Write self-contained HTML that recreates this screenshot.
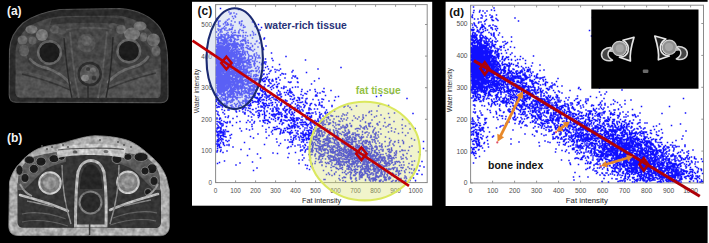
<!DOCTYPE html>
<html><head><meta charset="utf-8"><style>
html,body{margin:0;padding:0;background:#000;}
svg{display:block;font-family:"Liberation Sans",sans-serif;}
</style></head><body>
<svg width="709" height="243" viewBox="0 0 709 243"><rect width="709" height="243" fill="#000"/><rect x="707.6" y="0" width="2" height="243" fill="#fff"/><rect x="192" y="1.8" width="240.2" height="203.9" fill="#fff"/><rect x="445.6" y="1.8" width="262.4" height="204.2" fill="#fff"/><rect x="215.6" y="4.6" width="211.6" height="178" fill="none" stroke="#8a8a8a" stroke-width="1"/><path d="M215.6 182.6v-2.2M215.6 4.6v2.2M235.6 182.6v-2.2M235.6 4.6v2.2M255.6 182.6v-2.2M255.6 4.6v2.2M275.6 182.6v-2.2M275.6 4.6v2.2M295.6 182.6v-2.2M295.6 4.6v2.2M315.6 182.6v-2.2M315.6 4.6v2.2M335.6 182.6v-2.2M335.6 4.6v2.2M355.6 182.6v-2.2M355.6 4.6v2.2M375.6 182.6v-2.2M375.6 4.6v2.2M395.6 182.6v-2.2M395.6 4.6v2.2M415.6 182.6v-2.2M415.6 4.6v2.2M215.6 182.5h2.2M427.2 182.5h-2.2M215.6 150.9h2.2M427.2 150.9h-2.2M215.6 119.3h2.2M427.2 119.3h-2.2M215.6 87.7h2.2M427.2 87.7h-2.2M215.6 56.1h2.2M427.2 56.1h-2.2M215.6 24.5h2.2M427.2 24.5h-2.2" stroke="#8a8a8a" stroke-width="0.9" fill="none"/><g font-size="6.4" fill="#4e4e4e"><text x="215.6" y="192.7" text-anchor="middle">0</text><text x="235.6" y="192.7" text-anchor="middle">100</text><text x="255.6" y="192.7" text-anchor="middle">200</text><text x="275.6" y="192.7" text-anchor="middle">300</text><text x="295.6" y="192.7" text-anchor="middle">400</text><text x="315.6" y="192.7" text-anchor="middle">500</text><text x="335.6" y="192.7" text-anchor="middle">600</text><text x="355.6" y="192.7" text-anchor="middle">700</text><text x="375.6" y="192.7" text-anchor="middle">800</text><text x="395.6" y="192.7" text-anchor="middle">900</text><text x="415.6" y="192.7" text-anchor="middle">1000</text><text x="212" y="184.9" text-anchor="end">0</text><text x="212" y="153.3" text-anchor="end">100</text><text x="212" y="121.7" text-anchor="end">200</text><text x="212" y="90.1" text-anchor="end">300</text><text x="212" y="58.5" text-anchor="end">400</text><text x="212" y="26.9" text-anchor="end">500</text></g><path d="M218.5 75h0M245 59h0M217 67h0M238.5 88h0M218.5 44.5h0M241.5 76.5h0M251.5 85.5h0M232 63h0M264 63h0M223.5 47.5h0M234 70.5h0M229 67h0M236.5 80.5h0M246 72h0M223.5 72h0M272.5 67h0M243 44h0M229.5 80h0M232 74.5h0M234 50h0M240 53.5h0M255.5 59h0M241 68h0M244.5 57h0M245 66h0M248 79h0M234.5 54h0M242 76.5h0M252.5 61h0M239.5 77h0M236.5 72h0M235 57h0M221 61h0M240 95h0M244.5 87h0M242.5 80.5h0M235 82h0M254.5 62h0M224.5 103.5h0M236 85.5h0M243.5 47.5h0M262 100h0M235 81.5h0M234.5 52h0M231.5 74.5h0M246.5 81h0M233.5 92.5h0M224 82.5h0M246.5 62.5h0M236 77.5h0M251.5 50h0M233 79.5h0M231 25.5h0M242.5 109.5h0M245 51.5h0M228 72h0M263 79h0M234.5 96h0M232 101.5h0M225 59.5h0M241.5 93.5h0M241 73.5h0M225.5 58.5h0M240 62h0M242.5 69.5h0M229 70h0M238 83.5h0M227.5 64h0M216.5 97h0M250.5 65h0M227.5 46h0M235 71.5h0M259 72.5h0M223.5 24h0M250 71.5h0M246.5 78.5h0M231 29.5h0M231.5 40h0M240 29.5h0M222 90h0M252.5 46.5h0M243 50h0M224.5 55.5h0M218.5 56h0M248 80.5h0M257.5 66.5h0M231.5 50.5h0M231.5 44.5h0M250.5 83h0M249 72.5h0M224.5 69.5h0M228.5 48h0M233 70.5h0M227.5 93.5h0M235 78.5h0M247.5 53h0M224.5 91.5h0M237 86h0M242 30.5h0M241.5 56h0M224 60h0M242 84h0M245 38h0M226 25h0M232 79h0M224 72.5h0M236 86h0M223 53h0M224 99.5h0M246 66h0M235.5 70h0M235.5 64h0M229 45.5h0M225.5 97.5h0M239.5 69h0M230.5 69h0M237 56.5h0M235.5 72.5h0M224 54h0M221 49h0M243.5 25.5h0M230 57h0M225.5 70h0M246.5 69.5h0M231.5 57h0M231.5 84.5h0M228.5 47.5h0M218 48h0M237.5 63.5h0M250.5 56h0M242 82.5h0M222 84.5h0M248.5 46h0M245.5 61h0M228.5 58h0M229 35.5h0M221 46h0M239 105.5h0M266 62h0M221.5 103.5h0M240 55h0M244 77.5h0M230 68.5h0M234.5 62h0M235.5 57.5h0M222 95.5h0M237.5 76h0M243 45h0M246 61h0M238 65.5h0M235.5 89.5h0M228 96h0M223.5 51h0M241.5 49h0M228.5 84.5h0M247.5 36h0M239 102h0M247.5 63.5h0M226 62.5h0M219 63h0M231 65.5h0M247 64h0M220 60h0M231.5 62h0M221 63.5h0M259 57h0M231.5 88h0M242 81.5h0M243.5 32.5h0M222.5 70.5h0M239 91.5h0M238.5 63.5h0M233.5 64h0M236 80h0M229 53.5h0M222.5 87.5h0M248.5 86h0M243.5 83h0M233 80h0M220.5 64.5h0M224 81h0M226 66h0M238 92.5h0M223.5 51h0M243 48h0M238.5 57.5h0M231.5 35h0M241.5 59h0M222 105.5h0M241.5 131h0M238 61.5h0M234.5 97h0M232.5 76h0M239 51.5h0M234.5 59h0M218 83.5h0M241 69.5h0M222 32h0M239 66h0M234.5 74.5h0M235.5 71h0M219.5 61h0M227 64h0M236 79h0M252.5 22h0M238 64.5h0M260.5 85h0M227 86h0M220.5 66h0M231.5 66.5h0M226 35h0M238.5 86h0M232 49.5h0M235.5 78h0M231 67.5h0M250 48h0M226.5 33.5h0M224.5 54.5h0M221.5 55.5h0M254.5 64.5h0M231.5 107.5h0M232.5 37h0M238 51h0M252.5 45.5h0M226 39h0M234 49.5h0M232 61h0M225.5 85h0M244 69h0M222 48.5h0M236 111h0M227.5 54h0M224.5 48.5h0M221.5 64.5h0M250 68h0M227 39h0M235.5 67.5h0M218.5 48.5h0M232.5 86h0M240.5 71.5h0M229 74h0M233 107h0M219.5 61.5h0M248 63h0M250 67h0M234.5 61.5h0M216.5 50.5h0M259.5 79.5h0M240.5 85h0M240 86.5h0M230 64h0M245 61.5h0M217 64h0M226.5 79h0M224.5 49h0M229 96h0M232.5 71h0M233 73.5h0M244 93h0M233 62h0M262 65h0M256.5 85.5h0M220.5 77h0M242 65.5h0M230.5 48h0M255 63.5h0M228.5 62.5h0M223.5 54h0M234 73.5h0M227 66.5h0M224 72h0M222 58.5h0M235.5 46h0M262.5 67.5h0M232 55h0M252 93h0M236.5 43.5h0M227 79h0M227 46.5h0M218.5 54h0M233 56.5h0M233 118.5h0M254.5 49.5h0M237 69.5h0M231.5 87h0M229 62h0M228.5 66h0M248.5 82h0M217 60h0M223.5 82.5h0M235.5 84h0M232.5 33.5h0M238.5 72h0M239 44.5h0M234 55.5h0M225 74.5h0M237 52h0M226 88h0M232.5 27.5h0M222.5 75.5h0M253 89h0M237.5 71.5h0M220.5 60h0M229 54h0M234 61h0M237 94h0M242 75.5h0M230 40.5h0M231.5 78h0M221 90.5h0M229 74.5h0M229 45.5h0M258 47h0M244 58h0M236.5 53.5h0M228 84.5h0M256.5 53h0M233 85h0M225.5 81h0M223.5 79h0M238 90h0M237.5 46.5h0M241 48h0M242 95h0M240 58h0M247.5 71h0M218 61.5h0M250 62.5h0M234.5 62h0M237.5 71.5h0M231 29.5h0M247.5 81h0M245.5 91.5h0M227.5 57h0M237 98h0M224.5 78h0M250.5 62.5h0M218 69h0M229.5 40h0M243.5 58.5h0M241 44.5h0M246 42h0M245.5 35.5h0M249.5 61.5h0M237 50h0M227 73h0M231 13h0M228 75.5h0M236.5 86h0M224.5 114h0M242.5 73.5h0M246 85h0M234 57h0M245.5 75.5h0M238.5 70h0M236.5 79.5h0M234.5 96.5h0M226 61h0M237 81.5h0M242.5 95h0M227.5 89h0M238.5 49h0M231.5 105.5h0M242.5 59.5h0M224.5 69.5h0M260.5 81.5h0M237 51h0M219 64.5h0M227.5 122h0M228 57h0M246.5 69.5h0M218 91h0M229.5 44h0M237 77h0M229 80.5h0M243 52h0M231.5 90h0M245 93h0M255.5 68.5h0M245.5 40.5h0M241.5 75h0M232 60h0M219.5 70.5h0M248.5 61.5h0M239.5 56h0M236 50h0M237.5 64h0M237 57h0M219 62h0M245.5 96.5h0M229 82.5h0M242 75h0M221.5 89h0M242.5 79h0M241.5 45h0M244.5 69.5h0M231 55h0M221 60h0M270 71.5h0M235.5 56.5h0M225.5 58h0M222.5 84h0M230 83.5h0M219 84.5h0M232.5 80h0M232 52h0M247.5 60h0M231 52h0M235.5 61h0M236.5 74h0M224.5 42.5h0M238 84.5h0M241.5 47.5h0M240.5 75h0M236.5 75.5h0M229 72h0M244 59h0M235.5 35h0M225 78.5h0M231 69.5h0M218 84.5h0M254 64.5h0M224 47h0M243.5 70h0M223.5 90h0M242 79h0M240.5 46h0M244 93.5h0M245.5 55h0M224.5 85h0M245 90h0M247.5 66h0M228 34.5h0M242.5 109h0M227.5 59.5h0M241 74.5h0M216.5 55h0M220 104.5h0M224.5 83.5h0M256 102h0M250 97.5h0M218 62h0M224.5 63h0M264.5 38h0M239.5 45.5h0M249 91.5h0M227 105.5h0M234 91.5h0M236.5 58h0M228.5 66h0M240.5 70.5h0M261.5 64.5h0M227.5 55h0M223.5 42h0M221 84.5h0M233.5 65h0M237 87h0M240.5 82h0M226.5 63.5h0M223.5 66.5h0M223 61.5h0M231 64h0M230 59h0M248.5 62h0M221 71.5h0M220 48.5h0M234 38h0M245.5 38h0M222 78.5h0M218.5 64.5h0M231.5 73.5h0M229 30h0M231 44h0M233 52.5h0M229 64h0M242.5 82h0M221 67.5h0M250.5 77h0M224 66h0M229 85h0M233.5 75h0M259.5 43h0M221 37h0M236.5 97.5h0M250.5 86.5h0M243.5 83.5h0M233.5 68h0M233.5 83h0M231 74h0M250.5 47.5h0M224 78h0M230 65h0M258 75.5h0M228 88h0M263 48h0M225 70h0M225.5 107h0M239.5 61h0M239 53.5h0M225.5 70h0M261.5 27.5h0M238 92.5h0M242 102.5h0M238.5 70.5h0M231.5 52.5h0M252.5 46.5h0M231.5 58.5h0M223.5 28h0M228.5 70.5h0M234.5 83h0M231 56.5h0M236.5 80h0M222 40.5h0M220.5 87h0M245 52h0M234.5 83h0M249 56h0M230 93.5h0M262 95.5h0M219.5 76h0M229.5 67h0M225 59.5h0M233 100.5h0M241.5 75.5h0M233.5 54.5h0M230 90.5h0M243 103.5h0M236 67.5h0M225.5 68h0M217 59h0M222 88.5h0M236 47h0M227 48h0M240 64.5h0M234.5 57.5h0M226 59.5h0M238 37h0M234 89h0M236 91.5h0M230 68h0M217.5 51.5h0M236 77.5h0M247 70.5h0M221 76h0M231.5 100h0M256.5 85.5h0M219.5 58.5h0M235.5 55h0M239.5 80.5h0M243 72h0M222.5 53h0M231.5 92h0M252 85.5h0M237.5 80h0M243 91.5h0M243.5 40.5h0M244.5 75h0M227.5 77.5h0M236.5 67h0M239.5 67h0M241.5 71.5h0M238 61.5h0M225 77.5h0M228.5 71.5h0M272 81h0M234.5 39h0M234 81.5h0M224.5 63.5h0M226 80.5h0M249.5 65h0M245 72.5h0M230.5 63h0M223 91h0M243.5 50h0M243 55h0M217.5 89.5h0M235.5 84h0M239 89h0M237 78.5h0M236 87.5h0M228.5 86.5h0M251 67h0M238.5 59h0M229.5 72.5h0M229 52h0M232.5 71.5h0M237 81h0M231 54h0M228.5 76h0M243.5 61.5h0M235 39.5h0M235 66h0M228 84h0M254.5 86.5h0M223.5 95.5h0M229 67.5h0M226 76h0M239.5 70.5h0M230.5 65.5h0M228 85.5h0M227 65.5h0M230.5 54.5h0M230.5 41.5h0M238 77.5h0M229.5 96h0M223 78h0M238.5 58.5h0M230 84h0M233.5 73h0M249.5 72h0M243 65.5h0M220 32.5h0M237 95h0M218 29h0M239 58.5h0M229.5 62h0M222 76h0M244 74.5h0M226.5 86.5h0M231.5 78.5h0M222 80h0M242 91h0M233.5 76h0M226 84h0M242.5 87.5h0M228.5 46h0M232 64.5h0M224 79h0M244.5 75h0M246 75h0M221.5 57.5h0M229 80h0M244 70.5h0M245 53.5h0M231.5 94.5h0M238.5 86.5h0M223 86h0M252.5 57h0M221.5 50h0M222.5 78h0M229.5 101.5h0M241.5 56h0M236 65.5h0M242.5 84h0M229 84h0M240 66.5h0M236 80h0M229.5 56h0M248 68h0M226 76h0M217 60.5h0M243.5 65h0M218.5 99h0M225.5 94.5h0M227 42h0M255 60.5h0M242 89h0M217.5 69.5h0M226.5 79h0M233 46h0M233.5 81.5h0M229.5 78h0M227 67h0M237 70.5h0M248 85h0M243 81h0M235 47.5h0M245.5 99h0M235.5 63.5h0M232.5 89.5h0M236.5 51h0M231 54.5h0M230.5 52.5h0M223 94.5h0M245.5 40h0M221.5 60.5h0M228.5 44h0M243.5 39.5h0M241 80.5h0M229 56.5h0M234 70.5h0M239.5 66h0M228 50.5h0M225 54.5h0M266 46h0M251 76.5h0M235.5 71.5h0M228.5 96.5h0M239 67.5h0M231.5 71.5h0M219.5 62.5h0M226 79h0M240 35.5h0M230.5 85.5h0M218 47.5h0M245 66h0M228 47h0M235 58.5h0M235.5 75.5h0M241.5 62.5h0M227 68.5h0M232 71h0M227 64h0M226 58h0M235 88.5h0M227 78.5h0M237 70h0M241 58.5h0M239.5 73.5h0M240 102.5h0M220.5 70h0M237 51h0M247 76h0M223.5 47h0M228 110h0M258.5 24.5h0M232 57h0M240 70h0M236.5 73h0M220.5 91.5h0M227.5 88h0M241 69h0M234.5 67.5h0M238 39.5h0M242.5 41h0M238.5 67.5h0M244.5 62.5h0M230.5 55h0M235 66h0M225.5 62h0M224 79h0M221 40.5h0M221.5 87.5h0M227 79.5h0M241.5 59h0M242 77h0M232.5 55.5h0M232.5 45.5h0M230 58h0M238 74h0M225.5 83.5h0M247 69.5h0M224.5 77h0M240 103.5h0M224.5 95h0M260.5 101.5h0M235.5 86h0M231 57h0M230.5 95h0M243 63h0M237.5 83.5h0M240 67.5h0M225.5 55h0M228 58h0M243.5 48h0M217.5 67.5h0M250 90.5h0M228 49.5h0M226.5 52h0M226.5 76.5h0M220.5 54h0M230 67.5h0M224 54h0M219.5 54.5h0M239.5 63.5h0M232 52.5h0M230 14h0M258.5 107h0M224 68.5h0M242.5 46h0M254 55h0M237 47.5h0M237.5 67.5h0M246 47.5h0M233 100.5h0M218.5 74.5h0M238.5 59h0M230 93.5h0M246.5 78h0M236 47.5h0M234 100h0M245.5 43.5h0M235 58h0M229.5 74h0M244 72h0M248 42.5h0M238.5 75.5h0M265 91.5h0M237.5 92.5h0M247 47.5h0M239 93.5h0M231 69.5h0M227.5 81.5h0M226.5 57.5h0M218.5 51.5h0M235.5 76.5h0M228.5 49h0M237 74.5h0M248.5 59h0M228 77.5h0M251.5 67h0M232 51h0M228.5 85h0M243.5 88h0M222 79h0M222.5 91h0M234.5 91.5h0M227.5 103.5h0M227.5 102.5h0M227 50h0M244 61h0M232.5 43.5h0M229 70h0M224.5 75h0M228 94.5h0M229 56h0M227.5 73h0M240 59.5h0M223.5 76h0M243 36.5h0M220.5 56h0M253.5 90.5h0M242.5 77h0M219.5 88.5h0M227.5 53.5h0M256.5 41.5h0M250 71.5h0M222 71.5h0M223 71.5h0M225 46.5h0M265.5 59h0M245 67h0M241 45h0M220.5 8.5h0M245 76h0M218.5 83.5h0M240 121.5h0M236 84.5h0M240.5 82h0M232.5 60.5h0M241.5 90.5h0M219 47.5h0M232.5 101h0M230.5 37h0M243 82h0M256.5 71.5h0M257 55h0M244 70.5h0M218.5 63h0M249 88.5h0M228.5 88.5h0M244 84.5h0M236.5 73.5h0M223 67h0M234.5 54.5h0M229.5 71h0M235.5 87.5h0M220.5 61h0M236.5 61h0M237 59.5h0M247.5 64h0M219.5 81.5h0M253.5 33h0M231.5 69.5h0M245.5 95.5h0M231 39.5h0M241 86.5h0M238.5 69.5h0M223 112.5h0M218.5 40.5h0M245 73.5h0M241 74.5h0M253.5 94h0M226.5 86.5h0M219 37h0M247.5 60.5h0M225 77.5h0M232.5 54h0M224.5 82h0M222 70.5h0M221 76.5h0M254.5 78.5h0M246.5 76.5h0M221.5 62.5h0M234 76h0M226 79.5h0M224.5 69.5h0M233 47h0M245 69h0M234.5 67.5h0M222 86h0M226 79h0M220.5 53h0M227.5 87.5h0M238 70.5h0M233 82.5h0M236.5 50h0M241 54h0M229 94.5h0M262.5 94.5h0M238 54h0M224 98.5h0M237 43h0M252 78.5h0M249 75.5h0M231.5 65h0M251.5 56h0M232 67h0M232 49.5h0M218.5 21.5h0M237 64.5h0M235.5 49h0M233 50.5h0M221 74h0M241 78.5h0M232.5 61h0M250 90.5h0M225.5 48.5h0M237.5 74h0M222 109.5h0M236 86h0M250.5 93.5h0M230 69h0M222.5 75.5h0M220.5 31.5h0M217 88h0M248.5 86h0M241 88.5h0M236.5 84h0M238.5 82.5h0M221 56h0M221 83h0M239 54h0M221 57.5h0M243.5 66h0M230 55.5h0M231.5 97h0M225 61.5h0M253.5 81h0M219.5 88h0M218 78h0M244 57.5h0M224.5 69h0M233 59.5h0M225 100.5h0M251 74h0M219 58.5h0M229.5 77h0M252.5 58.5h0M235 60.5h0M235 55.5h0M237.5 89h0M228.5 62h0M234.5 44.5h0M255 44h0M228.5 52h0M251 59.5h0M227 102.5h0M231.5 54h0M233 71.5h0M224 65h0M230.5 81h0M242.5 83.5h0M231.5 82.5h0M230.5 89h0M238 60.5h0M248 40.5h0M221.5 53.5h0M231.5 46h0M218.5 34h0M234.5 54h0M259.5 82h0M219.5 92h0M234.5 87.5h0M219.5 89h0M246.5 60.5h0M223 61.5h0M236.5 112h0M255 95.5h0M230.5 62h0M237.5 63h0M227.5 64.5h0M243.5 67h0M236 63.5h0M230.5 62h0M248.5 72.5h0M251 65h0M246 43h0M228 67h0M225.5 66h0M222 65h0M225 68h0M229.5 50h0M228 68.5h0M217.5 70h0M248 64h0M239.5 79.5h0M223.5 92h0M263.5 49.5h0M259 55.5h0M250.5 35.5h0M247 70.5h0M217.5 53h0M220.5 52h0M237.5 65h0M238.5 69.5h0M253.5 35h0M236 68.5h0M242 44h0M217.5 65h0M234 35.5h0M237.5 68h0M242 21h0M239 52h0M227.5 82.5h0M253.5 71h0M232 92h0M222.5 65.5h0M227 50.5h0M235.5 105h0M236 77h0M232.5 88.5h0M235.5 52h0M234.5 94h0M232 90h0M232 105h0M236.5 80h0M229.5 83.5h0M230.5 41.5h0M236.5 46.5h0M251 82.5h0M233.5 80.5h0M225 80.5h0M264 39h0M228 74.5h0M238 37.5h0M222 95h0M226 78h0M216.5 51.5h0M247 70h0M230 72.5h0M238.5 63h0M240 103.5h0M260 58h0M218 103h0M245 90h0M240.5 64h0M245 88.5h0M247.5 48.5h0M245.5 62h0M229 74.5h0M229 110h0M240 73h0M231 72.5h0M230.5 78.5h0M243.5 83.5h0M218 62h0M234 46h0M237.5 65.5h0M234 75h0M225.5 96.5h0M245.5 58h0M238.5 81.5h0M224 61.5h0M241.5 21.5h0M217 74h0M240.5 51.5h0M243.5 108.5h0M235.5 67.5h0M234 50h0M240 71.5h0M242 94h0M233.5 71.5h0M237 99.5h0M225.5 70.5h0M243 69.5h0M242 71.5h0M224.5 56.5h0M216.5 72.5h0M228.5 83.5h0M245 52h0M220 79h0M222.5 72h0M240.5 61h0M254.5 54h0M238.5 61h0M231 78.5h0M231.5 55h0M227 62.5h0M242.5 63h0M248 83.5h0M224 87h0M221.5 66.5h0M247 68h0M231 91.5h0M224 53h0M245 79.5h0M242.5 65.5h0M228.5 70.5h0M235.5 55.5h0M243 39.5h0M232 107h0M220.5 67.5h0M219.5 69.5h0M227 101.5h0M222 67.5h0M236 80h0M244 40h0M259.5 62.5h0M224.5 38.5h0M228 36h0M235.5 57.5h0M237 54h0M234 108.5h0M247 71h0M221.5 94.5h0M248.5 57.5h0M249.5 78.5h0M259.5 100.5h0M240 57h0M240 93.5h0M235 16h0M228.5 61.5h0M232.5 62h0M247 45.5h0M238.5 32.5h0M224 52h0M224.5 79h0M240 69.5h0M235.5 55.5h0M221 42.5h0M228 47.5h0M229 81h0M239.5 92h0M222 28.5h0M219.5 104h0M241.5 60h0M249 60.5h0M253 61h0M228 80.5h0M219.5 65h0M256.5 76h0M220 63.5h0M232.5 54.5h0M238 90.5h0M233.5 84h0M236.5 70.5h0M224 85.5h0M249.5 60h0M222.5 77.5h0M234 88.5h0M239 65.5h0M234 45h0M240.5 60h0M225.5 66h0M233.5 62h0M242 86.5h0M230.5 96.5h0M231.5 52.5h0M235 42h0M229.5 49h0M228 71.5h0M236 64h0M241.5 74h0M228.5 50h0M242 81.5h0M218.5 83h0M226 45.5h0M251 76h0M236 72.5h0M231 68.5h0M243.5 76h0M227.5 69.5h0M255.5 58h0M217 70h0M219 115.5h0M240.5 78.5h0M237.5 103.5h0M220.5 67h0M232 100h0M229.5 49h0M224.5 82.5h0M223 72.5h0M224 55h0M226 97h0M220 73.5h0M242.5 54.5h0M254 63.5h0M218.5 83.5h0M232.5 53h0M228 24.5h0M223 46h0M217 78.5h0M236 98.5h0M222.5 92h0M245.5 70h0M234 54h0M226.5 59.5h0M241.5 105.5h0M248 76.5h0M243 37h0M220.5 83h0M228 38.5h0M232.5 44.5h0M233 96h0M219 59.5h0M239.5 67h0M235 52.5h0M228.5 24.5h0M230.5 91h0M219 64.5h0M241.5 90h0M247 51.5h0M227.5 99.5h0M227 73h0M222.5 55.5h0M221 92.5h0M242 75h0M226.5 42.5h0M238.5 52.5h0M231.5 85h0M230.5 67h0M220.5 86.5h0M239 80.5h0M252.5 38h0M233 79.5h0M237 73h0M238.5 39.5h0M231.5 89h0M232 64h0M243 35.5h0M237.5 95h0M229.5 52.5h0M239 59.5h0M222.5 70.5h0M218 57.5h0M241.5 67h0M236 92.5h0M251 105.5h0M226 84.5h0M248.5 54.5h0M238.5 83h0M230.5 56h0M251 43.5h0M234.5 85h0M235.5 96.5h0M250.5 76h0M254.5 81h0M217.5 61.5h0M236 71h0M238 71h0M251.5 71.5h0M237.5 81h0M224 44h0M227 86h0M229.5 90.5h0M226 81.5h0M233 83h0M233 71h0M227 90.5h0M232.5 77h0M240.5 51.5h0M222.5 67h0M248 48.5h0M220.5 49.5h0M228 48h0M223 77.5h0M219.5 67.5h0M218.5 64h0M239 31h0M233.5 72h0M232 72.5h0M238 44h0M231.5 79.5h0M248.5 43h0M225.5 43h0M232.5 48h0M221 81.5h0M260 30h0M253 51h0M241 74h0M248 64h0M222.5 66.5h0M242.5 51.5h0M237.5 67.5h0M235 68h0M240 82.5h0M229.5 61.5h0M219.5 55h0M239 86h0M247.5 52h0M235.5 87h0M222.5 63.5h0M218 56h0M241.5 69.5h0M228.5 57.5h0M251 81.5h0M218 107h0M228 65h0M227 57.5h0M240.5 41.5h0M233 62h0M254 75h0M238 77.5h0M240 70h0M229 80.5h0M236.5 58h0M222 49.5h0M236.5 66h0M222 61h0M237 55.5h0M231.5 57h0M233.5 82.5h0M248.5 54.5h0M240 72.5h0M234 83h0M243.5 45h0M250.5 64.5h0M225 55.5h0M230 47.5h0M246 75.5h0M222 82.5h0M235.5 69.5h0M244.5 66h0M229.5 77h0M239 87h0M225 62.5h0M240 95h0M254 85h0M240.5 70.5h0M218.5 47.5h0M234.5 39.5h0M254 78.5h0M237.5 76.5h0M236 69h0M241.5 55.5h0M236 71h0M242.5 48h0M236 65.5h0M240.5 77.5h0M235 76h0M238 92.5h0M236.5 77.5h0M221.5 64h0M242 87h0M221 67h0M229.5 69h0M227 60h0M232 70h0M245 52.5h0M221.5 82h0M239 64.5h0M219 87h0M220 88.5h0M236 65h0M231 82.5h0M233 36.5h0M224.5 29h0M237.5 84.5h0M245.5 43.5h0M258.5 100.5h0M231.5 32h0M222.5 86.5h0M258 58h0M256 68h0M240.5 82.5h0M227 64.5h0M234 61.5h0M226.5 57.5h0M226 90h0M237.5 86.5h0M255 26.5h0M232 85h0M230.5 57h0M237.5 58.5h0M223 62.5h0M233.5 68h0M243.5 68h0M227 123h0M230 63h0M231 55h0M250.5 35h0M224 75.5h0M224.5 77.5h0M232.5 48h0M230.5 58.5h0M239.5 22h0M238 92h0M234.5 72h0M226.5 74h0M231 44.5h0M218.5 26h0M238 71h0M246 72.5h0M241 43.5h0M229 74.5h0M231.5 65h0M233.5 72.5h0M235.5 73.5h0M227 66h0M229.5 75.5h0M224 42.5h0M244.5 53h0M218.5 24h0M228 98h0M224 53h0M246.5 69.5h0M231.5 92.5h0M218.5 66.5h0M239 71.5h0M219 51h0M254.5 66h0M229.5 87h0M221 70h0M222 70h0M236.5 68h0M229 72.5h0M230 59h0M240.5 83h0M216.5 49.5h0M223.5 73h0M233.5 70.5h0M243.5 54.5h0M237.5 75h0M248.5 49h0M249.5 78.5h0M236 87h0M230 64.5h0M243 61.5h0M246 92.5h0M235.5 71h0M225 51.5h0M250 49.5h0M234 73.5h0M222 55.5h0M224.5 106h0M237.5 93h0M257.5 86h0M249 60h0M225 94h0M250.5 49.5h0M246.5 73.5h0M242.5 85.5h0M256 57h0M233 91h0M230 78h0M232 37.5h0M226.5 84h0M226.5 40.5h0M227 70h0M239 74h0M239.5 49.5h0M226 54.5h0M228 76h0M249 64h0M246 88.5h0M219.5 53.5h0M235 43.5h0M255.5 34.5h0M218.5 82.5h0M224.5 81h0M221.5 87.5h0M226.5 81.5h0M245.5 41.5h0M222.5 37h0M220 85h0M233 83.5h0M250.5 87h0M242 60.5h0M228.5 74h0M243.5 88h0M237 63.5h0M232.5 98.5h0M236.5 104.5h0M225 84.5h0M236 82h0M224.5 74.5h0M232.5 63.5h0M219 43h0M229.5 78.5h0M236.5 73h0M237.5 44.5h0M246 70h0M224.5 59h0M245 72h0M243.5 50.5h0M248.5 91.5h0M246 80.5h0M237.5 72.5h0M227 73.5h0M248.5 67h0M257 41h0M234 42h0M229.5 59h0M221 64.5h0M227 46.5h0M238.5 35.5h0M238.5 73.5h0M240 71h0M243 64h0M220.5 75.5h0M224 62.5h0M235 52h0M245 41h0M248 68h0M254 88.5h0M241.5 74h0M235 44h0M227 52h0M225 66.5h0M224 71.5h0M230.5 60.5h0M238 77h0M217.5 63h0M268.5 69h0M239 53h0M245 96.5h0M240.5 66.5h0M234 35h0M240.5 63.5h0M238 75.5h0M236 106.5h0M244.5 57h0M241 80h0M234 94h0M229 37.5h0M221 75.5h0M221.5 71.5h0M230.5 52.5h0M227 64h0M244.5 73h0M231 71.5h0M244 77h0M254.5 56h0M243.5 71h0M226 79.5h0M243.5 86h0M239 53h0M235.5 75.5h0M253.5 71h0M235.5 96.5h0M234.5 60.5h0M237 82.5h0M235.5 39h0M228.5 86.5h0M224.5 84h0M235.5 54.5h0M243 30.5h0M240 64h0M241 67.5h0M235 59.5h0M229 86.5h0M242.5 45h0M240.5 105h0M242.5 52h0M242.5 72.5h0M229.5 86h0M248 59.5h0M235 61.5h0M233.5 97h0M228.5 79h0M236.5 70h0M220 80h0M220.5 81.5h0M232.5 71h0M228 53.5h0M221.5 69h0M232.5 74h0M230 82.5h0M235 71h0M230.5 68.5h0M241 56.5h0M219 75.5h0M238.5 69.5h0M236.5 45.5h0M222 68.5h0M221 38.5h0M228.5 52h0M221 52h0M229 63.5h0M234.5 63.5h0M218 64h0M234 47.5h0M227 73.5h0M233.5 95.5h0M222.5 85.5h0M226.5 89h0M232.5 70h0M223.5 99h0M223 68.5h0M218 35.5h0M217.5 55.5h0M229.5 80h0M216.5 62.5h0M227 60h0M227 72h0M218.5 74.5h0M233.5 43.5h0M223.5 80h0M218 91.5h0M223 77h0M225.5 77.5h0M228.5 76.5h0M237.5 54.5h0M231.5 51.5h0M217 80h0M230 73.5h0M223.5 59h0M224.5 67.5h0M220.5 69h0M220 93h0M217.5 64h0M216.5 80h0M221 34.5h0M242 59h0M218.5 50.5h0M224 67.5h0M230.5 64.5h0M222.5 88.5h0M232 102h0M217.5 79h0M239.5 58.5h0M233 54h0M227 44h0M219.5 65.5h0M218 38h0M217.5 64h0M231 77.5h0M237 70.5h0M227 67h0M222.5 47h0M219.5 53.5h0M218.5 63.5h0M229 53h0M219.5 51h0M219 85h0M221.5 49.5h0M216.5 69h0M222 75h0M217 79h0M229.5 80.5h0M229 55.5h0M236 72h0M228.5 51.5h0M223 58h0M218 73h0M217.5 63.5h0M225 36h0M222.5 49h0M225 30h0M227.5 23h0M217.5 68.5h0M226.5 53h0M225 51.5h0M216.5 69h0M223 48.5h0M229.5 66h0M226.5 46h0M227 67h0M224 58.5h0M225 69h0M234.5 108h0M222.5 76h0M217.5 61.5h0M219.5 83h0M225.5 83h0M232 81.5h0M230.5 105.5h0M220 86.5h0M223 100h0M219 86h0M224 66h0M219.5 66.5h0M221 78.5h0M223 43h0M220 47.5h0M227 48.5h0M221 71h0M233 66h0M223 85.5h0M225.5 52.5h0M233.5 99.5h0M224 67h0M226 66h0M229.5 78h0M216.5 79h0M220.5 88.5h0M222.5 89.5h0M241.5 40.5h0M233.5 45h0M227 79.5h0M220 71.5h0M221 65.5h0M218.5 49h0M234 68h0M235.5 80.5h0M221 51h0M218 69.5h0M217 63.5h0M238.5 62h0M218 61h0M219 43.5h0M224 92h0M225 60h0M224 66h0M221 100.5h0M226 90.5h0M220.5 75.5h0M241.5 68.5h0M219 65h0M217.5 72.5h0M226.5 53.5h0M224 64.5h0M216.5 79.5h0M217.5 71h0M226.5 68.5h0M232.5 97h0M223.5 95.5h0M220.5 66.5h0M229.5 72h0M218.5 64.5h0M218 57h0M223.5 40h0M217 56h0M230.5 102.5h0M235.5 49.5h0M219 66.5h0M231 94h0M223.5 73.5h0M236 76.5h0M218.5 73.5h0M220 76.5h0M228.5 77h0M218.5 62h0M219.5 67h0M233 78.5h0M217.5 97.5h0M227.5 61.5h0M221.5 30h0M218.5 57.5h0M219.5 85.5h0M218.5 88h0M229 81h0M219 70.5h0M233 93.5h0M228 41h0M238 97.5h0M223.5 90.5h0M222.5 64h0M221 68h0M231.5 82.5h0M225 56.5h0M227 83h0M219.5 74.5h0M228 55h0M222 39.5h0M221.5 78.5h0M223 82.5h0M236 73.5h0M223.5 41.5h0M238 70.5h0M225.5 42h0M218.5 57.5h0M218 72.5h0M217 50h0M224 67h0M234 81.5h0M232.5 63h0M233 43.5h0M218 90h0M230 77.5h0M227.5 62.5h0M224 84.5h0M226 75h0M225 76h0M223 44h0M222.5 54h0M219 70h0M219 48h0M220.5 73h0M219.5 69.5h0M219 72.5h0M221 72h0M222.5 48.5h0M224.5 53h0M220.5 79h0M223 50h0M224.5 50h0M222.5 71h0M233.5 81h0M228.5 60.5h0M225.5 62h0M222 63.5h0M216.5 70.5h0M234 73h0M220 61.5h0M229 70h0M230 54h0M218.5 89.5h0M220 94h0M217 100h0M225 37.5h0M230 101h0M222.5 62h0M221 57h0M218 71h0M221.5 60.5h0M230 84.5h0M226.5 89h0M217.5 83h0M233 55.5h0M230 29.5h0M234.5 45.5h0M225.5 53.5h0M220.5 82h0M223 63h0M228.5 43h0M217.5 57h0M225.5 70.5h0M233.5 80.5h0M227.5 62.5h0M226 55.5h0M221.5 49.5h0M223 64h0M223.5 80h0M234.5 42.5h0M219.5 88h0M227 66h0M223.5 93.5h0M222 74h0M217 78.5h0M217.5 74h0M222 66.5h0M224.5 51h0M224 55h0M222.5 59.5h0M231 73.5h0M219.5 93.5h0M239.5 46h0M225.5 54.5h0M217 55h0M223.5 80h0M217.5 42.5h0M226 104.5h0M227.5 66h0M230 67.5h0M219 72.5h0M229.5 70.5h0M218.5 46.5h0M218 51h0M216.5 46.5h0M224.5 53h0M222.5 50h0M228.5 81h0M219 52h0M227 64.5h0M222 84.5h0M220 75.5h0M221 61.5h0M217.5 58.5h0M249.5 62h0M233 85h0M243.5 69.5h0M225 58.5h0M223 54.5h0M221 81h0M235 79.5h0M225.5 81h0M228.5 71.5h0M219.5 47h0M227 103.5h0M222.5 60.5h0M235 58.5h0M230 74.5h0M224 69h0M220 78h0M225.5 74.5h0M222.5 60.5h0M224.5 55.5h0M221 40.5h0M218 112h0M224.5 64h0M216.5 93.5h0M230 77.5h0M216.5 99.5h0M218 100h0M225.5 74h0M226.5 59h0M228 62h0M231.5 60h0M241 94h0M219.5 68.5h0M219.5 56.5h0M222 70h0M235.5 69h0M222 69h0M219.5 68.5h0M220.5 85h0M230 63.5h0M224 51h0M228.5 55h0M216.5 83.5h0M221 69h0M226 59.5h0M219.5 85.5h0M218.5 56h0M219.5 64.5h0M231 67h0M218 92h0M230.5 54.5h0M225 67.5h0M227 67.5h0M222 67.5h0M228.5 79.5h0M218 70.5h0M227 78h0M218.5 80h0M217 50.5h0M225 87.5h0M230 67.5h0M227.5 74.5h0M221.5 39h0M217.5 56h0M217 60.5h0M224 81.5h0M221 87h0M221 105.5h0M233 80h0M226.5 62h0M217.5 49.5h0M220 73h0M228.5 37.5h0M219.5 55h0M225.5 65.5h0M229.5 85.5h0M227.5 69h0M221.5 67.5h0M217 56h0M222 75h0M224.5 58h0M220.5 52.5h0M218.5 48h0M225 79.5h0M227 62h0M216.5 58.5h0M219.5 62h0M217 76h0M237.5 73.5h0M225.5 64.5h0M232 70h0M217.5 64h0M218 95.5h0M217 56.5h0M234 66.5h0M225.5 56h0M217.5 73.5h0M220.5 86h0M225 58h0M224.5 52.5h0M222.5 55h0M222.5 51.5h0M237.5 36h0M224 43.5h0M220.5 49h0M220 58h0M225.5 55h0M224.5 57.5h0M216.5 81.5h0M223 36.5h0M219.5 80.5h0M226 73.5h0M227.5 48h0M218 39h0M220 26h0M226.5 73.5h0M221 56.5h0M221 53.5h0M227.5 61h0M217 70h0M218 86h0M221 65.5h0M238 43.5h0M218 55.5h0M236.5 72h0M223.5 73.5h0M230 59h0M224.5 41h0M221 85h0M224 76.5h0M234.5 69h0M219.5 91h0M221 77.5h0M228.5 75.5h0M229.5 55h0M236.5 86h0M218 47.5h0M220.5 61h0M219.5 87.5h0M236 44.5h0M217.5 63.5h0M226.5 62h0M220.5 94h0M229.5 45.5h0M223.5 64h0M227 71.5h0M224 85h0M220.5 78h0M217.5 70.5h0M232 64h0M233.5 88h0M227.5 53h0M221 101.5h0M227 93h0M217 107.5h0M218.5 59h0M216.5 59h0M223.5 78.5h0M221 81h0M221.5 81.5h0M231 84h0M225.5 88h0M240.5 87h0M227.5 51h0M228 38h0M225.5 61h0M219 64.5h0M222 78.5h0M217 66.5h0M226 76.5h0M223.5 49h0M225 87h0M217.5 90h0M237.5 88.5h0M223.5 72h0M225.5 105.5h0M220.5 77.5h0M230.5 63h0M220 65.5h0M223.5 90.5h0M231.5 68.5h0M218 61.5h0M222 71h0M218 77.5h0M217 75.5h0M228 71h0M229.5 82.5h0M221 72h0M224.5 69h0M218.5 49.5h0M225.5 65.5h0M234.5 73h0M230.5 87h0M224.5 78.5h0M221.5 65.5h0M237 85h0M260 39h0M231.5 61h0M225 57h0M223 88h0M230 76.5h0M224 71.5h0M229 85.5h0M224 69.5h0M218.5 49h0M218.5 83.5h0M219.5 68h0M241 77.5h0M225 54h0M227.5 61h0M218 61h0M228.5 76.5h0M228 80.5h0M224 87.5h0M219 86h0M227 76.5h0M223 72h0M217.5 58.5h0M248 75.5h0M228.5 51.5h0M219.5 26.5h0M223.5 78.5h0M224 70.5h0M231 59h0M223.5 53.5h0M217.5 62h0M228.5 37h0M224.5 55.5h0M226.5 67h0M219 77.5h0M219.5 49.5h0M229.5 73.5h0M223 47.5h0M226.5 103.5h0M221 85.5h0M222 70.5h0M216.5 78h0M217.5 72h0M225 49h0M226 76h0M229 58h0M232 73.5h0M216.5 54.5h0M230.5 79h0M228 85.5h0M224 93.5h0M226.5 52h0M224.5 75h0M216.5 60.5h0M226 72h0M224.5 50h0M216.5 74.5h0M226 41.5h0M218 57.5h0M220 80.5h0M218.5 67h0M224.5 90h0M216.5 55.5h0M233.5 82.5h0M237.5 61.5h0M220 65.5h0M217 45h0M224.5 44.5h0M243.5 67h0M226.5 72h0M227.5 46.5h0M236.5 48h0M219 102h0M222.5 58h0M229.5 72h0M234.5 40.5h0M231 59h0M221.5 53h0M217.5 80.5h0M226.5 88h0M224.5 63.5h0M232.5 77.5h0M216.5 37.5h0M217 62.5h0M218 85.5h0M221.5 96.5h0M216.5 70.5h0M219 69.5h0M229.5 72h0M226 56h0M227.5 77h0M224.5 66h0M217 77h0M225.5 69.5h0M229 55.5h0M218 89.5h0M217 94.5h0M220 88.5h0M217.5 39.5h0M237.5 61h0M233.5 65.5h0M221 78h0M219.5 62h0M218 74.5h0M222 55h0M232 54.5h0M225 65h0M217.5 72.5h0M231.5 89h0M225.5 66h0M217.5 50.5h0M220 66.5h0M230 72h0M238 73.5h0M224 88.5h0M219.5 71h0M231 82.5h0M237 55.5h0M220.5 66.5h0M218 49h0M219 46h0M221.5 64h0M218.5 73h0M223.5 73.5h0M219 66.5h0M234 90h0M218.5 89h0M224.5 60h0M219 75h0M219 53.5h0M231 50.5h0M225.5 75.5h0M230 97.5h0M221 60.5h0M217.5 68.5h0M220 67.5h0M223.5 82.5h0M222.5 65.5h0M223.5 61h0M217 63h0M222 53.5h0M220 79.5h0M219 63h0M222 62h0M219.5 71.5h0M240.5 79h0M218.5 77h0M229.5 61.5h0M220.5 77h0M222 61h0M231 72.5h0M228.5 46.5h0M220 59.5h0M221 88h0M226.5 53h0M223 64h0M228.5 75.5h0M233.5 85h0M221.5 65.5h0M229.5 63.5h0M226 68.5h0M221.5 78.5h0M223 73h0M227 70h0M223 69.5h0M234.5 52.5h0M234 68h0M226 89.5h0M217.5 53.5h0M216.5 53h0M221 83h0M228 84.5h0M221 48h0M229.5 54h0M222 43.5h0M224 34.5h0M228 55h0M228 62h0M224 63h0M220.5 85.5h0M222 91.5h0M216.5 67h0M219.5 89.5h0M228 82.5h0M221 69.5h0M226 28h0M227.5 80h0M226.5 53.5h0M228 67.5h0M236 66h0M233 79.5h0M225 43h0M220 68h0M217.5 79.5h0M225.5 35h0M217.5 86h0M228.5 51.5h0M234 50.5h0M220 65h0M224 65h0M228.5 50.5h0M218.5 81h0M230.5 52h0M220.5 67h0M227.5 49.5h0M231.5 61h0M217 75h0M219.5 79h0M224 62h0M218.5 73.5h0M223 41h0M224.5 81.5h0M225.5 66h0M234 61.5h0M236 73h0M218.5 42h0M222.5 83.5h0M219.5 66h0M228.5 79.5h0M221.5 65.5h0M220 84.5h0M219 48h0M218 63.5h0M220 88h0M216.5 61h0M223.5 75.5h0M223.5 75.5h0M218 73.5h0M231 36.5h0M231 41h0M225.5 84h0M229 91.5h0M227 55h0M237.5 47.5h0M223 81h0M227 78.5h0M218.5 92.5h0M217 69.5h0M220 62.5h0M217.5 87.5h0M232 77.5h0M217 60h0M220 62h0M220.5 66.5h0M218 85h0M230 61.5h0M224 61.5h0M220 77h0M216.5 52.5h0M217.5 78h0M232.5 82.5h0M233 79h0M229 72h0M216.5 61.5h0M223.5 71.5h0M218.5 82h0M220 88h0M223 71h0M216.5 78h0M223.5 47h0M220 62.5h0M219.5 81h0M235 66.5h0M226 40.5h0M218.5 68.5h0M221.5 82.5h0M225.5 68.5h0M230 91.5h0M218 81.5h0M225 95.5h0M224 79h0M217.5 80h0M232 67h0M217 53h0M241.5 62h0M220.5 59.5h0M228 74h0M236 70.5h0M234.5 67.5h0M217.5 114h0M218 65h0M222.5 107h0M220.5 43h0M217 65h0M224 63h0M217.5 48.5h0M228 69.5h0M232.5 53h0M231.5 87.5h0M220 81h0M217.5 72.5h0M216.5 68.5h0M234 62h0M219.5 68.5h0M217.5 95.5h0M217 75h0M228 77.5h0M223 79h0M231.5 59h0M241.5 95h0M216.5 94.5h0M235.5 85h0M222 65.5h0M224 37.5h0M230 92h0M225 64h0M220 43.5h0M225 61.5h0M223 95h0M221 30h0M228 76.5h0M218 57h0M237 72.5h0M219 43h0M221.5 83h0M217.5 61.5h0M218.5 43.5h0M240 77h0M230 43.5h0M219.5 83.5h0M219 86h0M217 18.5h0M232.5 51.5h0M232 64h0M225.5 78h0M233 89h0M221 76.5h0M227 78h0M228.5 101.5h0M223 55.5h0M217.5 72h0M221 47.5h0M228 68.5h0M234.5 86.5h0M223 72h0M218.5 54.5h0M221 83h0M221 94h0M226.5 79.5h0M218 53.5h0M217 53h0M219.5 63h0M221.5 86.5h0M224.5 56.5h0M228 72.5h0M221.5 58.5h0M219.5 89.5h0M216.5 75.5h0M228.5 78h0M228.5 49.5h0M233 50.5h0M220.5 57.5h0M236 97.5h0M229.5 60h0M222.5 57.5h0M223.5 75.5h0M217.5 90.5h0M224 49.5h0M217.5 75h0M231 94h0M233.5 74h0M220 81.5h0M218.5 55.5h0M217.5 46.5h0M217.5 65h0M234.5 103.5h0M221.5 77h0M229.5 68h0M220 50.5h0M223 57h0M217.5 81h0M218 92.5h0M220.5 72h0M246.5 66h0M219 44.5h0M218 68h0M218.5 67.5h0M220 73.5h0M222.5 83h0M217 74.5h0M233.5 95h0M238 64.5h0M220.5 76h0M217.5 66h0M224.5 86.5h0M238 60h0M221 56.5h0M218.5 30.5h0M237.5 43h0M217.5 40h0M219 52h0M236.5 51.5h0M218 66.5h0M235 78.5h0M219 50h0M231.5 57h0M218.5 92.5h0M217 66.5h0M226 61.5h0M217 66h0M219.5 80.5h0M219 91h0M220 46h0M220 64h0M218.5 84h0M220.5 42.5h0M236.5 66h0M232 63h0M221 50.5h0M224.5 39.5h0M219 60h0M231.5 72.5h0M218.5 58.5h0M226 46.5h0M219 76h0M223.5 49.5h0M227.5 97.5h0M220 97.5h0M221 65.5h0M220 48.5h0M225.5 59h0M222 74h0M221 56.5h0M218 66h0M217.5 66h0M220 29.5h0M222 87.5h0M219 71h0M222 52h0M217 64h0M220 78h0M217 65h0M225.5 70h0M230.5 88.5h0M220.5 59h0M216.5 53h0M217.5 44.5h0M226 75.5h0M226 76h0M230.5 59.5h0M226 79h0M223 46.5h0M218 76h0M219.5 107h0M231.5 89.5h0M231 62.5h0M227 87.5h0M240.5 67.5h0M230 68h0M221.5 47.5h0M221.5 86.5h0M229.5 78.5h0M217 57h0M221.5 77h0M227.5 63.5h0M240.5 81h0M220 37h0M221 68h0M219 73h0M225 78.5h0M243.5 73.5h0M222 66h0M222.5 90h0M226 66.5h0M226.5 68.5h0M222 48.5h0M227 73.5h0M232.5 74h0M232 62h0M225 55h0M228.5 85h0M219 83h0M223 61.5h0M224 53h0M218 67.5h0M224.5 71h0M229 57.5h0M236 47.5h0M225 73.5h0M218.5 104h0M216.5 74h0M237.5 59.5h0M227.5 44.5h0M225 55.5h0M217.5 77.5h0M233.5 78.5h0M242.5 53h0M220 49h0M224.5 59h0M232 51.5h0M225.5 99h0M220 54.5h0M220 50h0M231.5 41.5h0M225 56.5h0M228 84.5h0M218 62h0M224 67h0M219.5 60h0M218.5 79.5h0M218.5 88.5h0M225.5 50.5h0M226.5 46.5h0M224 78.5h0M220 59h0M216.5 32h0M218.5 64h0M222 62h0M225.5 84h0M219.5 76.5h0M225.5 55.5h0M227.5 63.5h0M229 49.5h0M219 43.5h0M221.5 52h0M219 62h0M225.5 76.5h0M219 57.5h0M224 64.5h0M227 69h0M221.5 66.5h0M222 79h0M231 94.5h0M228.5 75.5h0M216.5 105.5h0M228 83.5h0M227.5 76h0M227 103h0M233.5 79.5h0M223 70h0M225.5 66.5h0M223.5 71h0M224 83h0M222.5 77h0M227 71h0M221 85.5h0M227.5 58.5h0M216.5 50.5h0M221.5 105.5h0M222.5 77h0M225 76h0M221 99h0M220 87h0M220 62.5h0M221 71.5h0M231.5 61h0M230.5 38h0M224.5 79.5h0M221 54.5h0M227 61.5h0M218.5 63.5h0M228 84h0M222 52h0M226.5 47h0M229.5 81h0M221 67h0M231.5 50h0M221.5 60.5h0M216.5 63.5h0M224.5 68h0M226 67.5h0M226 62.5h0M217 44.5h0M217 78.5h0M216.5 82h0M226.5 76.5h0M218.5 23h0M216.5 81.5h0M217 68h0M218 64.5h0M227 56h0M238.5 101h0M216.5 71h0M222 75.5h0M217.5 42h0M228.5 94.5h0M219.5 78h0M227 59.5h0M218 54.5h0M227.5 55h0M221 48.5h0M219 88h0M217.5 67h0M220 80h0M216.5 95.5h0M219 61h0M222 36.5h0M218 69h0M232.5 48.5h0M227.5 62h0M227 79.5h0M227.5 56.5h0M228.5 49.5h0M224.5 67.5h0M224.5 110.5h0M218.5 63.5h0M226.5 66h0M222.5 60.5h0M225.5 57.5h0M219.5 57h0M225.5 55h0M226 63h0M228 60.5h0M225.5 64.5h0M223.5 71.5h0M223.5 72h0M224.5 75h0M230.5 72h0M234 87.5h0M219.5 79.5h0M224 64h0M217.5 54.5h0M218.5 66h0M235.5 79.5h0M219 56.5h0M222 56h0M224 67.5h0M230 62h0M220.5 58h0M227.5 59h0M224 55h0M231 40.5h0M224.5 77h0M229 64h0M233 62.5h0M225.5 56h0M220.5 57.5h0M217 69.5h0M219.5 38.5h0M218.5 25.5h0M226 100.5h0M232 88.5h0M217.5 59.5h0M220 93h0M217.5 65h0M222.5 66h0M224 52.5h0M226 69.5h0M237.5 70.5h0M228 51.5h0M239.5 68.5h0M217.5 91h0M217 47.5h0M221.5 76h0M216.5 60h0M232.5 94h0M221 73h0M221.5 56h0M218.5 53h0M225 41.5h0M221.5 86h0M221 70.5h0M224 60.5h0M218.5 64.5h0M242.5 54.5h0M218 60.5h0M222 52.5h0M223 70h0M227 93h0M229 52h0M216.5 52h0M224 64h0M222 54h0M218 55h0M219 72.5h0M222.5 70.5h0M226.5 70h0M231 90.5h0M244 80.5h0M231.5 85h0M220.5 77.5h0M223 58.5h0M221.5 69h0M223 45h0M223.5 67.5h0M217 53.5h0M224 66.5h0M235 86.5h0M225 58.5h0M221 50h0M225.5 88.5h0M221.5 55h0M220.5 68h0M225.5 47.5h0M219 50.5h0M225.5 40h0M230 82.5h0M220 50h0M217.5 49.5h0M225 81.5h0M234.5 75.5h0M236 70.5h0M221.5 80h0M220 48h0M217.5 77h0M234.5 84h0M232 67h0M221 45h0M221 63h0M228 92.5h0M228 70.5h0M234.5 88.5h0M221 60h0M226.5 75h0M226.5 62.5h0M219 65h0M228 91.5h0M217.5 78h0M226.5 102h0M223 56h0M220.5 81.5h0M232 44.5h0M235 58.5h0M218 61h0M221.5 64.5h0M216.5 53h0M230.5 73.5h0M216.5 101.5h0M222.5 89.5h0M219 70h0M217.5 81.5h0M218.5 41h0M221.5 64h0M218.5 83h0M219 78h0M221 66h0M219 80.5h0M239 77h0M217 51h0M223.5 67h0M221.5 89h0M218 42.5h0M232 67h0M228 102h0M217 39.5h0M237.5 59h0M240 75.5h0M239 81.5h0M221 85.5h0M227.5 60.5h0M226.5 42h0M222.5 91h0M226 65.5h0M232.5 91.5h0M232 66h0M219.5 65h0M220 81h0M224.5 76h0M223 80.5h0M221 71.5h0M228 62h0M217 85.5h0M223.5 82h0M223.5 91.5h0M229 59h0M234 60.5h0M228 63.5h0M219.5 53.5h0M225.5 76h0M222 46h0M234 75.5h0M227.5 73.5h0M219.5 80h0M217.5 90h0M221 36h0M219.5 68h0M220 69.5h0M220.5 75h0M217.5 76.5h0M221.5 56h0M233.5 71.5h0M221 85h0M227 72.5h0M227.5 59h0M220.5 89.5h0M227.5 68h0M226.5 49h0M237 40h0M233.5 61h0M223.5 42h0M218.5 78h0M235.5 17h0M245 27h0M235 30.5h0M235 22h0M233.5 18.5h0M232.5 16.5h0M217.5 20h0M229 19h0M227.5 20h0M230.5 40.5h0M235.5 32.5h0M239 33h0M234 32.5h0M239.5 23.5h0M227.5 25h0M229.5 29h0M226 21.5h0M232 29.5h0M229 12h0M228 32.5h0M228 36h0M225.5 23h0M237 35.5h0M227.5 38h0M232 28.5h0M246 32.5h0M228.5 24.5h0M222 35h0M233.5 41.5h0M241 25.5h0M225 22.5h0M241.5 24h0M240.5 36h0M243.5 27.5h0M236.5 14h0M233 25.5h0M238.5 9.5h0M227.5 45.5h0M231.5 21h0M231 24h0M227 30.5h0M232.5 35.5h0M252.5 31.5h0M233.5 38h0M218 41h0M220 21h0M231 13.5h0M224.5 26.5h0M234 13h0M237 88.5h0M254 93h0M246 79.5h0M274.5 84.5h0M242 72.5h0M248 102h0M255.5 76.5h0M239.5 79h0M250 88h0M254 96h0M239.5 70h0M249.5 91h0M246 88h0M249.5 96.5h0M248.5 80.5h0M254 95h0M245 84h0M244.5 74h0M269.5 79.5h0M247.5 82h0M243.5 84h0M249.5 89h0M246 71.5h0M249 92h0M260 84.5h0M248 78h0M262 79.5h0M246 84.5h0M248.5 86h0M253.5 102h0M254 89.5h0M238.5 107h0M254 94h0M247.5 84.5h0M247 83.5h0M247 93h0M258.5 85h0M248 93.5h0M248.5 90.5h0M245 99h0M246.5 91h0M263.5 89h0M248 92.5h0M262 63.5h0M247 84h0M257 70.5h0M256.5 86h0M254.5 75h0M260.5 111h0M251 91h0M242 57.5h0M249.5 83h0M255.5 86h0M239.5 63h0M259 95h0M249 83h0M255.5 80h0M240 97.5h0M239 81h0M260.5 90h0M259 100h0M252 70.5h0M236.5 63.5h0M256 71h0M249 86h0M253 85h0M260.5 88.5h0M258.5 84.5h0M250.5 87h0M254 93h0M246.5 91.5h0M272 58.5h0M255 84h0M248.5 79.5h0M241 88h0M244.5 101h0M252.5 102.5h0M251 71h0M253.5 87.5h0M257 61.5h0M251 100h0M251 65h0M253.5 90h0M261.5 91h0M242 97h0M256 97.5h0M249 95.5h0M233.5 72h0M255 101.5h0M254.5 87h0M249 81h0M259 67.5h0M252.5 100.5h0M237 63h0M242.5 85.5h0M254.5 79.5h0M256.5 80h0M237.5 95.5h0M250 78.5h0M237 60h0M241.5 92.5h0M243 72h0M244 91h0M255 97.5h0M243 100.5h0M263 89.5h0M258.5 102h0M253.5 76.5h0M254.5 89h0M256 112h0M250.5 83h0M260 85.5h0M240.5 88.5h0M258.5 69h0M264 104.5h0M241.5 88h0M253.5 91h0M252.5 92.5h0M244 83h0M249.5 90h0M266 94.5h0M242 89h0M265.5 106h0M264 86.5h0M256.5 87h0M241 86h0M247 72.5h0M249 81.5h0M248.5 92.5h0M241.5 86h0M253.5 88.5h0M252.5 86.5h0M237.5 64.5h0M245.5 81.5h0M243 77.5h0M247 102.5h0M249.5 93.5h0M255.5 87h0M258 79.5h0M249 73.5h0M249.5 94.5h0M243 84.5h0M248 85h0M247 88h0M240.5 86.5h0M264 74h0M257 78.5h0M245.5 103.5h0M255.5 91.5h0M263.5 92h0M216.5 111h0M220.5 151.5h0M218.5 122h0M226 140.5h0M230.5 138h0M221 129.5h0M222 131.5h0M225.5 122.5h0M220.5 139.5h0M219.5 147.5h0M220 122h0M225 132h0M223 134.5h0M219.5 119h0M217.5 127.5h0M230 122.5h0M224 121.5h0M217.5 140h0M217.5 146h0M220.5 128h0M226.5 126.5h0M217.5 134.5h0M223 134h0M218 114.5h0M225.5 117h0M223 142.5h0M230 135.5h0M228.5 116h0M218 125.5h0M219 145h0M221 124.5h0M220 132.5h0M218.5 140h0M218.5 144.5h0M220.5 131h0M217.5 150.5h0M220 131h0M218 144h0M218.5 135.5h0M220.5 131.5h0M217 152h0M223.5 135.5h0M221.5 120.5h0M230 121.5h0M223.5 144.5h0M219 135h0M218.5 140h0M220 118h0M223.5 134h0M222 139h0M218 145h0M220 133h0M219.5 146h0M219 127h0M221.5 141h0M217.5 132.5h0M222 126h0M221 129h0M217 132h0M217.5 148.5h0M219.5 144.5h0M223.5 132.5h0M220 122.5h0M217 135.5h0M221.5 138.5h0M217.5 144h0M229 144.5h0M221 133h0M223.5 130h0M224.5 145.5h0M229 140.5h0M217 118.5h0M221 147.5h0M227 131.5h0M220.5 136h0M225 134h0M223 124h0M220 123.5h0M217 121.5h0M217 128.5h0M224.5 136.5h0M223 139.5h0M218 132h0M217 118h0M228 117.5h0M221.5 123.5h0M222.5 135.5h0M220.5 128.5h0M218.5 122h0M222.5 139h0M219 115.5h0M219.5 119.5h0M218 137h0M218.5 134h0M226 137h0M227.5 141.5h0M220.5 143h0M218.5 131.5h0M219 140.5h0M218.5 106.5h0M217 141.5h0M224 131.5h0M222.5 98h0M218.5 127.5h0M228.5 131.5h0M231.5 134.5h0M218.5 128h0M221 135.5h0M217 124h0M227 145h0M218 139.5h0M217 129h0M221 127.5h0M227 151h0M216.5 131h0M223 125.5h0M220.5 118.5h0M218.5 141.5h0M221 150h0M223.5 130h0M224.5 110.5h0M222.5 132.5h0M219.5 162.5h0M219 138.5h0M217 132h0M218.5 145.5h0M216.5 144h0M225 136.5h0M220.5 137.5h0M223.5 143h0M217.5 146.5h0M223.5 136.5h0M223 152.5h0M217.5 142h0M259.5 116h0M244.5 142.5h0M236.5 122.5h0M245 114h0M225.5 130h0M240 128.5h0M253.5 138h0M249.5 149h0M253.5 170.5h0M247.5 155.5h0M233 147h0M246.5 129h0M260.5 158h0M224.5 161h0M263.5 122h0M240 128.5h0M217.5 163.5h0M250.5 136.5h0M232.5 125.5h0M229 145.5h0M236 165h0M241 149.5h0M240 163h0M246.5 122.5h0M265 123h0M303 141h0M299 126.5h0M252.5 90.5h0M309 139.5h0M278 113.5h0M319 159h0M316 136h0M251.5 117h0M266.5 98.5h0M317 148.5h0M328.5 124.5h0M248 110.5h0M252 120h0M271.5 119h0M285.5 103.5h0M283.5 110h0M310.5 104h0M273 116h0M292.5 132.5h0M303.5 135h0M288 140h0M296.5 118h0M246 99h0M294 115.5h0M333.5 130h0M294 137.5h0M271.5 132h0M323 147h0M249 100.5h0M250.5 97.5h0M301 120h0M273 111.5h0M262.5 107h0M305.5 134h0M296.5 133h0M318.5 159.5h0M307.5 126h0M241.5 105.5h0M284 132.5h0M308.5 149h0M249 105h0M303.5 142h0M306.5 140h0M324.5 149h0M276.5 100h0M302.5 120h0M295.5 124.5h0M286.5 110.5h0M293.5 138.5h0M319 157h0M257 98.5h0M294 108.5h0M320.5 141.5h0M252 124.5h0M325.5 145.5h0M276 109h0M279 112.5h0M301 122.5h0M283.5 100.5h0M297.5 100.5h0M283.5 130.5h0M320 143.5h0M309 134.5h0M259.5 93.5h0M250.5 103.5h0M294 123.5h0M293 117.5h0M275.5 121h0M320.5 148h0M305 115h0M316.5 134.5h0M312 126.5h0M268 120h0M248 105.5h0M276 115h0M319 132.5h0M237 116.5h0M262.5 96h0M308.5 139.5h0M318 143h0M330 140.5h0M252 94.5h0M245.5 102h0M249.5 130h0M273.5 114.5h0M328 145.5h0M296 125h0M262.5 106.5h0M254.5 121.5h0M270 122.5h0M269.5 113.5h0M250 111.5h0M248.5 108h0M323 142h0M245.5 110h0M311.5 138h0M273.5 119.5h0M316.5 149h0M295 122h0M244.5 113.5h0M269 103.5h0M312 143h0M264 120.5h0M292 125.5h0M260 121h0M239.5 111h0M276.5 129h0M289 120h0M262.5 103h0M278.5 118.5h0M289.5 108h0M295.5 127h0M287.5 148h0M315.5 129.5h0M299.5 140h0M288.5 124.5h0M313.5 129.5h0M273 110h0M278 117.5h0M316 145.5h0M289 125.5h0M302 125h0M310.5 121.5h0M291.5 133h0M263 120.5h0M256.5 78.5h0M284 120h0M309 133h0M291 123h0M329 141h0M323 135.5h0M292.5 144.5h0M296.5 120h0M287 114h0M316.5 137.5h0M251 112.5h0M281.5 119.5h0M297.5 123.5h0M243 112h0M310 152h0M311 149h0M310 135.5h0M294.5 120.5h0M249.5 102h0M269.5 95.5h0M276 129.5h0M299.5 138h0M256 90h0M265 97h0M320.5 141h0M250.5 105h0M304.5 140h0M272.5 134h0M249.5 106h0M258.5 99h0M246 97h0M281 130.5h0M292.5 127h0M318.5 140.5h0M281.5 116.5h0M303 110.5h0M306 134.5h0M284.5 128.5h0M324 150.5h0M298 127.5h0M270.5 109h0M325 150.5h0M278 114h0M315 139.5h0M249.5 106h0M266.5 105h0M254 89.5h0M266 132h0M272 114.5h0M311 128.5h0M324.5 145.5h0M310.5 133.5h0M309 138.5h0M258.5 94.5h0M305.5 122.5h0M311 130.5h0M264 100h0M315 148.5h0M324.5 149.5h0M281.5 115h0M290 120.5h0M274.5 117h0M328.5 131h0M312.5 152h0M277 142h0M251 89h0M290 133h0M275.5 114.5h0M252.5 114h0M297.5 120h0M290 134.5h0M293.5 119h0M287.5 109.5h0M288.5 147h0M280.5 132h0M244.5 107.5h0M282.5 123h0M258.5 117.5h0M265 106h0M264.5 112.5h0M298 145h0M273.5 127.5h0M261.5 110.5h0M279 109h0M239.5 107.5h0M276.5 139h0M282 116.5h0M258 104.5h0M319 134.5h0M319.5 134h0M275.5 100h0M313 143.5h0M264.5 118h0M267 111h0M292.5 114h0M285.5 117.5h0M309.5 135.5h0M296 139h0M319 140.5h0M279.5 128.5h0M277 93h0M264.5 109h0M310 144.5h0M277 110h0M262 90.5h0M278.5 112.5h0M264.5 113.5h0M293.5 121.5h0M312 128h0M294.5 126.5h0M276 108h0M318 124h0M306.5 139.5h0M298 134.5h0M294 135.5h0M252 97h0M245 112.5h0M269.5 117.5h0M246 103.5h0M274 114h0M310.5 133h0M327.5 138.5h0M279.5 123.5h0M302.5 122h0M319 153h0M291.5 130.5h0M328 139h0M257.5 102h0M288.5 128.5h0M321 150h0M257.5 111h0M280 134h0M324 135h0M272.5 130.5h0M325 150h0M276.5 114h0M289.5 111h0M301 133h0M261.5 97.5h0M285 106.5h0M267 111.5h0M248.5 116h0M264 105.5h0M300 145h0M287.5 129h0M246 108h0M336 130.5h0M262.5 114.5h0M264.5 117h0M298.5 137h0M291.5 123h0M265 115.5h0M303 146h0M302.5 160h0M250 122h0M247.5 101.5h0M305 122h0M293 126h0M245.5 100.5h0M255.5 86h0M266 115.5h0M258.5 101.5h0M299 160h0M261 107h0M253 109.5h0M271.5 115h0M324.5 144h0M280 113h0M289.5 126h0M259 110.5h0M258 134h0M323 149.5h0M289 112h0M312 142h0M269 135.5h0M272.5 102.5h0M289 132.5h0M328.5 143.5h0M287 121h0M279 114.5h0M296 135.5h0M266.5 138h0M291 127h0M306.5 125h0M305 134.5h0M276.5 108.5h0M297.5 118h0M290 128.5h0M306 138h0M252.5 109.5h0M285 128.5h0M252 126.5h0M281.5 121h0M254.5 97h0M264.5 108h0M327.5 136h0M259 103.5h0M267.5 123.5h0M265 120.5h0M304 139.5h0M269 127.5h0M275 115h0M275 115.5h0M282 124.5h0M288.5 125h0M248.5 98h0M325 133h0M312.5 149.5h0M264.5 118.5h0M262.5 126h0M280.5 133h0M281 120h0M258 115.5h0M310.5 158h0M272 111h0M269.5 122h0M275.5 118.5h0M275 116h0M293 119.5h0M307 128h0M274.5 129.5h0M254 123h0M301 136.5h0M308.5 132h0M315 125.5h0M248 120.5h0M282.5 133h0M318.5 138.5h0M281 112.5h0M307.5 125h0M307 130.5h0M269 96.5h0M297 133h0M266 95h0M279 145.5h0M297.5 131h0M267.5 105.5h0M293 121h0M302.5 150h0M309 112.5h0M291.5 120h0M247 100.5h0M310.5 155h0M261 106h0M295.5 130.5h0M307 142.5h0M315 156h0M303 133h0M300.5 136h0M303.5 139.5h0M259 113h0M254 115h0M264.5 114.5h0M250 108.5h0M285.5 95h0M263 92h0M277 106h0M254 84.5h0M301.5 122.5h0M257.5 93.5h0M292 128h0M261 79.5h0M260 99h0M246.5 102h0M307 117.5h0M297.5 78.5h0M290 89h0M280 114h0M317.5 93h0M291.5 115h0M277.5 84.5h0M317.5 126h0M262.5 71h0M293 114h0M262.5 80.5h0M276.5 86.5h0M252.5 129h0M246 99h0M325.5 112h0M311.5 84h0M301.5 91.5h0M274 99h0M277 70h0M331 115.5h0M323 116h0M297 100.5h0M257.5 97.5h0M290 82.5h0M271 103h0M263.5 74.5h0M305 105.5h0M314 122h0M265.5 93h0M263 102.5h0M293 70.5h0M291 114.5h0M276.5 111h0M334.5 100.5h0M251 86h0M316.5 95h0M309 109h0M325 117h0M310.5 117.5h0M258 100.5h0M273 85.5h0M256.5 74.5h0M310 90h0M265.5 64h0M264 111h0M301 133.5h0M275 69.5h0M296.5 111h0M293 94.5h0M259 79.5h0M268.5 80h0M318 120.5h0M264 108h0M300.5 111.5h0M322.5 91.5h0M297 119h0M319.5 125.5h0M290 90.5h0M273 81h0M292 92.5h0M275.5 102.5h0M297.5 126h0M272 105.5h0M291.5 119h0M285 117h0M324 92h0M288.5 120h0M294.5 98h0M271 83.5h0M266.5 100.5h0M271.5 93.5h0M290.5 109.5h0M281 105h0M332 106.5h0M311.5 134.5h0M314 133h0M258 83.5h0M265 88.5h0M319.5 128h0M256 74.5h0M256.5 90h0M299.5 98.5h0M288.5 82h0M317 131h0M267.5 66.5h0M305 124.5h0M299 108h0M268 92h0M286.5 116.5h0M302.5 98h0M281 97h0M306.5 72.5h0M305.5 101h0M320.5 120.5h0M273 60.5h0M287 117.5h0M280 100h0M301 124.5h0M315.5 91.5h0M292 78h0M285.5 74h0M316 95h0M315 120.5h0M301 107h0M276.5 82h0M323.5 99.5h0M270 83h0M310.5 122.5h0M313 99.5h0M310 108.5h0M278.5 111.5h0M293.5 140h0M294 95.5h0M272 86.5h0M264 70.5h0M283.5 74h0M272.5 79.5h0M306 118.5h0M271.5 89.5h0M308.5 130.5h0M302 117h0M254 85h0M304.5 106.5h0M277.5 86.5h0M304 136h0M310 123.5h0M305.5 102.5h0M310 139h0M301 94.5h0M327.5 112.5h0M328.5 118.5h0M269 73.5h0M298 87h0M283.5 109h0M267 95.5h0M283.5 123h0M306.5 119.5h0M254.5 95h0M269 81.5h0M318 131h0M264 78.5h0M318 120.5h0M257 89h0M284 88h0M262 80h0M304 107.5h0M293.5 101.5h0M294.5 128h0M245.5 100.5h0M319 105h0M322.5 119.5h0M281.5 104h0M321.5 120h0M311 109.5h0M322 102h0M314 124h0M282 102h0M319.5 102.5h0M312 123h0M292 112h0M278.5 95h0M285.5 100h0M330 120h0M277.5 100.5h0M292.5 113.5h0M290.5 104.5h0M281 94h0M261 76h0M319.5 122h0M307.5 91.5h0M262.5 94.5h0M296.5 120.5h0M290 96h0M322.5 124h0M280.5 75h0M314 136.5h0M293 76h0M284.5 108h0M260.5 86h0M247 88h0M247 97.5h0M322 105.5h0M285 78h0M243 101.5h0M292.5 87.5h0M294 125h0M316 140.5h0M322 119.5h0M294.5 110.5h0M264.5 103.5h0M318.5 123.5h0M303.5 104.5h0M299.5 110h0M299.5 100h0M267 74.5h0M276 100h0M286.5 92.5h0M292 103h0M259 81h0M290.5 99h0M250 83.5h0M324 88.5h0M298 82.5h0M256 86.5h0M283.5 88.5h0M286 101h0M272.5 104.5h0M277.5 110.5h0M267.5 77h0M295.5 104h0M278.5 90.5h0M262.5 64h0M277.5 95h0M316 105.5h0M305.5 136h0M289.5 90.5h0M283 109h0M269 95.5h0M309 120h0M318.5 100h0M289 92.5h0M259.5 71h0M285.5 112.5h0M325 113h0M281.5 96.5h0M280.5 105.5h0M271 100.5h0M318.5 130h0M314.5 109h0M287 106h0M281.5 88h0M302.5 102h0M310 113.5h0M289.5 113h0M285.5 120.5h0M295.5 87h0M287 105.5h0M271 70.5h0M273 108.5h0M303 126.5h0M292.5 119.5h0M252 83h0M303 111h0M310 105.5h0M246.5 96h0M256 108.5h0M289.5 126.5h0M291 93h0M288 94h0M308 119.5h0M290.5 104.5h0M278.5 77.5h0M263.5 103.5h0M282 114h0M274.5 107h0M280 94h0M270.5 87.5h0M285 111h0M297 78h0M276 99h0M314.5 81h0M298 105h0M324 118.5h0M264.5 94h0M308.5 124.5h0M311 125h0M259.5 78h0M276 78.5h0M319 128.5h0M266.5 79h0M278 128.5h0M269.5 105.5h0M268.5 105.5h0M291 109.5h0M265 80.5h0M321 105.5h0M315 130.5h0M284 86.5h0M306 99h0M267 97h0M256 98h0M313.5 131.5h0M325.5 124.5h0M254.5 90h0M258 87.5h0M286 87h0M269 85.5h0M327 117.5h0M248 89.5h0M288.5 94.5h0M288.5 104h0M275 127.5h0M285.5 115.5h0M322 107h0M263.5 81.5h0M286 110h0M268.5 97h0M284.5 92.5h0M287.5 90.5h0M279 117.5h0M319.5 104h0M303 135h0M267.5 120.5h0M276 79.5h0M290 110h0M320 114.5h0M272 97.5h0M328.5 114h0M318 119h0M297.5 109h0M299 98.5h0M268.5 121.5h0M290 106.5h0M280.5 121.5h0M258.5 93.5h0M265 81.5h0M317 96h0M278 108h0M296.5 100.5h0M279.5 64.5h0M265.5 77.5h0M310.5 117h0M280 92h0M270.5 95h0M280 95h0M269 99.5h0M300 122.5h0M294.5 118.5h0M249.5 87h0M282 73.5h0M244.5 101h0M249.5 90h0M306.5 94h0M291 91.5h0M297.5 82h0M258 87.5h0M280 80h0M297.5 108h0M277 104.5h0M321.5 121h0M253 81h0M277 87.5h0M281 103.5h0M292.5 99.5h0M322 99h0M325 127.5h0M311.5 117h0M287 114.5h0M294 135.5h0M312 113h0M301 102.5h0M325.5 95.5h0M264.5 88h0M316.5 135.5h0M273.5 97h0M310.5 104h0M307.5 134.5h0M297 106h0M262.5 91h0M266.5 78.5h0M324 107.5h0M268 86h0M326 114h0M295 77h0M291.5 96.5h0M255 79h0M305 93.5h0M298 131h0M306.5 103h0M298 102.5h0M302 109.5h0M250 94h0M307 103.5h0M303 115.5h0M311 117h0M295 107.5h0M311.5 140.5h0M290.5 117.5h0M297.5 123h0M255.5 81.5h0M311 141h0M297.5 105.5h0M295.5 137h0M266 120h0M281.5 103.5h0M320.5 123h0M279 70.5h0M306.5 113h0M290 92h0M280.5 69h0M291 82h0M299.5 98h0M255 80.5h0M309.5 130h0M299.5 106h0M265.5 106.5h0M328.5 117h0M295.5 76h0M261.5 86.5h0M319.5 112.5h0M303 124.5h0M307 98.5h0M256 78.5h0M254 87h0M284.5 115.5h0M261.5 90.5h0M260 97.5h0M319 78.5h0M294.5 112.5h0M311.5 131.5h0M262 76h0M265.5 94.5h0M265 84.5h0M331.5 116h0M278.5 91h0M316 105.5h0M252 89.5h0M307.5 113h0M268 107.5h0M261.5 86h0M309.5 116.5h0M290 107.5h0M303 95.5h0M265.5 67.5h0M315 128h0M264.5 62h0M270 98.5h0M258.5 113h0M279 102h0M250.5 101h0M287 101h0M276.5 79h0M286.5 109.5h0M302 133.5h0M263.5 99.5h0M252 82h0M306 133h0M294 99h0M302 98h0M291 118h0M373.5 155.5h0M367.5 177h0M376 172h0M305 128h0M300 102.5h0M391.5 131h0M377.5 159h0M361 143.5h0M381 149.5h0M357 156.5h0M396.5 151h0M339 178.5h0M391.5 150h0M368 169h0M339 144.5h0M295.5 152.5h0M371.5 160.5h0M353 154.5h0M373.5 163.5h0M364.5 155h0M307 113.5h0M402 150h0M316.5 150.5h0M396 155h0M321.5 121.5h0M373.5 130.5h0M408 167h0M360 172.5h0M353.5 156h0M332 175.5h0M387.5 171h0M343.5 149.5h0M299.5 118.5h0M333 166.5h0M374.5 151h0M313.5 145h0M361 172.5h0M355 162h0M345.5 181.5h0M362.5 144.5h0M375 179.5h0M338.5 169.5h0M376.5 156h0M322 165h0M389 155.5h0M312 165h0M356.5 152h0M368.5 160.5h0M326.5 120h0M338.5 116.5h0M370.5 158h0M383 167h0M362.5 149.5h0M342.5 149.5h0M348.5 146.5h0M350 155.5h0M393.5 174h0M342 159h0M370 146.5h0M349.5 152h0M331 157h0M369.5 155h0M385 178.5h0M355.5 161h0M375 178.5h0M335 151.5h0M355.5 152h0M340 166.5h0M334.5 160.5h0M389 168.5h0M351.5 172.5h0M350 159.5h0M378.5 163h0M377 176h0M364.5 146.5h0M391 140.5h0M342.5 121h0M348 149h0M351.5 143.5h0M389.5 143h0M313.5 139.5h0M386.5 179.5h0M336.5 116.5h0M370 169h0M367.5 141.5h0M283.5 131.5h0M368 171h0M353 151h0M364 147.5h0M375 146.5h0M342.5 178h0M402.5 168h0M376 177h0M379.5 176.5h0M341.5 168.5h0M393.5 157.5h0M360.5 154h0M328 143.5h0M361 127h0M351 158h0M337.5 134h0M405 176h0M308.5 137h0M385.5 160.5h0M331.5 165h0M389 154.5h0M347 146h0M360 138h0M358.5 141h0M374.5 169.5h0M345 146h0M337.5 161.5h0M365.5 172h0M296 136h0M356.5 150h0M311 151.5h0M397.5 179h0M357 145.5h0M378 170h0M329 163.5h0M368.5 168h0M356.5 153h0M338.5 139h0M336.5 160.5h0M320.5 162h0M390 164.5h0M347 124.5h0M374.5 178h0M369.5 159h0M319 147.5h0M348 151.5h0M332.5 152.5h0M319.5 117.5h0M381 180h0M329 146.5h0M359.5 175h0M328.5 173h0M352 166h0M396 151.5h0M319.5 135.5h0M329.5 158h0M325.5 149h0M376.5 179.5h0M375.5 174h0M369.5 169h0M346 151.5h0M338.5 132h0M364.5 147h0M344.5 140h0M344 107h0M366.5 151h0M384 177.5h0M320.5 136.5h0M363.5 147h0M380 146.5h0M352 166.5h0M302 137.5h0M385 158.5h0M327 138h0M357.5 154.5h0M355.5 138h0M313 122h0M376 179.5h0M376.5 164.5h0M343.5 142h0M369.5 141.5h0M362.5 167h0M333.5 159.5h0M389.5 138.5h0M346 149.5h0M290.5 132h0M378 176.5h0M342.5 172.5h0M356 161.5h0M361 177.5h0M305 144.5h0M355.5 179h0M362 158.5h0M337.5 148h0M337 155h0M362 148h0M374.5 165.5h0M336.5 168.5h0M365 168.5h0M328 162.5h0M379 150.5h0M340 168.5h0M382 169h0M360.5 162.5h0M289.5 133h0M397.5 170.5h0M352.5 170.5h0M355.5 173.5h0M358.5 154.5h0M338.5 146h0M329.5 124h0M364.5 147h0M360 157.5h0M348 161.5h0M350.5 137.5h0M350 150.5h0M332.5 116h0M320 146.5h0M301.5 142h0M340 166h0M368 148.5h0M343.5 153.5h0M388 169.5h0M339.5 150h0M332 152h0M360 173h0M325.5 159h0M359 156.5h0M311.5 140.5h0M366.5 161.5h0M309.5 169.5h0M336 172h0M357.5 156.5h0M331.5 146h0M363 155h0M354.5 153h0M337 135.5h0M383 149.5h0M324.5 155h0M312.5 145.5h0M396 174.5h0M369.5 180h0M303.5 122.5h0M338.5 162h0M352 134.5h0M319.5 138.5h0M354.5 163h0M323 147h0M359 143h0M307.5 165.5h0M373.5 160.5h0M375.5 156h0M298 120h0M348 154.5h0M318 152h0M350.5 177h0M351.5 178h0M396.5 180.5h0M357 172.5h0M369 162.5h0M377 149h0M328 139.5h0M335.5 123h0M367.5 174.5h0M340.5 148.5h0M405.5 180.5h0M341 162h0M406 181.5h0M348.5 149.5h0M322.5 156.5h0M343.5 149.5h0M366.5 171h0M325 153h0M373.5 163h0M359.5 177h0M356 158.5h0M329 142h0M344 135h0M378.5 176.5h0M363.5 164.5h0M403.5 155.5h0M400.5 173.5h0M337.5 135h0M334 143h0M382 158h0M380.5 162.5h0M346.5 174.5h0M354.5 138.5h0M355.5 163h0M349 147h0M378.5 154.5h0M357.5 145.5h0M375 160.5h0M366 162h0M359.5 145.5h0M393 168.5h0M361 140h0M363.5 148h0M321 154.5h0M374.5 171.5h0M357.5 167h0M354.5 159.5h0M332.5 138.5h0M368.5 123.5h0M330 129.5h0M420 166h0M302 139.5h0M326.5 149h0M344 177h0M350 167.5h0M351 155.5h0M356.5 157h0M358 155h0M354.5 172h0M374.5 168.5h0M299 163.5h0M356 178.5h0M365.5 159.5h0M410 180.5h0M338 164.5h0M372.5 166h0M376.5 173h0M353.5 161.5h0M370 168.5h0M368 166.5h0M376.5 153.5h0M361 169.5h0M320 144.5h0M305 128h0M401.5 165h0M318 132h0M350 153.5h0M311 166.5h0M349.5 161h0M384.5 170.5h0M336.5 140h0M348.5 167h0M387 166h0M356 136h0M370.5 160.5h0M323.5 141.5h0M342.5 169.5h0M353 158h0M306.5 123.5h0M347.5 137h0M362.5 156.5h0M355.5 171.5h0M367 164h0M372.5 148.5h0M350 145.5h0M414.5 169h0M343 159h0M339.5 159h0M319.5 153.5h0M376 133.5h0M327 122h0M351.5 149.5h0M361 170h0M369 171.5h0M344.5 128h0M322 145h0M338.5 129h0M330.5 150h0M322.5 136.5h0M369.5 177.5h0M311.5 133h0M325 179.5h0M359 136.5h0M340 148.5h0M339 159.5h0M345.5 152.5h0M378 169.5h0M280.5 143.5h0M339.5 159.5h0M318 139h0M392 159h0M368 159.5h0M394 145.5h0M402 150.5h0M334 166.5h0M377 138.5h0M320.5 118h0M347.5 139.5h0M384 166.5h0M315 155.5h0M398.5 161.5h0M352.5 142h0M330 142.5h0M369.5 151.5h0M309.5 142.5h0M321.5 131h0M352 144h0M390 161h0M345.5 157.5h0M356.5 161h0M349 161.5h0M364 162.5h0M368 170h0M371.5 173h0M366 168h0M336.5 139h0M352.5 144.5h0M348 142h0M335.5 151.5h0M355.5 158h0M351 150.5h0M368.5 170.5h0M357.5 172.5h0M339.5 160h0M367 147.5h0M395.5 163.5h0M381.5 159.5h0M330.5 161.5h0M367 162.5h0M346.5 125h0M344 148h0M379.5 169.5h0M386 164.5h0M374.5 180h0M344 164h0M409 163.5h0M326 130.5h0M347.5 137.5h0M369 142.5h0M404 181.5h0M362.5 157.5h0M340.5 150.5h0M350 159.5h0M381 157.5h0M314 124h0M375.5 136h0M367 164.5h0M320 141h0M381 169h0M365 171h0M338 144h0M363.5 145.5h0M357 163.5h0M377 138.5h0M355.5 118h0M359 158h0M371 179h0M332 142.5h0M355.5 169h0M387.5 171h0M312.5 146.5h0M362.5 132h0M366.5 149h0M349.5 172h0M359.5 146.5h0M369 159.5h0M352.5 170.5h0M359 166h0M354 158h0M334 133.5h0M323.5 150h0M384.5 160h0M371 174h0M354.5 162h0M331.5 148h0M358.5 155h0M354 169.5h0M376 179.5h0M412.5 165h0M353 154.5h0M349 146.5h0M322 134h0M391 169h0M353 162h0M362.5 145.5h0M335.5 164.5h0M347 133h0M339 121h0M345.5 131h0M347 166.5h0M379.5 164h0M376 161h0M285.5 130.5h0M341.5 134.5h0M382 172h0M373 181h0M377 166.5h0M417 174h0M356 147.5h0M375.5 157.5h0M370 142h0M348 162h0M348.5 154h0M362.5 157.5h0M389 161h0M364 161h0M330 156h0M374.5 151h0M376.5 172.5h0M420 154.5h0M352 156.5h0M392 158h0M384 177h0M288 157.5h0M307.5 115.5h0M332 151.5h0M345.5 150h0M333.5 153h0M323 128h0M344 143.5h0M349 163h0M344.5 141h0M328.5 163.5h0M376 166.5h0M377.5 158.5h0M329 139h0M319.5 131.5h0M365 146.5h0M350 123.5h0M326.5 140.5h0M338.5 150h0M343 142.5h0M302.5 155h0M344.5 165h0M344 132.5h0M367 156h0M350.5 164h0M367.5 175.5h0M374 137h0M360.5 175.5h0M366 171h0M382 147.5h0M300 128.5h0M369.5 172.5h0M352.5 148h0M327.5 147h0M361 171h0M345.5 171h0M330.5 161h0M326.5 163.5h0M388.5 159h0M377.5 153h0M357 163.5h0M358.5 151.5h0M328.5 141.5h0M381.5 176h0M377 154.5h0M333.5 139.5h0M309 108h0M350.5 175h0M380 175.5h0M327.5 156.5h0M352 165h0M310 127.5h0M384 169h0M351 168.5h0M364 153h0M386.5 163.5h0M330 131h0M360.5 148.5h0M329 158.5h0M334.5 127h0M354.5 166.5h0M349.5 138.5h0M399 161.5h0M368 155h0M358 162.5h0M336 158h0M346.5 161.5h0M303.5 137.5h0M384 176h0M405 172.5h0M388.5 178h0M357.5 166.5h0M406 157.5h0M360.5 159.5h0M379.5 171h0M345 156.5h0M385 163.5h0M364 161h0M343 151.5h0M370.5 174.5h0M392.5 173h0M321.5 151.5h0M303.5 134.5h0M380.5 181h0M362.5 158.5h0M339.5 163.5h0M322.5 122h0M346 150h0M373.5 163.5h0M363.5 154h0M307 149h0M366.5 165.5h0M377.5 177h0M360.5 167.5h0M308.5 139.5h0M369 148.5h0M340 158.5h0M352.5 141h0M355.5 149h0M353.5 175.5h0M377 154h0M373 175h0M337 159h0M341 152.5h0M365 164h0M363.5 169h0M341.5 153.5h0M370.5 181h0M338.5 142.5h0M354.5 137.5h0M344.5 147h0M347.5 152.5h0M323.5 170.5h0M327 153h0M382.5 174.5h0M407 159h0M277 126.5h0M369 163h0M369 153h0M336.5 135.5h0M355 166.5h0M308 147h0M354 141.5h0M388 146h0M312 163.5h0M341 157.5h0M400 162.5h0M354 175h0M380.5 161.5h0M384.5 163h0M320 116h0M359 159h0M336 164.5h0M359 148h0M357.5 158.5h0M374 167h0M384.5 166.5h0M350 164h0M336 150.5h0M356 174h0M285 140h0M348 155h0M322.5 135.5h0M379 165.5h0M361.5 174.5h0M413.5 178h0M320.5 127.5h0M339 164.5h0M356 178h0M371.5 145.5h0M372 156.5h0M376 143.5h0M384.5 157h0M341 164h0M357 144.5h0M398.5 175.5h0M384 171.5h0M311.5 131h0M368.5 162.5h0M412 161.5h0M334 156.5h0M330 149.5h0M369.5 177h0M353 161h0M366.5 166h0M375 168.5h0M335 164.5h0M387 163h0M379 157h0M370.5 155h0M339 155.5h0M328.5 155.5h0M401 178.5h0M335 153h0M361 137.5h0M372.5 173h0M345 162h0M339.5 155.5h0M334.5 147h0M285.5 112h0M366.5 165h0M362 169.5h0M406 177h0M259.5 114.5h0M363 162h0M371.5 152h0M381.5 160.5h0M324.5 124.5h0M366.5 142h0M344.5 159h0M289.5 142h0M356.5 154.5h0M278 119.5h0M318.5 135.5h0M334.5 133h0M344.5 136h0M291.5 142h0M322.5 154.5h0M378.5 165h0M358 160h0M368 170.5h0M350 154h0M389 163h0M326.5 110h0M341.5 165h0M415.5 180.5h0M367 150.5h0M361 158h0M375.5 180.5h0M368 165.5h0M381 168h0M337.5 156h0M368.5 153.5h0M366.5 161.5h0M368.5 167h0M377.5 164.5h0M351.5 169.5h0M390 178.5h0M305.5 145.5h0M380.5 154.5h0M315.5 112h0M304 158h0M346.5 150.5h0M361.5 160h0M367.5 155.5h0M323.5 154h0M335.5 138.5h0M308.5 113.5h0M377 160h0M378 167.5h0M337 162h0M362.5 156.5h0M403 167.5h0M327 143h0M368 135h0M350.5 151h0M332.5 148.5h0M298 134h0M316.5 151.5h0M346 127.5h0M361.5 148h0M346.5 139.5h0M370 162.5h0M366 167h0M368 165h0M321 149.5h0M346.5 153.5h0M359.5 161.5h0M343 141.5h0M334.5 141.5h0M381 157h0M319 139h0M366.5 159.5h0M337.5 159h0M352 159.5h0M319.5 157.5h0M371 157.5h0M386 180.5h0M363.5 160h0M330 147.5h0M378 141h0M371.5 137h0M396 181h0M374.5 155.5h0M360.5 157.5h0M337 142h0M356 139h0M395.5 154.5h0M359.5 179h0M361 166h0M352.5 140h0M412 165h0M375 150.5h0M367 173.5h0M387 174.5h0M359.5 155h0M358 157.5h0M379.5 167.5h0M325.5 143.5h0M393 180.5h0M380 181h0M312.5 149h0M358 135.5h0M376 152.5h0M350 159.5h0M313 147h0M376 170h0M381.5 170h0M399 174h0M357.5 169.5h0M379.5 146h0M341.5 168h0M353 133h0M374.5 152.5h0M394 168h0M302 109.5h0M333 134.5h0M364 163h0M385.5 160.5h0M341.5 155.5h0M364 174.5h0M316.5 139.5h0M364.5 170h0M347 156.5h0M318.5 121.5h0M391.5 163h0M321 123h0M358 163h0M359.5 161.5h0M327 137h0M389 158h0M351.5 154.5h0M384.5 162h0M389 179.5h0M365 158.5h0M347.5 134h0M376.5 168h0M373 178h0M333 147h0M351 126h0M381 172.5h0M351 173.5h0M319.5 156h0M341 155h0M363.5 148.5h0M312.5 150.5h0M343 156.5h0M343 154h0M352 154h0M334.5 137h0M368.5 158.5h0M349.5 166h0M363 145h0M378 171.5h0M367.5 165.5h0M300.5 147h0M330 161.5h0M324.5 142h0M367.5 154.5h0M364.5 170h0M338.5 158h0M354.5 166.5h0M339.5 139.5h0M347.5 145h0M343 159h0M370.5 153.5h0M348.5 161h0M338.5 143h0M351 140h0M334.5 134h0M376 162h0M369.5 156h0M321.5 130.5h0M378 170.5h0M341 154h0M359.5 151h0M339 152.5h0M355 133h0M372 147h0M319.5 116.5h0M292.5 142.5h0M342.5 165.5h0M366.5 158h0M312.5 142.5h0M351.5 153h0M312 154.5h0M332 149.5h0M345.5 177.5h0M342.5 167.5h0M389.5 150h0M362 150.5h0M338 142.5h0M331 152.5h0M389.5 152h0M311 143.5h0M368 151.5h0M360 177h0M335 159.5h0M373.5 159h0M349.5 151h0M365 149.5h0M309.5 160h0M373.5 174h0M386.5 165.5h0M350 151.5h0M394 176.5h0M367 157h0M364.5 171.5h0M360 154h0M412 173h0M333.5 157h0M337 132.5h0M362.5 175.5h0M326.5 139.5h0M309 154.5h0M340.5 152.5h0M345.5 155.5h0M344 162h0M386.5 168.5h0M357.5 154.5h0M326 166.5h0M317.5 109h0M305.5 150h0M365.5 179.5h0M328 140.5h0M419 170.5h0M313 113h0M343.5 164h0M379.5 167.5h0M366 162h0M337.5 168.5h0M360.5 157h0M356.5 160.5h0M362 177.5h0M354 163.5h0M352.5 147.5h0M410 180h0M412 165h0M409.5 168.5h0M354.5 158.5h0M357.5 158.5h0M333.5 158h0M356 141.5h0M375.5 176h0M348 133.5h0M382 173.5h0M357 148h0M318.5 159h0M372.5 155h0M371 170h0M372 139.5h0M366 173.5h0M325.5 149.5h0M350 157.5h0M325 153h0M358 157.5h0M371.5 150h0M374 167h0M332.5 148.5h0M357.5 154h0M344.5 150h0M373.5 168h0M365 166.5h0M277.5 153.5h0M376.5 166.5h0M351 170h0M318.5 140h0M337.5 151.5h0M363 168h0M328 153.5h0M381.5 174h0M350.5 178h0M384.5 166h0M384.5 180h0M336.5 138h0M314.5 123h0M351.5 169.5h0M358 152.5h0M353.5 146.5h0M334.5 173.5h0M366.5 146.5h0M359 149h0M334.5 133h0M409.5 172.5h0M337 145.5h0M369.5 172h0M349 151.5h0M397 169h0M380 156h0M355 154.5h0M391.5 148h0M317 137h0M355 169.5h0M313 150.5h0M373.5 164h0M396.5 170.5h0M352.5 159h0M344 154.5h0M372.5 159.5h0M354 162h0M324 142h0M351 179h0M371.5 161.5h0M350.5 164.5h0M328 150.5h0M329 159h0M389.5 163.5h0M373 179h0M327.5 137.5h0M348.5 168.5h0M332 163h0M385 171.5h0M348 157.5h0M365 171h0M324 132h0M310.5 152h0M381.5 169h0M381 154.5h0M354 164.5h0M315.5 137.5h0M320.5 154h0M356.5 152.5h0M323.5 156h0M364 153.5h0M347 141h0M390 169.5h0M404.5 178h0M334.5 142.5h0M348.5 165.5h0M382.5 151h0M320.5 135.5h0M381 174h0M291 139.5h0M328.5 134.5h0M316 145.5h0M385 162.5h0M323 145.5h0M318 124.5h0M365.5 147.5h0M337 144.5h0M352.5 164h0M331.5 134h0M379.5 180.5h0M372 156.5h0M345.5 138h0M398.5 173h0M393.5 169.5h0M361.5 152h0M367.5 167h0M373 132.5h0M362 176h0M389.5 156.5h0M295 146h0M359.5 153.5h0M333.5 134.5h0M332 133.5h0M379.5 143h0M309 136h0M355 171.5h0M266 129.5h0M399 171.5h0M339.5 163.5h0M333 125.5h0M351 156h0M339 158h0M335 155h0M315.5 161.5h0M378 172h0M337 142h0M341 127h0M322.5 158.5h0M340.5 165h0M363.5 154h0M328 137h0M362 149h0M345 134.5h0M403 158.5h0M376.5 149.5h0M334.5 174.5h0M333.5 152h0M315 163.5h0M346.5 127.5h0M333 121.5h0M385 177h0M356 144h0M369 160h0M340 152.5h0M338 124.5h0M301 136.5h0M319.5 128h0M339.5 163h0M300.5 151h0M344.5 177.5h0M347.5 118h0M383 154.5h0M390.5 158.5h0M351 158h0M316 114h0M357 165.5h0M329.5 174.5h0M407 153.5h0M347 133.5h0M329.5 135h0M301 133h0M308.5 136h0M372 158.5h0M389.5 177h0M367.5 175.5h0M340 121.5h0M363.5 145h0M388 157h0M377 147.5h0M323.5 139.5h0M375 128h0M323 145h0M335 140h0M357 164.5h0M313.5 138h0M327 129h0M357 156.5h0M347.5 165h0M347 156h0M378 161h0M350.5 149h0M330 130h0M366.5 164.5h0M311.5 144.5h0M369 178.5h0M387.5 176h0M372.5 162.5h0M328.5 141h0M365.5 166.5h0M343 139h0M341.5 142.5h0M343.5 159h0M366.5 127.5h0M378 161h0M383.5 168h0M362.5 137.5h0M397 171.5h0M380 176h0M359.5 151h0M307.5 138.5h0M330 159h0M386 177.5h0M382.5 159.5h0M374.5 165.5h0M395 177h0M291 137h0M394 158.5h0M352 161.5h0M383 157h0M337.5 139.5h0M346.5 142.5h0M370 143h0M372.5 150.5h0M345.5 141h0M375.5 170h0M339 153.5h0M327 145h0M360 160h0M319 143h0M368 169.5h0M336.5 163h0M352 181.5h0M346.5 124.5h0M337 136.5h0M340 146.5h0M366 157.5h0M330.5 138.5h0M375 151.5h0M320 131h0M367 153.5h0M351 144.5h0M371 156h0M336 136.5h0M345 144.5h0M300 111h0M342.5 162h0M336 128.5h0M355.5 135.5h0M304.5 130h0M367.5 156h0M363.5 169h0M378 165h0M373 157h0M355 170h0M346.5 143.5h0M319.5 150h0M393.5 165h0M345 148.5h0M324 121h0M374 156h0M368.5 169.5h0M397 168h0M396 171.5h0M348 173h0M350 136h0M376 162.5h0M305.5 150.5h0M332.5 157h0M359 146h0M367.5 141.5h0M392 160.5h0M349 153.5h0M310 157h0M360.5 163h0M319.5 131.5h0M354.5 149.5h0M352.5 120.5h0M312.5 168h0M359.5 172h0M315 155h0M344.5 145h0M361 157.5h0M379.5 152.5h0M366 143.5h0M350.5 151.5h0M348.5 160.5h0M367.5 170.5h0M374 171.5h0M328.5 152h0M347 135.5h0M366.5 159h0M281 129.5h0M353 162.5h0M323 136h0M339.5 147h0M391.5 161h0M348 146.5h0M375 142h0M376.5 158.5h0M351 144.5h0M348.5 141.5h0M327.5 129h0M358 161.5h0M375 147h0M379 163.5h0M373.5 162.5h0M312.5 148h0M353.5 146.5h0M322 132.5h0M378 159.5h0M358 161.5h0M342 143.5h0M367.5 148h0M356 139.5h0M342 141.5h0M362 169h0M336 148h0M408.5 150.5h0M361.5 136.5h0M385 180h0M366.5 167.5h0M304 148h0M349 150.5h0M315.5 136.5h0M321.5 114h0M403 150.5h0M399 181h0M326.5 174.5h0M373 179.5h0M329.5 138h0M373.5 165h0M303 131.5h0M356.5 152h0M367.5 155h0M403 154.5h0M332.5 153h0M391 156.5h0M382 165h0M334.5 141h0M368.5 144.5h0M318 130.5h0M367 166h0M336 167.5h0M315.5 144h0M340.5 133.5h0M340.5 161.5h0M368 163h0M380.5 169.5h0M339.5 175.5h0M344 155.5h0M333.5 153h0M335 157h0M350 153h0M383.5 166h0M342 162h0M376 174h0M400 146.5h0M350.5 172h0M365.5 180.5h0M327.5 150h0M345 126.5h0M401.5 170.5h0M358.5 147.5h0M392.5 168h0M343 144h0M347 142h0M411.5 169h0M341.5 128h0M392.5 162.5h0M324 179.5h0M388.5 151.5h0M375 161h0M403.5 162h0M391 152h0M382 144h0M287 127.5h0M315.5 154h0M362.5 150.5h0M349 142h0M365 143h0M352 138.5h0M404 165h0M348 151.5h0M319.5 162.5h0M339.5 151.5h0M343.5 150.5h0M368.5 171.5h0M385 173h0M381.5 145.5h0M357.5 128.5h0M379.5 169.5h0M325 130.5h0M356.5 180.5h0M339 154h0M307 168.5h0M319 150h0M357.5 145h0M381.5 171.5h0M387.5 164h0M353 137h0M346 147h0M365.5 150h0M359 117h0M368.5 166h0M330.5 123h0M349 145h0M370 155h0M287.5 132h0M337.5 154h0M346.5 163h0M377 159.5h0M362 161h0M365.5 140.5h0M338 147h0M361 126.5h0M376.5 167.5h0M354 141.5h0M335 146h0M355.5 158h0M356 169.5h0M348 169h0M311.5 115.5h0M362.5 173h0M328.5 157.5h0M350.5 151.5h0M356.5 150h0M386 166h0M332 156h0M325.5 140h0M335 143.5h0M317.5 129h0M309.5 135.5h0M366.5 146.5h0M323 125.5h0M322 162h0M380 158h0M374 171h0M334 119h0M345 130h0M338.5 138h0M376 138h0M410.5 177.5h0M334 131.5h0M321 156h0M347.5 113h0M330.5 151.5h0M325 139h0M319 149h0M358 151.5h0M413 175h0M376.5 160.5h0M345.5 128h0M366.5 166h0M406 169.5h0M393 168.5h0M319.5 141h0M381 165h0M395.5 181h0M322 165.5h0M366.5 155.5h0M321.5 146.5h0M329.5 146h0M342.5 156.5h0M414.5 161h0M366 156h0M365.5 156h0M321 160h0M350 147h0M379.5 181.5h0M388 162.5h0M343 161h0M345.5 134h0M333.5 134.5h0M321 128h0M336 160h0M328.5 139h0M348.5 139h0M326 139h0M372.5 165h0M311.5 150h0M358 155.5h0M319.5 130.5h0M340 180h0M389.5 169.5h0M337.5 131h0M355.5 146h0M377.5 155h0M390.5 155.5h0M304.5 147.5h0M328 145h0M370.5 166.5h0M383 181.5h0M356.5 156.5h0M391.5 175.5h0M375.5 178.5h0M336 154.5h0M393 144h0M351.5 147.5h0M368.5 166h0M329 123h0M357.5 146.5h0M348.5 155h0M346 174h0M362 165.5h0M325.5 162.5h0M384.5 174.5h0M348.5 159.5h0M333.5 158.5h0M360.5 148h0M342.5 161.5h0M406.5 178.5h0M341.5 150.5h0M353.5 134.5h0M395 162h0M346.5 152.5h0M345 162.5h0M336 125h0M363.5 159h0M320.5 149.5h0M373 140h0M358.5 166.5h0M379.5 157.5h0M351.5 152.5h0M374 154.5h0M355 150.5h0M357 145h0M359.5 173.5h0M392 174.5h0M365 162h0M373 148.5h0M301 150h0M378 173h0M397.5 162h0M422 174.5h0M359 154h0M332 152.5h0M361.5 138.5h0M337.5 161h0M291 146.5h0M369 177.5h0M301 136.5h0M343 125.5h0M333.5 149.5h0M373 169.5h0M355 138h0M369 163h0M366 141.5h0M336 144h0M343.5 155h0M391.5 181.5h0M370 158.5h0M317.5 141.5h0M361 148.5h0M330.5 155.5h0M372.5 164h0M387.5 149.5h0M344.5 172.5h0M345.5 155.5h0M347 157.5h0M339 125h0M376.5 175.5h0M388 159h0M363.5 158h0M309 110h0M331.5 170.5h0M324 149.5h0M355 138h0M383 160.5h0M362.5 174.5h0M342.5 138.5h0M353.5 154h0M338 149.5h0M351.5 152.5h0M377.5 177h0M342.5 162h0M378.5 177.5h0M331 167.5h0M401 167.5h0M374.5 178.5h0M365 173h0M352 151h0M305.5 165h0M375.5 168.5h0M356.5 165h0M399.5 165.5h0M314.5 142.5h0M399.5 174h0M370.5 157.5h0M356.5 155h0M424 167h0M348.5 132h0M320 93h0M373 164.5h0M353 156h0M358 152.5h0M344.5 152h0M344 144h0M369 175h0M368.5 167h0M292.5 141h0M368.5 161.5h0M316 131h0M330.5 141.5h0M364.5 160h0M353 153h0M417.5 174h0M377.5 154.5h0M340 166.5h0M329.5 142h0M316 158.5h0M360.5 171h0M347 169h0M318.5 146h0M290 142h0M343 142.5h0M392 175.5h0M374.5 159h0M338.5 163h0M342.5 141h0M373.5 161h0M317 133h0M404.5 171h0M310 146.5h0M346.5 143h0M322.5 148.5h0M368.5 158.5h0M344 149h0M332 156h0M422 161.5h0M352 163.5h0M349 169.5h0M381.5 172.5h0M333 160.5h0M342.5 139.5h0M348.5 156.5h0M357.5 131h0M366 160.5h0M357.5 119h0M339.5 124.5h0M368.5 151.5h0M366 115.5h0M333.5 146h0M378.5 158.5h0M389 149h0M363.5 118h0M371 135.5h0M346.5 120h0M335.5 138h0M362.5 164h0M371 136.5h0M383 151h0M320.5 122h0M345 106h0M336.5 150.5h0M409.5 147h0M375.5 158h0M363.5 175h0M367.5 129h0M343 114h0M378.5 106h0M402.5 119.5h0M341 118.5h0M360 129h0M349.5 167h0M353.5 148h0M335.5 158h0M362.5 142h0M346.5 115h0M376.5 116h0M376.5 147h0M298.5 118h0M394.5 132h0M365.5 171h0M367 137h0M401.5 159h0M405.5 135.5h0M361.5 147.5h0M375 160.5h0M390 142h0M362.5 131.5h0M379.5 160h0M349 141.5h0M364.5 127h0M364 157h0M365.5 122h0M351.5 126.5h0M367 140.5h0M362.5 134.5h0M384.5 118.5h0M343 159h0M354 156h0M364 128.5h0M338 136.5h0M392 93.5h0M346 159.5h0M385 158h0M346 138h0M349.5 131.5h0M378 166h0M324 144.5h0M414.5 140h0M363 156.5h0M361.5 154.5h0M365.5 153h0M369 126h0M383.5 126h0M341.5 119h0M374.5 134h0M378 125h0M390 152.5h0M370 123.5h0M367 132h0M371.5 114.5h0M382 146.5h0M399.5 171h0M342 116h0M376.5 149.5h0M372 139.5h0M374 166h0M340 129h0M350 107.5h0M341.5 148h0M390.5 178h0M375.5 138h0M364 147h0M357.5 134.5h0M351.5 125.5h0M369.5 142h0M371 165h0M380.5 156.5h0M345.5 150h0M418.5 152h0M331 90.5h0M389 163.5h0M370.5 137.5h0M403.5 143.5h0M385 141.5h0M378 168h0M377 164.5h0M359.5 147h0M371.5 178.5h0M371.5 148.5h0M352.5 142.5h0M333.5 122.5h0M402.5 140.5h0M357 150h0M349 139.5h0M347.5 125.5h0M402.5 128.5h0M335.5 97h0M385.5 137h0M409.5 123.5h0M388.5 105.5h0M414 170.5h0M363 128h0M380 104h0M329 101h0M363 115h0M413 113.5h0M388 126h0M366 126h0M369.5 149h0M333 151h0M356.5 106h0M358.5 153h0M378.5 137h0M408 133h0M339 161h0M398.5 142.5h0M373 131.5h0M375 141h0M351.5 109.5h0M370 126.5h0M358.5 128.5h0M354.5 167h0M378.5 132h0M385 122.5h0M345.5 135.5h0M354 116h0M392 181.5h0M395.5 129h0M334.5 111h0M344.5 115h0M355.5 142h0M423.5 141.5h0M371.5 111h0M395 167.5h0M380.5 129h0M362.5 143.5h0M316.5 121.5h0M386 127h0M398.5 140.5h0M374.5 159h0M390 124.5h0M371.5 153h0M363 117h0M365.5 152.5h0M391.5 175.5h0M388.5 113.5h0M369 133h0M395 164h0M348 106h0M377.5 123.5h0M338.5 96.5h0M396 157.5h0M343 127h0M360.5 121h0M384 170h0M394.5 142h0M405.5 126h0M330 112.5h0M351 149.5h0M342.5 132h0M372 148.5h0M358.5 128.5h0M348.5 130h0M347 142h0M374.5 139.5h0M370 143h0M379.5 165.5h0M317.5 145.5h0M371 157.5h0M395 141.5h0M342 149h0M412 146h0M324.5 141.5h0M389.5 145h0M331 161h0M359.5 141h0M345 159.5h0M367.5 163.5h0M383.5 158h0M365.5 132.5h0M355.5 129h0M333 138h0M392 150.5h0M311.5 103.5h0M324.5 117.5h0M410 129h0M356 134.5h0M363.5 146.5h0M387 155.5h0M369.5 111.5h0M374 129.5h0M370.5 144.5h0M349.5 133h0M377 111h0M355.5 148.5h0M323.5 123h0M402.5 132.5h0M369 112.5h0M401 157h0M372.5 142h0M365 155h0M381 115h0M394.5 153h0M375.5 134.5h0M360 125.5h0M363.5 137h0M374.5 117h0M354.5 139.5h0M379 157.5h0M349 145h0M362 159h0M347 159h0M363.5 141h0M369 142.5h0M343.5 143h0M351 157h0M372 120h0M332 105.5h0M385.5 146.5h0M386 161.5h0M389 124.5h0M377 124h0M403.5 142h0M378 135h0M367 169h0M365.5 169h0M315 104.5h0M339.5 133.5h0M331.5 160h0M369 148.5h0M358.5 147h0M352.5 142.5h0M334.5 135h0M338 138h0M337 150.5h0M350 142.5h0M340.5 140.5h0M341 67.5h0M344 150h0M376.5 172.5h0M379.5 122h0M365.5 149h0M351.5 142h0M388.5 132h0M411.5 138.5h0M359 134.5h0M370.5 123h0M400 151.5h0M362.5 119.5h0M377 147h0M352 140h0M411 156h0M332.5 138h0M405 150.5h0M348.5 143.5h0M356 153.5h0M375.5 147h0M354 150.5h0M376 132.5h0M381 134h0M396.5 153h0M361.5 151h0M357 128.5h0M376.5 172.5h0M394.5 113h0M360 156h0M349 137h0M355 157.5h0M383 161h0M305 152h0M364 141.5h0M344 119h0M398.5 133.5h0M367 156h0M352 164.5h0M347.5 126.5h0M389.5 117.5h0M354.5 141.5h0M371 158h0M356.5 147.5h0M394.5 155.5h0M338.5 136h0M423.5 148.5h0M348.5 144.5h0M369 124.5h0M364 164.5h0M367 162h0M372.5 126.5h0M391.5 148.5h0M389 165.5h0M376 146h0M376.5 96.5h0M365 133h0M356 150.5h0M365.5 122.5h0M391.5 128h0M386 153.5h0M378 173h0M396.5 161.5h0M355 175.5h0M371.5 145.5h0M364.5 129h0M388 173.5h0M402 125h0M394 121.5h0M325 152.5h0M361.5 176h0M415 128.5h0M262.5 96h0M275.5 72h0M302 89.5h0M305.5 60h0M293.5 76h0M318 69h0M315 89.5h0M292 72h0M315.5 96h0M271.5 53h0M291 82h0M286 56.5h0M279 83.5h0M273.5 88h0M407 98.5h0M343 180.5h0M266 103.5h0M252.5 162h0M381 95.5h0M257.5 154h0M273 153h0M380 181.5h0M257 168h0M264.5 144.5h0M263.5 104.5h0M298 97.5h0M340 165h0M289 153.5h0" stroke="#1414ff" stroke-width="1.5" stroke-linecap="square" fill="none"/><ellipse cx="234.7" cy="58.65" rx="28.2" ry="50.45" fill="#bccae6" fill-opacity="0.42" stroke="#1b2a72" stroke-width="2.1"/><ellipse cx="364.7" cy="151.1" rx="55.3" ry="49.3" fill="#d7e16e" fill-opacity="0.36" stroke="#dbe85e" stroke-width="2.1"/><line x1="192.5" y1="40.6" x2="409" y2="185.9" stroke="#c20004" stroke-width="2.6"/><path d="M226.4 56.8l5.2 6.3-5.2 6.3-5.2-6.3z" fill="none" stroke="#c20004" stroke-width="2.5"/><path d="M361.4 147.5l5.2 6.3-5.2 6.3-5.2-6.3z" fill="none" stroke="#c20004" stroke-width="2.5"/><text x="264.3" y="28.9" font-size="11.3" font-weight="bold" fill="#283278" textLength="82.5" lengthAdjust="spacingAndGlyphs">water-rich tissue</text><text x="355.8" y="93.7" font-size="11.2" font-weight="bold" fill="#93bf45" textLength="45" lengthAdjust="spacingAndGlyphs">fat tissue</text><text x="197.6" y="14.8" font-size="12" font-weight="bold" fill="#111">(c)</text><text x="321.6" y="203.4" font-size="7.4" fill="#262626" text-anchor="middle" textLength="39.2" lengthAdjust="spacingAndGlyphs">Fat intensity</text><text transform="translate(198.7 91) rotate(-90)" font-size="7.4" fill="#262626" text-anchor="middle" textLength="44.5" lengthAdjust="spacingAndGlyphs">Water intensity</text><rect x="470.6" y="5.2" width="232.9" height="177.7" fill="none" stroke="#8a8a8a" stroke-width="1"/><path d="M470.6 182.9v-2.2M470.6 5.2v2.2M492.6 182.9v-2.2M492.6 5.2v2.2M514.6 182.9v-2.2M514.6 5.2v2.2M536.6 182.9v-2.2M536.6 5.2v2.2M558.6 182.9v-2.2M558.6 5.2v2.2M580.6 182.9v-2.2M580.6 5.2v2.2M602.6 182.9v-2.2M602.6 5.2v2.2M624.6 182.9v-2.2M624.6 5.2v2.2M646.6 182.9v-2.2M646.6 5.2v2.2M668.6 182.9v-2.2M668.6 5.2v2.2M690.6 182.9v-2.2M690.6 5.2v2.2M470.6 183h2.2M703.5 183h-2.2M470.6 151.1h2.2M703.5 151.1h-2.2M470.6 119.2h2.2M703.5 119.2h-2.2M470.6 87.3h2.2M703.5 87.3h-2.2M470.6 55.4h2.2M703.5 55.4h-2.2M470.6 23.5h2.2M703.5 23.5h-2.2" stroke="#8a8a8a" stroke-width="0.9" fill="none"/><g font-size="6.7" fill="#4e4e4e"><text x="470.6" y="192.7" text-anchor="middle">0</text><text x="492.6" y="192.7" text-anchor="middle">100</text><text x="514.6" y="192.7" text-anchor="middle">200</text><text x="536.6" y="192.7" text-anchor="middle">300</text><text x="558.6" y="192.7" text-anchor="middle">400</text><text x="580.6" y="192.7" text-anchor="middle">500</text><text x="602.6" y="192.7" text-anchor="middle">600</text><text x="624.6" y="192.7" text-anchor="middle">700</text><text x="646.6" y="192.7" text-anchor="middle">800</text><text x="668.6" y="192.7" text-anchor="middle">900</text><text x="690.6" y="192.7" text-anchor="middle">1000</text><text x="467.6" y="185.4" text-anchor="end">0</text><text x="467.6" y="153.5" text-anchor="end">100</text><text x="467.6" y="121.6" text-anchor="end">200</text><text x="467.6" y="89.7" text-anchor="end">300</text><text x="467.6" y="57.8" text-anchor="end">400</text><text x="467.6" y="25.9" text-anchor="end">500</text></g><path d="M490 68.5h0M474.5 58h0M483.5 66h0M474.5 92h0M477.5 46h0M489 57h0M479.5 78h0M486 93h0M493.5 75h0M488.5 75.5h0M478 78h0M472.5 62.5h0M498 77.5h0M476.5 64.5h0M502.5 62h0M481.5 75h0M478.5 74.5h0M476.5 59h0M472.5 60.5h0M482.5 89.5h0M482 74h0M483 55.5h0M473.5 67.5h0M476 26h0M490 61.5h0M478.5 76h0M478 44h0M478 72h0M481 78.5h0M476.5 48.5h0M495 70h0M485 72.5h0M473.5 80.5h0M488 81.5h0M484 76.5h0M480 86h0M481 68h0M481.5 82.5h0M484.5 70.5h0M473.5 77h0M503.5 70.5h0M503 69.5h0M485.5 94.5h0M476.5 72.5h0M481.5 65.5h0M472.5 51.5h0M488.5 70h0M517.5 59.5h0M474 65h0M481 88.5h0M480 46.5h0M473 83h0M489 68h0M473.5 101h0M477 59.5h0M478 94.5h0M476.5 100.5h0M491 63h0M473.5 55h0M473 76h0M479 44h0M489.5 88h0M479.5 70.5h0M504.5 81.5h0M488 57.5h0M500 46.5h0M472 49.5h0M495 48h0M475 46h0M478 77h0M472.5 46h0M491.5 67.5h0M490 50h0M494 45h0M493.5 59h0M475.5 69.5h0M478 75.5h0M489 56h0M488.5 59.5h0M482.5 78h0M475 50.5h0M480 85.5h0M474.5 70h0M478.5 86.5h0M472 43h0M482.5 59.5h0M486 68h0M478.5 68.5h0M477 53h0M472 78.5h0M472.5 64.5h0M477.5 74.5h0M475 80h0M476.5 98h0M491 65h0M478.5 79.5h0M490.5 47h0M486 42.5h0M473.5 83.5h0M472 50h0M480 45.5h0M487.5 61.5h0M476 52.5h0M472.5 52h0M483.5 65h0M473.5 72.5h0M473.5 83.5h0M474.5 53.5h0M487 57h0M491.5 84.5h0M480 57h0M484 80.5h0M481 48h0M474 50h0M478.5 57h0M481.5 73h0M481 75h0M474 56.5h0M474 76h0M486.5 61.5h0M494.5 74.5h0M488 45h0M484.5 84h0M473.5 72.5h0M487.5 43.5h0M477.5 95h0M482 67h0M479 65.5h0M481.5 85.5h0M473.5 74.5h0M475.5 77h0M482.5 49.5h0M487 78.5h0M485 61.5h0M489.5 61h0M476 48h0M480.5 52.5h0M479.5 54h0M484.5 74h0M473.5 53h0M484.5 57h0M483.5 47h0M490 59h0M483 72h0M488 49.5h0M474.5 58.5h0M476.5 67.5h0M475 67.5h0M481 65.5h0M486 80h0M496 39h0M492 59h0M474 64h0M475 99h0M479.5 66.5h0M471.5 49.5h0M482 61.5h0M496 42h0M493 63h0M482.5 59h0M480 97.5h0M486.5 52h0M480.5 66h0M492 67.5h0M481 42.5h0M478 77.5h0M496.5 30.5h0M479.5 66h0M482.5 52h0M477 73.5h0M484.5 78.5h0M482.5 78.5h0M491.5 57.5h0M488 79.5h0M476.5 58h0M487.5 59h0M482 58h0M475.5 78h0M482.5 65h0M485.5 64.5h0M477 78.5h0M474 77.5h0M479 75.5h0M481 60h0M480.5 84h0M483.5 76h0M474 60.5h0M474 59h0M490.5 63.5h0M477.5 79h0M476 93h0M472 75h0M483 48.5h0M483.5 56h0M485 61h0M483 59h0M483 68h0M475.5 40.5h0M472 83.5h0M473.5 47.5h0M480.5 47.5h0M473.5 51.5h0M472 68h0M488.5 48h0M497 90h0M477 60h0M478 51.5h0M475 75.5h0M474.5 67.5h0M477 67.5h0M473.5 73h0M488.5 84.5h0M482 77h0M495.5 44.5h0M476.5 73.5h0M489 39.5h0M485.5 57.5h0M476.5 72h0M489.5 51.5h0M493 56.5h0M472 83.5h0M476 61h0M477 58.5h0M484 40.5h0M479.5 52.5h0M486 67.5h0M479.5 76.5h0M497 81h0M487.5 62.5h0M486 38.5h0M486.5 59h0M478 53h0M473.5 63h0M475.5 47.5h0M499.5 33h0M473.5 80h0M477.5 41.5h0M493.5 61h0M482.5 38h0M478 53.5h0M472 71h0M473.5 68h0M478 63.5h0M476.5 60h0M486.5 61h0M482 90h0M494 33h0M473 80h0M476.5 54.5h0M489.5 55h0M471.5 49h0M472.5 67.5h0M480 55h0M483.5 74.5h0M481 72h0M486 57.5h0M508.5 57h0M480 58h0M479 55.5h0M475 63h0M483.5 96.5h0M482 45h0M473 72.5h0M475.5 63.5h0M477 79h0M479.5 44.5h0M493.5 64.5h0M497.5 77.5h0M472.5 69.5h0M497 57h0M479 50.5h0M473.5 75h0M476.5 67.5h0M498.5 69h0M485 57.5h0M478 50h0M474.5 42h0M496 62h0M478.5 47h0M478 80h0M478 68h0M475 79.5h0M479 83.5h0M489 104.5h0M477.5 48.5h0M483 71h0M481 101.5h0M487 54h0M475.5 58h0M478.5 62.5h0M479 83h0M475.5 74.5h0M473 48h0M477 59.5h0M497 83.5h0M486.5 50.5h0M478 62h0M486 62.5h0M477 60.5h0M473.5 83.5h0M476.5 75h0M496.5 55h0M477.5 51h0M494.5 72.5h0M477 72h0M495 77h0M473 70h0M472.5 64h0M471.5 57h0M473.5 75h0M498 77.5h0M479.5 49.5h0M478 70h0M477.5 90.5h0M473.5 63.5h0M487.5 98h0M474 70h0M473.5 96.5h0M472.5 89h0M485 80h0M479.5 82.5h0M472.5 34h0M505.5 82h0M497.5 85.5h0M511.5 37h0M479 72.5h0M480 35.5h0M472 90.5h0M472 65h0M472.5 66h0M475 99.5h0M482 38h0M482 57.5h0M477.5 44.5h0M473 59h0M477 59.5h0M489.5 72.5h0M472 37h0M475 76.5h0M471.5 60.5h0M479 55.5h0M480 73h0M473 56h0M474 69h0M483.5 80.5h0M472.5 65h0M483 68.5h0M475.5 78h0M481.5 75h0M471.5 70h0M490.5 91h0M478.5 23h0M479.5 42.5h0M472 72h0M490.5 62.5h0M472 57h0M475 47h0M478.5 70.5h0M489 61h0M475.5 68.5h0M478 66h0M477.5 81h0M478.5 69h0M479 78h0M474.5 68.5h0M475 66h0M473 39.5h0M480 29.5h0M478 78.5h0M475.5 68h0M473.5 61.5h0M490.5 62.5h0M475.5 64.5h0M497.5 41h0M474 45.5h0M480 51h0M481.5 49.5h0M483.5 60.5h0M483 50.5h0M492 55.5h0M481 86h0M472.5 82h0M491.5 61h0M477.5 68.5h0M478.5 84h0M479 82h0M481 54.5h0M474 85h0M483 73.5h0M479.5 85.5h0M492 101h0M490.5 65.5h0M504 45.5h0M500.5 69.5h0M496 87h0M473.5 54h0M474.5 46h0M488.5 71h0M489.5 71h0M471.5 63.5h0M484 47h0M482 51h0M478 63h0M480 95h0M497 77.5h0M480 75.5h0M473.5 62.5h0M493 74h0M477 71h0M500.5 78.5h0M486.5 78.5h0M478 55.5h0M489.5 57h0M473.5 76h0M479 60.5h0M485.5 66h0M475.5 36h0M472.5 44h0M476.5 63.5h0M483.5 58h0M471.5 50.5h0M480 75h0M478.5 49.5h0M473 60.5h0M473 76.5h0M477.5 65.5h0M482 60.5h0M480.5 65h0M489 65h0M473 59h0M496 59.5h0M489.5 63h0M473.5 73h0M504 67.5h0M482 54.5h0M483 55h0M473 58.5h0M486.5 53.5h0M481.5 48h0M481.5 90h0M483 78.5h0M482 26h0M482.5 75h0M481 91.5h0M494 84.5h0M474.5 50h0M472.5 42.5h0M479 73.5h0M487 86.5h0M479.5 72.5h0M479 22h0M483.5 83h0M474 91.5h0M471.5 39.5h0M477 61h0M475 59h0M500 46.5h0M472.5 82h0M479.5 45.5h0M477 79h0M487.5 50.5h0M480 85h0M481.5 48.5h0M479 58h0M477.5 94h0M487 90h0M475 56h0M471.5 55h0M472.5 63.5h0M490 53.5h0M489.5 64.5h0M481.5 76h0M473.5 51h0M471.5 44.5h0M478.5 42h0M479 91h0M476.5 50.5h0M473.5 50h0M481 59h0M482 68h0M485 52.5h0M483 53h0M479 67h0M479.5 52h0M479.5 80h0M484 81h0M473.5 51h0M489 98.5h0M479.5 56h0M485.5 75.5h0M476.5 96.5h0M473 53h0M475.5 68.5h0M473.5 84h0M481 54.5h0M480.5 62.5h0M491 82.5h0M478.5 73.5h0M488 72h0M472 72h0M486.5 52.5h0M478 61.5h0M480 53h0M497 57h0M481 78h0M487.5 75h0M472.5 76h0M473.5 84h0M480.5 97.5h0M485.5 47.5h0M491 80.5h0M491.5 53h0M477.5 63h0M473 32.5h0M481 72.5h0M498 71.5h0M471.5 67h0M484.5 74.5h0M482.5 35.5h0M474 59h0M495 52h0M481 35h0M481 45.5h0M472 65h0M486 74h0M483 64h0M482.5 64.5h0M472.5 62h0M481.5 83h0M473.5 66h0M500 73.5h0M492 61.5h0M498 93h0M494.5 60.5h0M487.5 45.5h0M494.5 86.5h0M498.5 62.5h0M481.5 57h0M485.5 92h0M479 47h0M473 64h0M475 63h0M480 63h0M477 59.5h0M481.5 87.5h0M477 61h0M473.5 64.5h0M488.5 77.5h0M487.5 54.5h0M476 61h0M481 64.5h0M483 55h0M487 45.5h0M484.5 65h0M478.5 62h0M482 57h0M496 65h0M493.5 20.5h0M475 47h0M491.5 76h0M472.5 63.5h0M489 56.5h0M486.5 87h0M472.5 34h0M476 86.5h0M482 60h0M472.5 71h0M476.5 54.5h0M476.5 74.5h0M485 59h0M474.5 60.5h0M484.5 89h0M472.5 60h0M509.5 80.5h0M482.5 63.5h0M471.5 51.5h0M496.5 77.5h0M499.5 98h0M495.5 74h0M498.5 70h0M479 66.5h0M476 60.5h0M482.5 71.5h0M481.5 69h0M477.5 57h0M473.5 53.5h0M479.5 76.5h0M473.5 61h0M473 59h0M487.5 61.5h0M480.5 45h0M476 73h0M478.5 59.5h0M476 39.5h0M496 72h0M482.5 76.5h0M481 64h0M478 80.5h0M473 54h0M475 106h0M471.5 72h0M498 50.5h0M474.5 83h0M479 55.5h0M471.5 66h0M483 80h0M497 65.5h0M480.5 69h0M476.5 70h0M491 68h0M478 83h0M491 64.5h0M478.5 84.5h0M476 69.5h0M478.5 43h0M483 51.5h0M485.5 88h0M495 62.5h0M472 51.5h0M476 52h0M489.5 46h0M488.5 59h0M473.5 73.5h0M476.5 53.5h0M481.5 80.5h0M489.5 77h0M477.5 81h0M478.5 62.5h0M481 74.5h0M476 71h0M477.5 82.5h0M483 81h0M478.5 74h0M483.5 45h0M480.5 69h0M490 63.5h0M472 43h0M478.5 65h0M487.5 64.5h0M477.5 64.5h0M476.5 37.5h0M475 76h0M481 70.5h0M485 63.5h0M477 65.5h0M473 93h0M496 58.5h0M483.5 65.5h0M488.5 49.5h0M483 46.5h0M485.5 58h0M471.5 89.5h0M479.5 60.5h0M487.5 82h0M472.5 60.5h0M474.5 54.5h0M474 68.5h0M485 69h0M479 87h0M483 96.5h0M482.5 65h0M476 66h0M483 62h0M473.5 50h0M493 63.5h0M475 55.5h0M491.5 74h0M477.5 55.5h0M485 87h0M488.5 72h0M475.5 47.5h0M499 54h0M481 87.5h0M474.5 41h0M489 74.5h0M476 70.5h0M479.5 58.5h0M482 68h0M479 73h0M485 51h0M474.5 93h0M492 61h0M484 68.5h0M495.5 71h0M488 51.5h0M475 85.5h0M475.5 54h0M490.5 87h0M472.5 85.5h0M473.5 66h0M481.5 68.5h0M486.5 56.5h0M478.5 66h0M477.5 62h0M481.5 70.5h0M472 91h0M488 56.5h0M473.5 79.5h0M479 73h0M490.5 64h0M480.5 83h0M491 50.5h0M478.5 63.5h0M475.5 67h0M480.5 41.5h0M477.5 42h0M482 80h0M474.5 65h0M472 64h0M481.5 72.5h0M479.5 55h0M476.5 87h0M491.5 99.5h0M506.5 43.5h0M477 58.5h0M477 87.5h0M490 73.5h0M475.5 84h0M477.5 55h0M474.5 58h0M473 61h0M476 82.5h0M480 39.5h0M479.5 59h0M483.5 59h0M481.5 44h0M472.5 77h0M482 70.5h0M474.5 35h0M473 61h0M477.5 40.5h0M479.5 64h0M483 59h0M479 61.5h0M480 60.5h0M484 60h0M474.5 86h0M472.5 68.5h0M471.5 80.5h0M474.5 61h0M475 61h0M474 64h0M475 77.5h0M473.5 59h0M477.5 92h0M475 62.5h0M480.5 73h0M483.5 82.5h0M488 57.5h0M475.5 74h0M475.5 67h0M488 42h0M477.5 72.5h0M477 57h0M493.5 82.5h0M483 67h0M475.5 80.5h0M501 50h0M471.5 36h0M486 82h0M474.5 33h0M487.5 87h0M477.5 83.5h0M491.5 57h0M482.5 79h0M474 54.5h0M492 59h0M475 54.5h0M481 73.5h0M477 83h0M475 64h0M497.5 52h0M474.5 76h0M474 64h0M477.5 77h0M473.5 60.5h0M492.5 60.5h0M481 53.5h0M483 46h0M481 66h0M487 45h0M486.5 77.5h0M477.5 69.5h0M473.5 70h0M478.5 48h0M495 77h0M477 51.5h0M488 69h0M473 85.5h0M490 80.5h0M476 57.5h0M473.5 59h0M481.5 80h0M472 80h0M486 83.5h0M475.5 34h0M471.5 76.5h0M477.5 51.5h0M482.5 76.5h0M472.5 86h0M477.5 70h0M476 73.5h0M479 65h0M484.5 61h0M479 69.5h0M473 76h0M492 45.5h0M484 76.5h0M485.5 60.5h0M490 86h0M477 51h0M475 54.5h0M478.5 71.5h0M483.5 90.5h0M489 82h0M503 64.5h0M474.5 72h0M480 88h0M496 64.5h0M485 59.5h0M492.5 81h0M483.5 52h0M493 60h0M472.5 67.5h0M485 60.5h0M485.5 91.5h0M482.5 56h0M473.5 7h0M486.5 63h0M477.5 62h0M473.5 55.5h0M481 88.5h0M496.5 80.5h0M477 31.5h0M481 48.5h0M476 69h0M490 51.5h0M475.5 76h0M482.5 62h0M475.5 74.5h0M477 38.5h0M473 87.5h0M486.5 52h0M483 87.5h0M476 69.5h0M493.5 45.5h0M480.5 37.5h0M483 47.5h0M501.5 46.5h0M475 58h0M474.5 81h0M485 60h0M485.5 51.5h0M505.5 44h0M481.5 68.5h0M477 64.5h0M477 71.5h0M478.5 50.5h0M494 36h0M479.5 56.5h0M497.5 28.5h0M483.5 72.5h0M488 64h0M487.5 66.5h0M473.5 68h0M486.5 47.5h0M496 85h0M472 69.5h0M485 71h0M472 87h0M485.5 62h0M474 58.5h0M472.5 55h0M481 50.5h0M479.5 76.5h0M473.5 89h0M478 65.5h0M473.5 79.5h0M472.5 73.5h0M490.5 57.5h0M491 65.5h0M476 81.5h0M475 53.5h0M474 59.5h0M482 84h0M491 53.5h0M474.5 85h0M478 56h0M495 77h0M481.5 59h0M489.5 81.5h0M472.5 69.5h0M479.5 64.5h0M472.5 87h0M474.5 43.5h0M485 93h0M477 72.5h0M473.5 54.5h0M480 70.5h0M492.5 69h0M506.5 106.5h0M496.5 64.5h0M483 69.5h0M475.5 62.5h0M473 72h0M475.5 75.5h0M485 94.5h0M480.5 68.5h0M487 73h0M483.5 52.5h0M488.5 82h0M488 51.5h0M472.5 53.5h0M481 70.5h0M476.5 89h0M473.5 60.5h0M485.5 56h0M480 68.5h0M494.5 64h0M474 37h0M495.5 50.5h0M475 43h0M482.5 67.5h0M482 87.5h0M491.5 70h0M476.5 68.5h0M478.5 73.5h0M476 55h0M472 92.5h0M489 80.5h0M479.5 76h0M475.5 75h0M497.5 64h0M497.5 64.5h0M473.5 69.5h0M476.5 54.5h0M476.5 87h0M487 64.5h0M480.5 64h0M482 70.5h0M475 83h0M478 73.5h0M471.5 68.5h0M474.5 51.5h0M476.5 41.5h0M474 47h0M477 84.5h0M476.5 75h0M484.5 38h0M487.5 38.5h0M490 47h0M490.5 42h0M474 74h0M482 73.5h0M488 63h0M475 86h0M478.5 83.5h0M473.5 41.5h0M482.5 57h0M473.5 71h0M481 73.5h0M486 40h0M478 88h0M479.5 75.5h0M485 53.5h0M498.5 53.5h0M473.5 77h0M479 73h0M472 59.5h0M478.5 65h0M475 64.5h0M479 51h0M477.5 56.5h0M481 81h0M483.5 98.5h0M486.5 41.5h0M487 51h0M475.5 86.5h0M498.5 76h0M488 51h0M500.5 92h0M472.5 53.5h0M479 44h0M477 75.5h0M477 69h0M477 75h0M479 94.5h0M474.5 79.5h0M481.5 75h0M479 69h0M482 49.5h0M482 52h0M477 60h0M487 70h0M482 48.5h0M471.5 52.5h0M479 89h0M475 76.5h0M489 58h0M476.5 38h0M476 69.5h0M471.5 98h0M476 60.5h0M475.5 64h0M494.5 70h0M480.5 69h0M479.5 89h0M474 64.5h0M472.5 71.5h0M478 67.5h0M477 70h0M492.5 65h0M490.5 71h0M489 81.5h0M491 54h0M491 72.5h0M484.5 80.5h0M472 73h0M482.5 32.5h0M478 58h0M473 75h0M483 69.5h0M477.5 84h0M479.5 68.5h0M487 76h0M482 82h0M481 74.5h0M481.5 92h0M486.5 90.5h0M475 74.5h0M498 66.5h0M478.5 61h0M479 61h0M478.5 41.5h0M501.5 53.5h0M483 47h0M483 36.5h0M481.5 90h0M487.5 56h0M483 80h0M479.5 69.5h0M478 58h0M495 74h0M472.5 58.5h0M476.5 63.5h0M471.5 69h0M478 55h0M481.5 71.5h0M478.5 55h0M483 67h0M485.5 45.5h0M498 49.5h0M480.5 62.5h0M485 92h0M482.5 51h0M474.5 50.5h0M484.5 76.5h0M484 87.5h0M472 52.5h0M477 53h0M472.5 68h0M476 77.5h0M479 48h0M490.5 55h0M473.5 80.5h0M477.5 57h0M475 73.5h0M482.5 26.5h0M489.5 44h0M474.5 99.5h0M478 76h0M484.5 94.5h0M482 89h0M471.5 90h0M484 57.5h0M480.5 39h0M473 86h0M472.5 70.5h0M485.5 74h0M481.5 75h0M479 53.5h0M471.5 55h0M473.5 42h0M475 81h0M490 66h0M481 101h0M488 71h0M482 73.5h0M476.5 50.5h0M480 37h0M485 46h0M500 61h0M477.5 67.5h0M476.5 71h0M479 49h0M478.5 65.5h0M479.5 72h0M485 71h0M474.5 78h0M483 71h0M475.5 89.5h0M488 59.5h0M495.5 50.5h0M491 69h0M481.5 64h0M473 46h0M486.5 62h0M481 53.5h0M486 71.5h0M474.5 68.5h0M474 74h0M493.5 46.5h0M498.5 57h0M486.5 78h0M485.5 28.5h0M474.5 53.5h0M494 60h0M473 54h0M486 59h0M483.5 31.5h0M475 57h0M477 67h0M472.5 72h0M477 27.5h0M476 36.5h0M481 52h0M474 66.5h0M479 57.5h0M489 69h0M484 70h0M494.5 64.5h0M481 83.5h0M471.5 52.5h0M483.5 77h0M481.5 75.5h0M474 59.5h0M492.5 50.5h0M477 42.5h0M476 76.5h0M488.5 103h0M481 49.5h0M473.5 88h0M501 47.5h0M479 58.5h0M491 62.5h0M473.5 57h0M496.5 52h0M479.5 44.5h0M482 59.5h0M479 42.5h0M476 46h0M476.5 50h0M473.5 41.5h0M482.5 57h0M479.5 62h0M486.5 63h0M489 58h0M474.5 73h0M483.5 66h0M477.5 77.5h0M485 49.5h0M476 69.5h0M472 48.5h0M474.5 56.5h0M485 47h0M492.5 40.5h0M479.5 82.5h0M478 64.5h0M471.5 89.5h0M477.5 65h0M479 56.5h0M474.5 63.5h0M476 69h0M481 70h0M473.5 76.5h0M480.5 61h0M474 58.5h0M479.5 53h0M477.5 70h0M475 53.5h0M480.5 73h0M480 64h0M481.5 89.5h0M486.5 46h0M472.5 52.5h0M486.5 59h0M489 65h0M476 51.5h0M477.5 81h0M473 37.5h0M484 58h0M486 81h0M486 77.5h0M484.5 58.5h0M485 48h0M487 58h0M483.5 79h0M482.5 63.5h0M476 65.5h0M485.5 30.5h0M477.5 67h0M473 82h0M471.5 44.5h0M491 27.5h0M476 78h0M503 82h0M482.5 58.5h0M492.5 55.5h0M473 40.5h0M477 47h0M471.5 80.5h0M479.5 83.5h0M475.5 70h0M507.5 73.5h0M479 55h0M475 67h0M491 84.5h0M486 53.5h0M484 67.5h0M478.5 71.5h0M474.5 64.5h0M487 77.5h0M480 56.5h0M474 73.5h0M489 70.5h0M472.5 66h0M478 85h0M477 87h0M484.5 61h0M474 64.5h0M471.5 70.5h0M475 51.5h0M473.5 75h0M472.5 59h0M487.5 56.5h0M474.5 65.5h0M484.5 66h0M473.5 42.5h0M480.5 61.5h0M472.5 44h0M476.5 35.5h0M478 59.5h0M479.5 40h0M480.5 51.5h0M476 63.5h0M480 40h0M479 55h0M482 56h0M481.5 40.5h0M488 75h0M495 53.5h0M478 65.5h0M496 64.5h0M490 65h0M492.5 64h0M480.5 86h0M499 49h0M492 42h0M473 62h0M479.5 99.5h0M483 63h0M492 74h0M507.5 79.5h0M474.5 59h0M486 61h0M499.5 67h0M482.5 72h0M488.5 81h0M479.5 62.5h0M480 49h0M475 64h0M473 96h0M479 49.5h0M472.5 54.5h0M477.5 40.5h0M484 56h0M482.5 85h0M484 46h0M477 39h0M476 60h0M485 66h0M476.5 54h0M483 61h0M481 57h0M476.5 82.5h0M475 100.5h0M482.5 59.5h0M475 90h0M492 78h0M493.5 69h0M489.5 44h0M476.5 67h0M485 43.5h0M472.5 85.5h0M478.5 51h0M473.5 59.5h0M498.5 90.5h0M475 63h0M473 71h0M472.5 59h0M480 75.5h0M482 63h0M472.5 82.5h0M474.5 24h0M475 62.5h0M473.5 59.5h0M481.5 70.5h0M477 51.5h0M472 65.5h0M475 113h0M475.5 66h0M482.5 51h0M473 73.5h0M478 58.5h0M475.5 73.5h0M484.5 43h0M479 52h0M483 76h0M483.5 101h0M474 92h0M474.5 57.5h0M483.5 48.5h0M473 76.5h0M492 69h0M481 34.5h0M482 72h0M479 51h0M494 90h0M475 60.5h0M472 68.5h0M472 69.5h0M483 56.5h0M476 77h0M478 56.5h0M478 68.5h0M481 64h0M480 77h0M476.5 56.5h0M475.5 81.5h0M477.5 44h0M472.5 93h0M490.5 65h0M474 74.5h0M496 91h0M497 86.5h0M481.5 58.5h0M473 56h0M502 59.5h0M474.5 40.5h0M474 59h0M490 73.5h0M480.5 44.5h0M482.5 62.5h0M491.5 73.5h0M503.5 84h0M481 62h0M474.5 52h0M479.5 58h0M479.5 61.5h0M478 55.5h0M473 69.5h0M497 55h0M476 69.5h0M474.5 83.5h0M478.5 68.5h0M487.5 71h0M477.5 74.5h0M484.5 54h0M472 89.5h0M479.5 40.5h0M481 60.5h0M481.5 55.5h0M473.5 57.5h0M498.5 58.5h0M473 82.5h0M485.5 58h0M477 68h0M487.5 55.5h0M491 53h0M472.5 75.5h0M476 76h0M472.5 84.5h0M477 80h0M477 38.5h0M499 78.5h0M484 86h0M479 32.5h0M494 58.5h0M474.5 53.5h0M472 40h0M481 76h0M485.5 68.5h0M506.5 53h0M472 38h0M500.5 47h0M471.5 74.5h0M486.5 48h0M492 72.5h0M476 49h0M476 75.5h0M474 64.5h0M472 62.5h0M472.5 67.5h0M479.5 43h0M489 68.5h0M497 69h0M478 82h0M486.5 76h0M485.5 58h0M474.5 75.5h0M473 81h0M503 42h0M481.5 41h0M479.5 64.5h0M485.5 95.5h0M483 36.5h0M478.5 75.5h0M477.5 63.5h0M480.5 57.5h0M496 70.5h0M487 52.5h0M475.5 60.5h0M474.5 70h0M472 86.5h0M472.5 56.5h0M473 63h0M477.5 40.5h0M482.5 91.5h0M477.5 83h0M476 85.5h0M476 55h0M477.5 55h0M477.5 90h0M502.5 58.5h0M474 64.5h0M475.5 71h0M478 84.5h0M480.5 51.5h0M479.5 51h0M486 69h0M481.5 59h0M493.5 56.5h0M475 49.5h0M473 83.5h0M479.5 74.5h0M473 58.5h0M472 71h0M478.5 60.5h0M483.5 37h0M490.5 51h0M482.5 63.5h0M483.5 63.5h0M490 95h0M473.5 64h0M476.5 75.5h0M486.5 74.5h0M477.5 44.5h0M473 50h0M479 67h0M471.5 56.5h0M476 47h0M494 57h0M476.5 72.5h0M472.5 63h0M474 79.5h0M487 70h0M474.5 67.5h0M479.5 87.5h0M482.5 66h0M478 57h0M489.5 67.5h0M498.5 35h0M481.5 40h0M479 76.5h0M480.5 47h0M495 71h0M471.5 47.5h0M478.5 69.5h0M482.5 70.5h0M473 76.5h0M473 35.5h0M479 69h0M491 48.5h0M483 25.5h0M473.5 89.5h0M478 82h0M479.5 59h0M475.5 93.5h0M475 84h0M481 51.5h0M483.5 66.5h0M475 33h0M475.5 100h0M475 72h0M473.5 62h0M484 45.5h0M477.5 66h0M476.5 71h0M481 33.5h0M488 67h0M476.5 69.5h0M497 64h0M471.5 70h0M476 64.5h0M490.5 55.5h0M473.5 95.5h0M480.5 71h0M487 52.5h0M505.5 50.5h0M486.5 83h0M473.5 88h0M477 74h0M477.5 65.5h0M472 40.5h0M475 56.5h0M478 74h0M497 69.5h0M499.5 65.5h0M472.5 75.5h0M478.5 58h0M486 77h0M483 57h0M473.5 67.5h0M478.5 58.5h0M485 48h0M476.5 42.5h0M474.5 55h0M495.5 67h0M483 86h0M485.5 56h0M482.5 46.5h0M472.5 65h0M483 72h0M489.5 77.5h0M486 80h0M488 51h0M488.5 52h0M479.5 52.5h0M472.5 45.5h0M483.5 62h0M484 61.5h0M479.5 65h0M483 67h0M472 88.5h0M474 51.5h0M476 70h0M490 58h0M495.5 86h0M489.5 67h0M495 41.5h0M480.5 62h0M482 63h0M481 68h0M478.5 60.5h0M473 54.5h0M490 56h0M485.5 61h0M473 62h0M479.5 77.5h0M474 37h0M481 49.5h0M487 53h0M497 77h0M491 62.5h0M490 76h0M480.5 41.5h0M475.5 56.5h0M481.5 77.5h0M473.5 79.5h0M475 57.5h0M484 80h0M472.5 58.5h0M473 55h0M479 47.5h0M485.5 58h0M481.5 46.5h0M471.5 90h0M477 46h0M484.5 66h0M489 82.5h0M476 37.5h0M500 65.5h0M479.5 64h0M474 65h0M484 41.5h0M486 71.5h0M489 62h0M491.5 91.5h0M475 57.5h0M483.5 56h0M483.5 91.5h0M484.5 64h0M479.5 76h0M475 79.5h0M488 59h0M484 68.5h0M473.5 58.5h0M472.5 58.5h0M474.5 60h0M480 52.5h0M483.5 53.5h0M508 49.5h0M495 37.5h0M494.5 46.5h0M474 49.5h0M475 64h0M484.5 61.5h0M504 47.5h0M486.5 80.5h0M492.5 75.5h0M477 54.5h0M471.5 29.5h0M472.5 52h0M486.5 66.5h0M486.5 68h0M472 82h0M487.5 68h0M502 63.5h0M478 97h0M484 67h0M475 56.5h0M489.5 52.5h0M478 73.5h0M495 72h0M478 74h0M473.5 72.5h0M486 54h0M484 66.5h0M472 68.5h0M482 64.5h0M482.5 68.5h0M482 69h0M478.5 52.5h0M488 64h0M482 82.5h0M480.5 42h0M486.5 70.5h0M495.5 61h0M477 81h0M492.5 59.5h0M475.5 45.5h0M493 63.5h0M473.5 64.5h0M471.5 66h0M484 56h0M484 66h0M476 76.5h0M487 88.5h0M471.5 65h0M476 76.5h0M485 43h0M486 77h0M483 54.5h0M493.5 36h0M481.5 68.5h0M490 74h0M473 52.5h0M476 91.5h0M490.5 71.5h0M495.5 95.5h0M474.5 51h0M475 60h0M484 81.5h0M476.5 53.5h0M478 70h0M494 68h0M476 57h0M473.5 36h0M483 73.5h0M499.5 73.5h0M488.5 73.5h0M478 62.5h0M480.5 59.5h0M488 48h0M472 38h0M499.5 65h0M489.5 60h0M484 62h0M483.5 45.5h0M478.5 70h0M494 81h0M482.5 64h0M473 68.5h0M494 66h0M497 61.5h0M473.5 59.5h0M477.5 75.5h0M478.5 31h0M489.5 68h0M481.5 51.5h0M486 60h0M483 72h0M474.5 67.5h0M478.5 43.5h0M487 54.5h0M477.5 65.5h0M492.5 43.5h0M491 52.5h0M480 66h0M485.5 72h0M477 60h0M498.5 55h0M474 69.5h0M497 67.5h0M477.5 92h0M483 52.5h0M476.5 48h0M480.5 70.5h0M482.5 69.5h0M484 70h0M490 71.5h0M481 76.5h0M497.5 51h0M487.5 109.5h0M479.5 64h0M475 57.5h0M473.5 89h0M487 57h0M478 78h0M501.5 72.5h0M485 60.5h0M493.5 62h0M490.5 80.5h0M482.5 88h0M480.5 75h0M493.5 63.5h0M498 54.5h0M473 53h0M472 98h0M492 84.5h0M480.5 66.5h0M471.5 69h0M482.5 66.5h0M472 52h0M484.5 69h0M481 72.5h0M479 40.5h0M476 64h0M483 74.5h0M490 50.5h0M511.5 71h0M474 55h0M478 62h0M492 44h0M480 49.5h0M475 74.5h0M473 55.5h0M490.5 38.5h0M478.5 51.5h0M488 71.5h0M485.5 36.5h0M478.5 84.5h0M475 76h0M484 63.5h0M477.5 66h0M487.5 70h0M477.5 57h0M476 65.5h0M478.5 82.5h0M486.5 71h0M472 38h0M480.5 96.5h0M491 52.5h0M471.5 59.5h0M477.5 60h0M478.5 63.5h0M486.5 50h0M473 65h0M477.5 63.5h0M474.5 70h0M491.5 50.5h0M475.5 86.5h0M503 75.5h0M472.5 34.5h0M485 42h0M476.5 63.5h0M473 81.5h0M482 51.5h0M484 64h0M478 42.5h0M491 55h0M486 65.5h0M474.5 38h0M476.5 73h0M477 72h0M491.5 64.5h0M476 81.5h0M472 50.5h0M473.5 71.5h0M490.5 89.5h0M478 67.5h0M474.5 45.5h0M483 73h0M489.5 54.5h0M492 52h0M481 71h0M497 48.5h0M472 64.5h0M476 70.5h0M474 66.5h0M477 74h0M484 99h0M472.5 82.5h0M475 56h0M479.5 73.5h0M481 67h0M476.5 84.5h0M496.5 81.5h0M486.5 55.5h0M486 74.5h0M478 68.5h0M475.5 74h0M488 58h0M488.5 92.5h0M491.5 51.5h0M497 62h0M474.5 79.5h0M485.5 67h0M475 36.5h0M495.5 58h0M472.5 63.5h0M477.5 89h0M491.5 57h0M478 43h0M490.5 63h0M477.5 66h0M479 64.5h0M489.5 75.5h0M490.5 66h0M475 75h0M486.5 43.5h0M474 59h0M480 66h0M485.5 63.5h0M475 90.5h0M479 53.5h0M484 69h0M475.5 71h0M481.5 92h0M478.5 44h0M483 29.5h0M481.5 54h0M472 79.5h0M479.5 83.5h0M481 51h0M485.5 48h0M484 70h0M494 91.5h0M476.5 47.5h0M482 65.5h0M482 62h0M479.5 69h0M479 31.5h0M472 68h0M500.5 68.5h0M481 68h0M480 59h0M482 40h0M497 71h0M480.5 49.5h0M504.5 75.5h0M475.5 77.5h0M473 54h0M480.5 47.5h0M478.5 61h0M486 84.5h0M477.5 43h0M484.5 74h0M476.5 60.5h0M492.5 65.5h0M483.5 53.5h0M479 31.5h0M483.5 57.5h0M473.5 67h0M491 53.5h0M476 67h0M476.5 61h0M479.5 65.5h0M501 72h0M486.5 70.5h0M476 83h0M475 79h0M497.5 104h0M473 48.5h0M481 61.5h0M483 52.5h0M476 75.5h0M487.5 74.5h0M484.5 82.5h0M472 78h0M504 77h0M482 69.5h0M472 17h0M488 63.5h0M483 46h0M473.5 61h0M474.5 66.5h0M471.5 57.5h0M479.5 65.5h0M484.5 68.5h0M502.5 76h0M472.5 64h0M481 71h0M477 57.5h0M484.5 61.5h0M473 79h0M473.5 60.5h0M473 54.5h0M474 89.5h0M475.5 68h0M476 63h0M476.5 77.5h0M489.5 82h0M474 55h0M492.5 79h0M504 71.5h0M473.5 51h0M477 39.5h0M472.5 37.5h0M496.5 87.5h0M503 82h0M478.5 76h0M487 52h0M482.5 52.5h0M474 74.5h0M479 64h0M486 46.5h0M495.5 66.5h0M481.5 55.5h0M478 71.5h0M472.5 78h0M472 64h0M495 66.5h0M474 83h0M475.5 83.5h0M482.5 50h0M472 80.5h0M475.5 96h0M478.5 52h0M482 69.5h0M478 71h0M472.5 44h0M483 71.5h0M473 64.5h0M475.5 49.5h0M475.5 96.5h0M479.5 65.5h0M476 51.5h0M491.5 89.5h0M497.5 63h0M474 57h0M492.5 58.5h0M472 72.5h0M473 45.5h0M496 64h0M472.5 66.5h0M482 64.5h0M508 66h0M478.5 61.5h0M473 61h0M473 55h0M483.5 77h0M473.5 97h0M476 74.5h0M504 60h0M474.5 72h0M483 67h0M486.5 37.5h0M496 60h0M508.5 59.5h0M471.5 55h0M486.5 86.5h0M480 73h0M472 54h0M476.5 73h0M482.5 68h0M479.5 54h0M484 58h0M476.5 83.5h0M491.5 80.5h0M482.5 64.5h0M473.5 66h0M480.5 64h0M504.5 60.5h0M471.5 43h0M476 77.5h0M477 31.5h0M475 58.5h0M475 79.5h0M482 79.5h0M476.5 88.5h0M475 87.5h0M476 65h0M505.5 80.5h0M476 76h0M493 51h0M485 73.5h0M479.5 56h0M484.5 80.5h0M479 50h0M481.5 70.5h0M478 76h0M486 49h0M498.5 68.5h0M472.5 68.5h0M481.5 56.5h0M475.5 53h0M506.5 57.5h0M487.5 71.5h0M494 99h0M481.5 50.5h0M488.5 82h0M488 44h0M472 38h0M477 73h0M473.5 61.5h0M493 51h0M493 68h0M475.5 89.5h0M492.5 60.5h0M471.5 57.5h0M495 57h0M489 55.5h0M481.5 82h0M487.5 73h0M493 75.5h0M500.5 76h0M472.5 15h0M475 94h0M483 63.5h0M475.5 63.5h0M472 74h0M472 92h0M484 51h0M473.5 93.5h0M477.5 53.5h0M491.5 87.5h0M477.5 62.5h0M476 59h0M479.5 63.5h0M485 66.5h0M474.5 51.5h0M485.5 47.5h0M482 50.5h0M491 48h0M478.5 64h0M474 55.5h0M475 61.5h0M475.5 61h0M486.5 69h0M485.5 80h0M493.5 34h0M493.5 57h0M474.5 48h0M475.5 39.5h0M475.5 69.5h0M475 67h0M474.5 76.5h0M475.5 72h0M476.5 77.5h0M489.5 52h0M474 50h0M477 66.5h0M477.5 74h0M483 90.5h0M478 65h0M480 65.5h0M480 65.5h0M476 71h0M478.5 98h0M482 53h0M489.5 63.5h0M489.5 75.5h0M505.5 70.5h0M488.5 94h0M486.5 68h0M472 58.5h0M473.5 105h0M477.5 63.5h0M476.5 59h0M492.5 71.5h0M492 60h0M482 85h0M484 46.5h0M479.5 55.5h0M473 49h0M474.5 91.5h0M493.5 72.5h0M477.5 75h0M486.5 69h0M505 41.5h0M478 65.5h0M476 63.5h0M487.5 86.5h0M480 57.5h0M483 62h0M480.5 85.5h0M479 80.5h0M486.5 81.5h0M478.5 58.5h0M480.5 56h0M483.5 61.5h0M477 76h0M481.5 63.5h0M488 96h0M474 53.5h0M489 57.5h0M483.5 92.5h0M481.5 46.5h0M476 78h0M485 72h0M492 75h0M483.5 84h0M488.5 53h0M491.5 47h0M507.5 57.5h0M476 63h0M498.5 76h0M475 57h0M489.5 66.5h0M472.5 55.5h0M487 53h0M479.5 51.5h0M476 55h0M475.5 39.5h0M479 86h0M491.5 73.5h0M487.5 60.5h0M479.5 64.5h0M475 55.5h0M478.5 87h0M483.5 65.5h0M496.5 73.5h0M484 61.5h0M494.5 61.5h0M481.5 52.5h0M488 82h0M480 45.5h0M481 64.5h0M474.5 70.5h0M489 67h0M477.5 61.5h0M475 61.5h0M473 81.5h0M486.5 63h0M484 76.5h0M485.5 64h0M494 34.5h0M472 52h0M487.5 89h0M481 59h0M476.5 49.5h0M475.5 57h0M475.5 68.5h0M472 70.5h0M479.5 73.5h0M481 67h0M475.5 65.5h0M479 76.5h0M488 80.5h0M482 63.5h0M482.5 65h0M487 52.5h0M481.5 56.5h0M473.5 68h0M472 79h0M472.5 29.5h0M481.5 65h0M480 78.5h0M489 72.5h0M496.5 64.5h0M480.5 43h0M488 68.5h0M482 105.5h0M476 57.5h0M498.5 77.5h0M474.5 61.5h0M481.5 56h0M482.5 64h0M474.5 99h0M481.5 41h0M476 48h0M486.5 69.5h0M478.5 57.5h0M472.5 64h0M477.5 83.5h0M484.5 68.5h0M471.5 68h0M497.5 55.5h0M491 54.5h0M488.5 86.5h0M472 73.5h0M472 37h0M473.5 54h0M485.5 54.5h0M484 57h0M472 70h0M480.5 59h0M472.5 56.5h0M476 57h0M475.5 56h0M481.5 39.5h0M491.5 35h0M475.5 95h0M474.5 63h0M478 74.5h0M491.5 65h0M482.5 63.5h0M474 82.5h0M481 79.5h0M477 35h0M475 53h0M474.5 80.5h0M477 62h0M475 69h0M486 73h0M479 85h0M485 24h0M489 60.5h0M487 72.5h0M475 51.5h0M484.5 60.5h0M474.5 87.5h0M492 64h0M474.5 68.5h0M485 65.5h0M489 66h0M479 91h0M498.5 63.5h0M481 59h0M474.5 63h0M476.5 62h0M477 72.5h0M492.5 70h0M488 83.5h0M491 68.5h0M474.5 49.5h0M491 33.5h0M481 22h0M491 17.5h0M496.5 26.5h0M482 24.5h0M485 13h0M482 27.5h0M492 28h0M485 28h0M472.5 17.5h0M497 19.5h0M498 20.5h0M487.5 30h0M492 16h0M491 28h0M496 18.5h0M492.5 17h0M472 16.5h0M480 10.5h0M489 26h0M496.5 15h0M475 25.5h0M484.5 21.5h0M481 32.5h0M481.5 15h0M482.5 16h0M478 19h0M495 26h0M473.5 12.5h0M482.5 27.5h0M473.5 30.5h0M490 15h0M479.5 12h0M482.5 16h0M490 25.5h0M495.5 29h0M492 19.5h0M482 18h0M485.5 20.5h0M477.5 30h0M480.5 28.5h0M474 10.5h0M487 11h0M491.5 10h0M486 16h0M481 18h0M474 29.5h0M481.5 27.5h0M489 32.5h0M484 26.5h0M492.5 20.5h0M474 23h0M483 11h0M486.5 19.5h0M494.5 10.5h0M481 27.5h0M473 27.5h0M492.5 29.5h0M493 25h0M474.5 19h0M473 120h0M473 144h0M471.5 132h0M480.5 125.5h0M476.5 147.5h0M476 158h0M481.5 138h0M479.5 143h0M484.5 151h0M485 122.5h0M478.5 141h0M478 134.5h0M484 131.5h0M476.5 136h0M476.5 143.5h0M475 147.5h0M478 120h0M477 135.5h0M472.5 131.5h0M480 130.5h0M472 134h0M487.5 140.5h0M476.5 132h0M473.5 134h0M481 134.5h0M473.5 112h0M473.5 154h0M480.5 137.5h0M482 139h0M477 130h0M473 123.5h0M480 111h0M476 142h0M475.5 112h0M473.5 148h0M478 144h0M473 152.5h0M482 138.5h0M480 146.5h0M478 136.5h0M476 125h0M483.5 128h0M479.5 145h0M474.5 109h0M476.5 141.5h0M488 127.5h0M472 127.5h0M482.5 115h0M473.5 127h0M471.5 123.5h0M474 127.5h0M474 121.5h0M479 127.5h0M479.5 142.5h0M484.5 142.5h0M484 124.5h0M473 120.5h0M476 132h0M492.5 137h0M481.5 128h0M473.5 123.5h0M476.5 138.5h0M474.5 153h0M473.5 135h0M471.5 147.5h0M474.5 138.5h0M480 129h0M478.5 133h0M476.5 147.5h0M475.5 158h0M474 144.5h0M473.5 141h0M478 138h0M471.5 153h0M481 134.5h0M479 144h0M474 140.5h0M482.5 129h0M483 136h0M484 143.5h0M487.5 136.5h0M477.5 139.5h0M493.5 136h0M473 124.5h0M481.5 115h0M475.5 151.5h0M475.5 126.5h0M486.5 137.5h0M479.5 156.5h0M481.5 146h0M479.5 125.5h0M472.5 141.5h0M471.5 135h0M482.5 148h0M476 132.5h0M474 149.5h0M480.5 131h0M477.5 146h0M477 124.5h0M472.5 118h0M472.5 118.5h0M477 139.5h0M472.5 151.5h0M477 133.5h0M475.5 141h0M472.5 149.5h0M477 145h0M474.5 155.5h0M472 121.5h0M475.5 139h0M479 130h0M479 140h0M479 149.5h0M482.5 128h0M476.5 134h0M488.5 147h0M473.5 163h0M473 120h0M473.5 132h0M472.5 149h0M475.5 129.5h0M478.5 145.5h0M481.5 130h0M475.5 132.5h0M478.5 142h0M478.5 150h0M471.5 128.5h0M483 127.5h0M476 153.5h0M475.5 123h0M478.5 134.5h0M483 130h0M471.5 139.5h0M474 130.5h0M478.5 122.5h0M472.5 134h0M478 137.5h0M496.5 114h0M513 103h0M542.5 125h0M501 126h0M499.5 109h0M513.5 119.5h0M507.5 121.5h0M500 110.5h0M536 112.5h0M477 125.5h0M506 123.5h0M479 118h0M489.5 132h0M493.5 117h0M500 127h0M516.5 107.5h0M479.5 118h0M490 110.5h0M486.5 118.5h0M521.5 108.5h0M477.5 116h0M558 120.5h0M478 117.5h0M516 119h0M474 124h0M514 110h0M499.5 115.5h0M534.5 120h0M532.5 134.5h0M501.5 116h0M513 130h0M497 117.5h0M496.5 128h0M486 122.5h0M502.5 116h0M480 123.5h0M539.5 124.5h0M533 105h0M515 120h0M498 119.5h0M485 120h0M504 112h0M485.5 123.5h0M481 113h0M519.5 121.5h0M503 125.5h0M515 123.5h0M486 118.5h0M502.5 118.5h0M609 125.5h0M583.5 118h0M541 119h0M542.5 99.5h0M608 143.5h0M623.5 155h0M503.5 101.5h0M531.5 93.5h0M524 83h0M512.5 95.5h0M606.5 156.5h0M597 132h0M528.5 87.5h0M534 101h0M570 137.5h0M559.5 92h0M581.5 139h0M485 79.5h0M595 146.5h0M556.5 95h0M573.5 119.5h0M531.5 102h0M611 162.5h0M597 144h0M507 88h0M619.5 146.5h0M606.5 131.5h0M570.5 164.5h0M598 131.5h0M565 103.5h0M544 93.5h0M629 144h0M603.5 127.5h0M548.5 95.5h0M510.5 47h0M521 77.5h0M513 88.5h0M565.5 132.5h0M644.5 128h0M613.5 131.5h0M550 142.5h0M606.5 165.5h0M561.5 114.5h0M495.5 105h0M614.5 143h0M550.5 117.5h0M572.5 106.5h0M574 141h0M626.5 147.5h0M608 118.5h0M532 94h0M528.5 92.5h0M622 144h0M598.5 141.5h0M538.5 117h0M617.5 155h0M495 91.5h0M516.5 90.5h0M523.5 93h0M608.5 134h0M615 152h0M590 148h0M492.5 67h0M542.5 105.5h0M633.5 170.5h0M583.5 127.5h0M599.5 168h0M490 80.5h0M633 165h0M632 147.5h0M515 83.5h0M616.5 153.5h0M519 82.5h0M637 162h0M606 159.5h0M585.5 138h0M490.5 95.5h0M622.5 133.5h0M506 64.5h0M613 137h0M559.5 142.5h0M509 122h0M620.5 159h0M572 103h0M626.5 149.5h0M520.5 110.5h0M509 67h0M525.5 100.5h0M508 89.5h0M533.5 85.5h0M506 92h0M489.5 92.5h0M567 116.5h0M511.5 78.5h0M533 72h0M528.5 70h0M507 91h0M567 131h0M624 157.5h0M546 127.5h0M593.5 124h0M512 78h0M637.5 150h0M524 103h0M572.5 129.5h0M542 120.5h0M631.5 161h0M528 95.5h0M594.5 143.5h0M518.5 89h0M525 74.5h0M610.5 153.5h0M496 67h0M638 147h0M573.5 124h0M542 91.5h0M629.5 152h0M579 87.5h0M517.5 91h0M549 100h0M576 123.5h0M573.5 124.5h0M493 90h0M522 95h0M572.5 136h0M579 128.5h0M590.5 140h0M617 167.5h0M516.5 74.5h0M590 131.5h0M512.5 76.5h0M552 116h0M556 149h0M509 111h0M586 129.5h0M507 86.5h0M614.5 146.5h0M494.5 85h0M619 156h0M505 82.5h0M603 148h0M527.5 70h0M532.5 116.5h0M603 141h0M577 154h0M584 139.5h0M521 78.5h0M579 134.5h0M503.5 78.5h0M532 93.5h0M550 97.5h0M555.5 102h0M558.5 121h0M629.5 151h0M533 106h0M504 90h0M573 115.5h0M605.5 145.5h0M595 134h0M585 123.5h0M557 106.5h0M547 122.5h0M631 146.5h0M606 162h0M581 131h0M583 129.5h0M507 78h0M593.5 132.5h0M575.5 118.5h0M568.5 139h0M550.5 100.5h0M512 91h0M510.5 82.5h0M526 106.5h0M587.5 132h0M633 151.5h0M597 163h0M630.5 171.5h0M537.5 104h0M590.5 162h0M533 95.5h0M593 156h0M630.5 141h0M542 108h0M492.5 87.5h0M577 118h0M634 168h0M545 141h0M580.5 127h0M577.5 130h0M622.5 158.5h0M614.5 160.5h0M640.5 148.5h0M520 87h0M580.5 122h0M482.5 87h0M517 91.5h0M623.5 165h0M526 125h0M592 105h0M612.5 147h0M629.5 131h0M559 121h0M512 85h0M535.5 109.5h0M572.5 148.5h0M523.5 87.5h0M565.5 116h0M525 73.5h0M529.5 104.5h0M495.5 61.5h0M568 111.5h0M555 138.5h0M565 145h0M580 116h0M632 154h0M569.5 119h0M585 140h0M522 93h0M602 140.5h0M560.5 139h0M583 148.5h0M571 125h0M566 134.5h0M615 145h0M514.5 117h0M558.5 123.5h0M581.5 133h0M630 121h0M545 100h0M626.5 159h0M497 73.5h0M591.5 137h0M492 81.5h0M525 112h0M625 146h0M494.5 74h0M573.5 144h0M497.5 96.5h0M559 120h0M561.5 107.5h0M604.5 147.5h0M600 175h0M568 131h0M598 145.5h0M613.5 143.5h0M543 113h0M505.5 101.5h0M600 159h0M534 111h0M576 130h0M587.5 138h0M532.5 80.5h0M521.5 90.5h0M490.5 94.5h0M561.5 137.5h0M508.5 89.5h0M564 130.5h0M610 165.5h0M608 156.5h0M571.5 120h0M583 133.5h0M515.5 78h0M518.5 98.5h0M627 171.5h0M570.5 103h0M520.5 76h0M573.5 139.5h0M536 92h0M539.5 104h0M605.5 121h0M585.5 138.5h0M553.5 109.5h0M610.5 144h0M630 156.5h0M563.5 113.5h0M564.5 136.5h0M579.5 133h0M603.5 139.5h0M517 87.5h0M495 90.5h0M540.5 105.5h0M497 84h0M504.5 76.5h0M548.5 103.5h0M588 129.5h0M568 100h0M537 74.5h0M558.5 119h0M501 79.5h0M529.5 105.5h0M601 167h0M615 149h0M521 107h0M616 151h0M500.5 87h0M622.5 145.5h0M612.5 168h0M624 145h0M557 118h0M491.5 80.5h0M543.5 120h0M502 70h0M569.5 132h0M572 141.5h0M521.5 93.5h0M533.5 56h0M637.5 162h0M584.5 140h0M547 127.5h0M610.5 160.5h0M587.5 168.5h0M571.5 126.5h0M558.5 91h0M549 110h0M617 160h0M633.5 163.5h0M570.5 126h0M504 92.5h0M619 145.5h0M492.5 68.5h0M537.5 107h0M625.5 145h0M552 107.5h0M501.5 84.5h0M510 118.5h0M499 81h0M538 92.5h0M543 79.5h0M483.5 83.5h0M607 124h0M505.5 80h0M534.5 136h0M628.5 145.5h0M480.5 89h0M600 128.5h0M557 109h0M567.5 130h0M510.5 90h0M615 148.5h0M537.5 102h0M548 104.5h0M550 117.5h0M524 99h0M557.5 105h0M591.5 144h0M568.5 126h0M568.5 146.5h0M580 112h0M621 164.5h0M512 77.5h0M616.5 145.5h0M553 98.5h0M610.5 174h0M566.5 120.5h0M541 108h0M607.5 156h0M519 98h0M585.5 102h0M566.5 118h0M544.5 99.5h0M540.5 90h0M528.5 117.5h0M588.5 128.5h0M608 170.5h0M504.5 98.5h0M564.5 112.5h0M492 82h0M501.5 70.5h0M522.5 72h0M532 95.5h0M601.5 130h0M574.5 138.5h0M555.5 128h0M532.5 106.5h0M583 140.5h0M488.5 77.5h0M523.5 80.5h0M572 137.5h0M559 145h0M574 149.5h0M580.5 125.5h0M571.5 135h0M628 138h0M488.5 94.5h0M634 161.5h0M551 86h0M578.5 136h0M643.5 153.5h0M574 130h0M583 135.5h0M512.5 88.5h0M617 163h0M514.5 88h0M625.5 163h0M575.5 136.5h0M486.5 88.5h0M511 102h0M617.5 154h0M552 103h0M618.5 137.5h0M623 172h0M563.5 144.5h0M533 100.5h0M502.5 101h0M611.5 138.5h0M576 126.5h0M544.5 126h0M495.5 73h0M508.5 78h0M559 109h0M536 121.5h0M624.5 166h0M627 171.5h0M511 112h0M549 129.5h0M560 114.5h0M545 104.5h0M612.5 171.5h0M580 124h0M562 139h0M586 116h0M542 92.5h0M604.5 146h0M589.5 139.5h0M480 90h0M634.5 157h0M577.5 135.5h0M501.5 88h0M629 154h0M589.5 145h0M606.5 166h0M614.5 160h0M601.5 138.5h0M606.5 149h0M641.5 154h0M503.5 112.5h0M507 99.5h0M573.5 128h0M602 140h0M534.5 89.5h0M586.5 114.5h0M576 134h0M529.5 75h0M599 152h0M564 112h0M589 148h0M629 167.5h0M507 90.5h0M602.5 159.5h0M569.5 126h0M620.5 170h0M604.5 139h0M527.5 87h0M572.5 145h0M592.5 138h0M578.5 139.5h0M506.5 91.5h0M559.5 118h0M622 154.5h0M571 126h0M493 72.5h0M586 149.5h0M520 78.5h0M541.5 106h0M578.5 88.5h0M513 76h0M510.5 89.5h0M629 143h0M626.5 164.5h0M616 161.5h0M497.5 94.5h0M499 81.5h0M552.5 118.5h0M591 124h0M500 80.5h0M536 112h0M590.5 143h0M589 141.5h0M524 98h0M606.5 134h0M505.5 97h0M584.5 124h0M564.5 130.5h0M552 122h0M554.5 84h0M535.5 93.5h0M613.5 147.5h0M577.5 122h0M484.5 90.5h0M492 82.5h0M617.5 158.5h0M556 112.5h0M540.5 85h0M516 71.5h0M593.5 130h0M522.5 101.5h0M527 118.5h0M639.5 153h0M567 111.5h0M507 74h0M522 119h0M593 158h0M588 140.5h0M642 153h0M616.5 161.5h0M571 133h0M504 99h0M492.5 89.5h0M499.5 89h0M527.5 89.5h0M586 127.5h0M515 114h0M565.5 133.5h0M593.5 140.5h0M560.5 131.5h0M516 77.5h0M496 84h0M622 149h0M544.5 95.5h0M623.5 164h0M522 105h0M564.5 123.5h0M551.5 130h0M618.5 157.5h0M510 112h0M516 108h0M504 76h0M615 155h0M505 59h0M566.5 130.5h0M604.5 137.5h0M499 64h0M547.5 123.5h0M558 116h0M502 70h0M572.5 129.5h0M618 143h0M616 163h0M568 127.5h0M602.5 142h0M537 132h0M646.5 146.5h0M625.5 146.5h0M627 172h0M566.5 119h0M523 88h0M504 86h0M545.5 84h0M544.5 111h0M533 106.5h0M520.5 72.5h0M641.5 136h0M535 104h0M598.5 128h0M595.5 164h0M575 138.5h0M614.5 145h0M539 115h0M576.5 115h0M548.5 120.5h0M534 108h0M592 138h0M485 81h0M547 111h0M553.5 120h0M641 148.5h0M637.5 162.5h0M564.5 101.5h0M514 81h0M622 165h0M578.5 133.5h0M514 79h0M583.5 139.5h0M563 105.5h0M576 122h0M623.5 158.5h0M608.5 124h0M573 121.5h0M569 136h0M482.5 89h0M586 169.5h0M630 141h0M568.5 132.5h0M628 171h0M537.5 101h0M634.5 168.5h0M603.5 122.5h0M517.5 86h0M540 117h0M584.5 156h0M592.5 131.5h0M562 118.5h0M547.5 119.5h0M542.5 99h0M557.5 127.5h0M497.5 63.5h0M519 124h0M565.5 151.5h0M582.5 122.5h0M623 155.5h0M504 100h0M591 162.5h0M531.5 102.5h0M577.5 150.5h0M550 103h0M503 56.5h0M498.5 63h0M622 175.5h0M583.5 126h0M616 166h0M613.5 153.5h0M510.5 76h0M485.5 84h0M513.5 106.5h0M609.5 151h0M534.5 92h0M587.5 139h0M583 156.5h0M634 162.5h0M597 156.5h0M556.5 115h0M575.5 133h0M507 88h0M613.5 141h0M608.5 132.5h0M523.5 74.5h0M617 158h0M553 139h0M503 80.5h0M519 101h0M493 74.5h0M526.5 84.5h0M575 158.5h0M534 91h0M491 85h0M508 84.5h0M632 164.5h0M602.5 145h0M503.5 79.5h0M536 101h0M643 154.5h0M612 158h0M632 168h0M587 134h0M498.5 85h0M599.5 148h0M500 78h0M545 116h0M607.5 170h0M532.5 112.5h0M607.5 166h0M507 123h0M559 127h0M608 132h0M535.5 107.5h0M517 81.5h0M607.5 136.5h0M512 84h0M520.5 100h0M563.5 137h0M612.5 170.5h0M514.5 73.5h0M600 152.5h0M529 89h0M623.5 171.5h0M627 172.5h0M625 158.5h0M514 100.5h0M532.5 87h0M555 109.5h0M609 161h0M532.5 107h0M595 110h0M594.5 155h0M556.5 105.5h0M553.5 138.5h0M530.5 98h0M520.5 112h0M598 139h0M635 156h0M521.5 72h0M586 133.5h0M637 157.5h0M587 144h0M517.5 81h0M540 100.5h0M506 81h0M574 119.5h0M505 73h0M607.5 149.5h0M577.5 98.5h0M632 143h0M530 97h0M599.5 123h0M578.5 123.5h0M560 112.5h0M533 104.5h0M508 92.5h0M599 134h0M619.5 164.5h0M596 138h0M603.5 138.5h0M573.5 145h0M558 102h0M575 126.5h0M589 128.5h0M552 116h0M512.5 80.5h0M578.5 128.5h0M629 151h0M535 123h0M610.5 161.5h0M565 106h0M576.5 141h0M491.5 105h0M583 157h0M610 135.5h0M640.5 158h0M517.5 77h0M553.5 90.5h0M582 112.5h0M542 108.5h0M633.5 158.5h0M543 84.5h0M493.5 102.5h0M584 134.5h0M480 101.5h0M515.5 92h0M510.5 79h0M614 140h0M581.5 152.5h0M531.5 103.5h0M541 96.5h0M580 129h0M488 77.5h0M518 78.5h0M610.5 127h0M619.5 164h0M568 105h0M524 93.5h0M623.5 146h0M584 152.5h0M609 155h0M599 125h0M625 160h0M507 88h0M531.5 81.5h0M557 107h0M515.5 91h0M553 105h0M567.5 122h0M566 139h0M504.5 98h0M571 115h0M637.5 157h0M520 85.5h0M489 85h0M526.5 91.5h0M484 82.5h0M559 113h0M632 158.5h0M589 134h0M585.5 158h0M546.5 102h0M537.5 101.5h0M514 97h0M558 107.5h0M538.5 87h0M594 133.5h0M576.5 119.5h0M608.5 151.5h0M609.5 150h0M515.5 96h0M556 104.5h0M594.5 138.5h0M537.5 83.5h0M511.5 80h0M612 160h0M603.5 149.5h0M600.5 155h0M528 108h0M492 71.5h0M582.5 143.5h0M546 105.5h0M622.5 173h0M500.5 79.5h0M602 145.5h0M517.5 71h0M548 102h0M550.5 96h0M615.5 161h0M566 136h0M588.5 151h0M508.5 102.5h0M569.5 112.5h0M552.5 121h0M510 91.5h0M524.5 102.5h0M511.5 90h0M532.5 121h0M629.5 162.5h0M544.5 112.5h0M502.5 81h0M601 152h0M637.5 160.5h0M519 98.5h0M624.5 136.5h0M506.5 101.5h0M554 132.5h0M547 107h0M564.5 140h0M560 135h0M612.5 125.5h0M560 114h0M554.5 103h0M571.5 138.5h0M548 113.5h0M547.5 108h0M583 105h0M594.5 150.5h0M634 156h0M557.5 97h0M546 97h0M492.5 83.5h0M581 135h0M575 109.5h0M553 137h0M584 153.5h0M579 147h0M625.5 154.5h0M607 121.5h0M574.5 110h0M574 123h0M591 143.5h0M637 143h0M527 95h0M555.5 128.5h0M609.5 137.5h0M565 104.5h0M558 121h0M596.5 154h0M589.5 121.5h0M526 116h0M497 82.5h0M494 79h0M525.5 98.5h0M536.5 98.5h0M510 78.5h0M632.5 123h0M521.5 92h0M499.5 80.5h0M586 137h0M489 94.5h0M631 155.5h0M634 160h0M523 104h0M500 78h0M535 111h0M503 84.5h0M494.5 104h0M617 155h0M633.5 120h0M595 135.5h0M617.5 142h0M494 72.5h0M582 116.5h0M581 127.5h0M514.5 94.5h0M606.5 151.5h0M561.5 109h0M631.5 150.5h0M528 97.5h0M595.5 131h0M508.5 77h0M581 116h0M521 127.5h0M578.5 111h0M516 72h0M604 158h0M499.5 73.5h0M571 123h0M587.5 163.5h0M536 94h0M556.5 112.5h0M506 101h0M501.5 78.5h0M572.5 149.5h0M580.5 147h0M607 139h0M516.5 88.5h0M541 109h0M600.5 138.5h0M522.5 107h0M572.5 113.5h0M639 161.5h0M528.5 107h0M498 73h0M613 150h0M558 137.5h0M511.5 41.5h0M597 138.5h0M624.5 167h0M543 113h0M524.5 105h0M544.5 121.5h0M613.5 165h0M508 110h0M561 132.5h0M525.5 91.5h0M603 140h0M491.5 79h0M565 129.5h0M499.5 85.5h0M548 104h0M588 137.5h0M618 162.5h0M571 105h0M603.5 150.5h0M500.5 110.5h0M539 117h0M522.5 98h0M606 131.5h0M646.5 142.5h0M606 152.5h0M614.5 139h0M635 157.5h0M625.5 161.5h0M521 97h0M633.5 149h0M597 143.5h0M498 84.5h0M539.5 108h0M588.5 128h0M562 150.5h0M620.5 157.5h0M569.5 111h0M614.5 154h0M591 131h0M636.5 154.5h0M508.5 69.5h0M576 99h0M512.5 75.5h0M577 143h0M581.5 137.5h0M597.5 172.5h0M586 150h0M612.5 147h0M581.5 123h0M523.5 101h0M568 125.5h0M620.5 148.5h0M549 131.5h0M631 137h0M507.5 102.5h0M521.5 66.5h0M529.5 107.5h0M615 149.5h0M522 84.5h0M609.5 161h0M606 140h0M602 126h0M496 86h0M526 98.5h0M579 121h0M552 130h0M623.5 153.5h0M618 165.5h0M631 158.5h0M582 159.5h0M576 131h0M559 101.5h0M509 101h0M517.5 117.5h0M540 98.5h0M633 133.5h0M540.5 118h0M597.5 168h0M510.5 97h0M538.5 92.5h0M522 101h0M522.5 114h0M507 85h0M634.5 153.5h0M575.5 137h0M613.5 161h0M587 126h0M615 158h0M544 128.5h0M566.5 124.5h0M549.5 89h0M535.5 82h0M499 88h0M488.5 74.5h0M519.5 106h0M590.5 113.5h0M513 79h0M584 146h0M576 136.5h0M552.5 98h0M520 122.5h0M517 97h0M571.5 138h0M585.5 141h0M496.5 113h0M598 134h0M490 82h0M498 74.5h0M618 168.5h0M519.5 104.5h0M564.5 113.5h0M491.5 78.5h0M591.5 134.5h0M627 165.5h0M646.5 144.5h0M507.5 78.5h0M612 159h0M523 109.5h0M559 118.5h0M537 107h0M591.5 146h0M638.5 155h0M514 97.5h0M573.5 135h0M579 130h0M583.5 134.5h0M500.5 88h0M606.5 141h0M568.5 126.5h0M524.5 98.5h0M523.5 80h0M535 88h0M537.5 115h0M520 99.5h0M615 171.5h0M553.5 118.5h0M620.5 128h0M543.5 81h0M617 136.5h0M489 87h0M486.5 89.5h0M506 75h0M528.5 88h0M624 165h0M543 104.5h0M513 97.5h0M599 156.5h0M501 73h0M516 96.5h0M503.5 88.5h0M583 130.5h0M562 93h0M503 103h0M589.5 119.5h0M600.5 137h0M635 157.5h0M521.5 87.5h0M528 95.5h0M627.5 154.5h0M518 92.5h0M518.5 98h0M593 170h0M621 149.5h0M554 134h0M570.5 146h0M590 144h0M590.5 151h0M495 81.5h0M604 149.5h0M532.5 111h0M575 121h0M511 94.5h0M610.5 134h0M606.5 138.5h0M599 157h0M556.5 107.5h0M576 115h0M622 156.5h0M507.5 73.5h0M489.5 93h0M630.5 142h0M595 140h0M589.5 113h0M585.5 125.5h0M525.5 116h0M499 99.5h0M573.5 136h0M548 120.5h0M611 149.5h0M557.5 95.5h0M632 169.5h0M565 139.5h0M501 81h0M586.5 148h0M567 125h0M595 149h0M607 173h0M571.5 141.5h0M614 162h0M534.5 87.5h0M614.5 175h0M492 70.5h0M488 75h0M558 118.5h0M579 122h0M511 71.5h0M492 86h0M541.5 78h0M589 134.5h0M534 97h0M536.5 96.5h0M638 157.5h0M575.5 136h0M516.5 87.5h0M575.5 137h0M493.5 88.5h0M554 107.5h0M627 155.5h0M506 84.5h0M510.5 78h0M512.5 99.5h0M597 133h0M509 101h0M503.5 85h0M629.5 175h0M517 86h0M625 178h0M548 101h0M589 138h0M613.5 166.5h0M569 136.5h0M540 112.5h0M497.5 88.5h0M492.5 78h0M594.5 128h0M615 151.5h0M525.5 108.5h0M585.5 163.5h0M521.5 114.5h0M625 156h0M613.5 156.5h0M536.5 103.5h0M509.5 71h0M611.5 135h0M580.5 119h0M618 156h0M540 103h0M618 156h0M568.5 126h0M605 134.5h0M533.5 128h0M546 108.5h0M627.5 145.5h0M503 87.5h0M588 177h0M605.5 130h0M632.5 163.5h0M517.5 105.5h0M639.5 156.5h0M555 127h0M596 153h0M547.5 88.5h0M557.5 105.5h0M516 65.5h0M524 95.5h0M501 97h0M581.5 123h0M555 116.5h0M545 107h0M535.5 97.5h0M511.5 97h0M498 70h0M613 135.5h0M541.5 104.5h0M551 105.5h0M616.5 172h0M477.5 92h0M617.5 145h0M494.5 102.5h0M523.5 111.5h0M606.5 152.5h0M501.5 84.5h0M612.5 130.5h0M570.5 120.5h0M592 154h0M518.5 109.5h0M483 100h0M498.5 64h0M631 152.5h0M530 109h0M538 100h0M606 130.5h0M589 114h0M500 75h0M494 77.5h0M606 141.5h0M558 78.5h0M623.5 153.5h0M638.5 151h0M494.5 83h0M522.5 122.5h0M574 122h0M522 71h0M511.5 64h0M630 157.5h0M494 86h0M586 119.5h0M598.5 128.5h0M549 123h0M583.5 127.5h0M545 123.5h0M523.5 103h0M528.5 111.5h0M613 134h0M492.5 84h0M544.5 111.5h0M580 135h0M561 127.5h0M557.5 118.5h0M628 169h0M487 83h0M590.5 163.5h0M601 146h0M556.5 109.5h0M613.5 145h0M580 150h0M593 130.5h0M612.5 163h0M490.5 87h0M522.5 113.5h0M635 149h0M570 132.5h0M532.5 90h0M603.5 139h0M636.5 153.5h0M520.5 83.5h0M551.5 105h0M596.5 126h0M494.5 78h0M556.5 119h0M489.5 71.5h0M619.5 135.5h0M502 92h0M598 161h0M612.5 145.5h0M610 166h0M504 89.5h0M618 150.5h0M518.5 76.5h0M506 105h0M562.5 125h0M614.5 162h0M647.5 142.5h0M585.5 122.5h0M536 108h0M533.5 100h0M584 128h0M602.5 152h0M496.5 73h0M494 72h0M564 121h0M581.5 123.5h0M508.5 70.5h0M510 109.5h0M586.5 138.5h0M580.5 145h0M534.5 101.5h0M627 161.5h0M549 105h0M496.5 97h0M591.5 111.5h0M626 147h0M496.5 101.5h0M610.5 151.5h0M588.5 134.5h0M570.5 112h0M636 165h0M485.5 90.5h0M505.5 81.5h0M632 159.5h0M580.5 106h0M553 97.5h0M554.5 114h0M499 90.5h0M538 107.5h0M494 80h0M567 104h0M518.5 81h0M634.5 146.5h0M543 101.5h0M592.5 118.5h0M638.5 159h0M533.5 83.5h0M570.5 122h0M561 117.5h0M640 154.5h0M595 139.5h0M622.5 148h0M571 136h0M600 119.5h0M563.5 141.5h0M577.5 140h0M517.5 65.5h0M545.5 85.5h0M562 128h0M624.5 145.5h0M619.5 142.5h0M547.5 110.5h0M513 105.5h0M504.5 66.5h0M586 134h0M602 141h0M517 82h0M619.5 154h0M611.5 154.5h0M585.5 121h0M612.5 174h0M537.5 98.5h0M559 98h0M537.5 120h0M541 115h0M545.5 101.5h0M554.5 109h0M573 117h0M632 132.5h0M528 107h0M599.5 160h0M624.5 165h0M492.5 69h0M628.5 173.5h0M531.5 80.5h0M586.5 128.5h0M518.5 85.5h0M502 85.5h0M641.5 150.5h0M527.5 91h0M627.5 154h0M499.5 75h0M641 151.5h0M485 118.5h0M591 152.5h0M633.5 138.5h0M599 142h0M626 117h0M505.5 119h0M568 107h0M498.5 82h0M582 129.5h0M596 132h0M605 141.5h0M561.5 160h0M499 77.5h0M489.5 91h0M511.5 102.5h0M564.5 105.5h0M585 140h0M547.5 113h0M537 118.5h0M516.5 101.5h0M601.5 153.5h0M598 159h0M523 96h0M521 105.5h0M548.5 120.5h0M552 107.5h0M588.5 158h0M557.5 119h0M570.5 119h0M519 114h0M517 82h0M530.5 111h0M506 95h0M620.5 149.5h0M597 150h0M617 151.5h0M617.5 152h0M618 157h0M562 86h0M535 116h0M505 87h0M577.5 124.5h0M535.5 112.5h0M508.5 65.5h0M612 159.5h0M611 161.5h0M621.5 125h0M544 99h0M569.5 132.5h0M587 124h0M569.5 129h0M590 130h0M550.5 120.5h0M636 166.5h0M596.5 108.5h0M499 56h0M575.5 127.5h0M632 163.5h0M525 100.5h0M573 139.5h0M602 140h0M574 113.5h0M527 78.5h0M612.5 141.5h0M499.5 99.5h0M593.5 149h0M510.5 106.5h0M605 141h0M566 98h0M501.5 81h0M532.5 110.5h0M547.5 108h0M559 101h0M564.5 109.5h0M559 107.5h0M497.5 72.5h0M510 65h0M526 91h0M585 122h0M526.5 86.5h0M540.5 92h0M614.5 139h0M556 121h0M589 120h0M568 116h0M545.5 79.5h0M501 83h0M569 108h0M535 105.5h0M597.5 156h0M547.5 101.5h0M617.5 148.5h0M593 146h0M588 123.5h0M593 117.5h0M608 151h0M509.5 103.5h0M631 167.5h0M517.5 76h0M522.5 98.5h0M556.5 104.5h0M510.5 99.5h0M586 126.5h0M625.5 175.5h0M616.5 153h0M530 92.5h0M504 103h0M546.5 88.5h0M520 107h0M588 123h0M500.5 76.5h0M502.5 100.5h0M528.5 98h0M593.5 109.5h0M526 83.5h0M543 77.5h0M499 84h0M625 181.5h0M500.5 91h0M619 159h0M629.5 165.5h0M495.5 83.5h0M597 143.5h0M638 139.5h0M566 98h0M634 164.5h0M539.5 111.5h0M575.5 114h0M578.5 114.5h0M561.5 109h0M486.5 91h0M592 144.5h0M549 127h0M620 147h0M565.5 128h0M636.5 159.5h0M498 87h0M537.5 105.5h0M594 165h0M586 110h0M588 117.5h0M615 139.5h0M633.5 170h0M546.5 121.5h0M624 148.5h0M530.5 98h0M632 169h0M600.5 131h0M511.5 63.5h0M555.5 120h0M618 168.5h0M542 126.5h0M527 96h0M517.5 103.5h0M506 77.5h0M541 95h0M634.5 163.5h0M514.5 98h0M626.5 154.5h0M517 82h0M516.5 100h0M614 168.5h0M607 156h0M621.5 160h0M590 153h0M535 116.5h0M622 150.5h0M596 141.5h0M553.5 114h0M607.5 168.5h0M577 136h0M573.5 109h0M568.5 111.5h0M584.5 121.5h0M553 105.5h0M566 129.5h0M508.5 99h0M515.5 76.5h0M594 132h0M607.5 140.5h0M578.5 137h0M521 114.5h0M591.5 122.5h0M502.5 65h0M612 172h0M510 65.5h0M510.5 54.5h0M525 87h0M535.5 90h0M607.5 131.5h0M590 139.5h0M633.5 130h0M547.5 97.5h0M620.5 159.5h0M629.5 163.5h0M548 113.5h0M496.5 89.5h0M484.5 90.5h0M519.5 92h0M577 140h0M498.5 92.5h0M634.5 169h0M512 89h0M535 82.5h0M580.5 100.5h0M504.5 69h0M595.5 120h0M556.5 81.5h0M522.5 91h0M508.5 69.5h0M516 102h0M551 107.5h0M598 145.5h0M592 148.5h0M595.5 143.5h0M613.5 137h0M496.5 96.5h0M617 159h0M486.5 86.5h0M552 120.5h0M561.5 106h0M573.5 132h0M633 144h0M544 108.5h0M531.5 115.5h0M539 111h0M520.5 121h0M541 110h0M565.5 118h0M527.5 117.5h0M586.5 125.5h0M565.5 143.5h0M631 158.5h0M634.5 163h0M629 156.5h0M630.5 156.5h0M625 143h0M576.5 150.5h0M522.5 88h0M513 92h0M487 76.5h0M558 115h0M492.5 83.5h0M494.5 68h0M606.5 147h0M583.5 136.5h0M630 154.5h0M616 158.5h0M496.5 98.5h0M559.5 114h0M520.5 105.5h0M599.5 146h0M582 138.5h0M552 105.5h0M618 128h0M548.5 120h0M568.5 142h0M574 119h0M563 107.5h0M636.5 160h0M532 102h0M514.5 107.5h0M629 159.5h0M588 100.5h0M591.5 142.5h0M573.5 128h0M522.5 86h0M625.5 170h0M585 144h0M626 151.5h0M617.5 164.5h0M541.5 123.5h0M516 105.5h0M543.5 96h0M552 83h0M606.5 143.5h0M584.5 125.5h0M506 105.5h0M595 152h0M639 144.5h0M596 136h0M526.5 91h0M508.5 99.5h0M566.5 150h0M568.5 125h0M600 164h0M569.5 137.5h0M537.5 107h0M608.5 154h0M517.5 85h0M614.5 149h0M632.5 156h0M511.5 90.5h0M486.5 76.5h0M623.5 166h0M540.5 119.5h0M574.5 124h0M493.5 76h0M616 147h0M495 101.5h0M548 105.5h0M516.5 104h0M540 106h0M528.5 117.5h0M535.5 97h0M505.5 77.5h0M544.5 101h0M580.5 140h0M549.5 102h0M513 92.5h0M601.5 156h0M604.5 148.5h0M586.5 139.5h0M639.5 144h0M581.5 143.5h0M544 70h0M597 164h0M553.5 110.5h0M506.5 98.5h0M598.5 113.5h0M593.5 133h0M587.5 126h0M524.5 109.5h0M613 142.5h0M510.5 92.5h0M503.5 88h0M620 171.5h0M602.5 144h0M614.5 140.5h0M541 94h0M533.5 87h0M501 93.5h0M602 140.5h0M525 96.5h0M497.5 82h0M490.5 84h0M504.5 90h0M546.5 102h0M621 137.5h0M608.5 135.5h0M592 136.5h0M513 84h0M557 120h0M622 147.5h0M583.5 156h0M515 116h0M632 159.5h0M497.5 88.5h0M527 104.5h0M524.5 88h0M608.5 150.5h0M588 147h0M613 158h0M609.5 141h0M551 87h0M511.5 98h0M554.5 99.5h0M623.5 160h0M525 105h0M608 133.5h0M570.5 113h0M604 123.5h0M631 158h0M588 117h0M562.5 121.5h0M502 102h0M494.5 67.5h0M596.5 140.5h0M540 79h0M515.5 86h0M499.5 100h0M597 155.5h0M614 121h0M491 106.5h0M617 164h0M589.5 163.5h0M610.5 139h0M525 114h0M509.5 81.5h0M597 126.5h0M610 165.5h0M552.5 119.5h0M620 158h0M593 128h0M591 139h0M573 124h0M538 124h0M522 100.5h0M632.5 146.5h0M507 104h0M605.5 135.5h0M489 92h0M576.5 129h0M613.5 153.5h0M527 126h0M619 169h0M506 116.5h0M614 123.5h0M616.5 143h0M510.5 98.5h0M537.5 93h0M613 127.5h0M617.5 154.5h0M596.5 120.5h0M578 152.5h0M605 153.5h0M551 113h0M508.5 96h0M561 134h0M524.5 92.5h0M572.5 117h0M560.5 125.5h0M501 77.5h0M502.5 87.5h0M474.5 105h0M500.5 78h0M558 126h0M538 99.5h0M514.5 112.5h0M520 82.5h0M626 166h0M545 84h0M507.5 73.5h0M578 137.5h0M505.5 71.5h0M515.5 120h0M569.5 129h0M560.5 127h0M620 150.5h0M594 168.5h0M533.5 116.5h0M614 165.5h0M579.5 153.5h0M629 157h0M556 137h0M583 128h0M552 118h0M492.5 84h0M609.5 136h0M542.5 113h0M617 121.5h0M626.5 164h0M501 101.5h0M636 145h0M503.5 77.5h0M572.5 119.5h0M551.5 108.5h0M623 154.5h0M585.5 158h0M577 132h0M527.5 104.5h0M498 83h0M621 180.5h0M510 84.5h0M551 127.5h0M620.5 152.5h0M625.5 176.5h0M519.5 89.5h0M497.5 79h0M527 89.5h0M569 123h0M616 151.5h0M551 126.5h0M523.5 114.5h0M535.5 109h0M544 108.5h0M546.5 98h0M529.5 99h0M620 142h0M494 66h0M539.5 146h0M548 99h0M593.5 143.5h0M618 141h0M576 121.5h0M503 98.5h0M497.5 72h0M523 74h0M571 112.5h0M539 118.5h0M508.5 88.5h0M568 104.5h0M622 134h0M559 100h0M521 79h0M630 144.5h0M558.5 137.5h0M624 144h0M526.5 95.5h0M586 152h0M595.5 145.5h0M532.5 122h0M536 104.5h0M500.5 78h0M559 131.5h0M604.5 132h0M595 136h0M519 78h0M531 87.5h0M581 148.5h0M538.5 101h0M573 141.5h0M586 135h0M534.5 79.5h0M560.5 115h0M522 86.5h0M607 155.5h0M550 120.5h0M497 75h0M510 96h0M510.5 72.5h0M492.5 69.5h0M615.5 134h0M574.5 127.5h0M625.5 150.5h0M582.5 147h0M524.5 104h0M576.5 134h0M612.5 139h0M550.5 115.5h0M602 129.5h0M519.5 95.5h0M512.5 109h0M514 77.5h0M543 103.5h0M560.5 110h0M584 138h0M597.5 124.5h0M542 100.5h0M597.5 130h0M579 113.5h0M551 131h0M586 128.5h0M486 79.5h0M503.5 73.5h0M507 100h0M555.5 127.5h0M595.5 127.5h0M505 80h0M527 105.5h0M572.5 141h0M581 135h0M553 106.5h0M527.5 93.5h0M558 122h0M522.5 104h0M516.5 94h0M558 118.5h0M577.5 145h0M506.5 79.5h0M520.5 88h0M590.5 121h0M519.5 110.5h0M587 143h0M529 108h0M580.5 136.5h0M534.5 89.5h0M509 70h0M497 96.5h0M627.5 162.5h0M533 95h0M563.5 131h0M543.5 115h0M560 110h0M499.5 106h0M613.5 135.5h0M612 136.5h0M569 131h0M577.5 133h0M518 100h0M551.5 115h0M576.5 114.5h0M526 95h0M620.5 154h0M500.5 90.5h0M541 114h0M524.5 87h0M540.5 91h0M628 144.5h0M508.5 90h0M638 162h0M548 142h0M575 134.5h0M638.5 149h0M556 129.5h0M511.5 74h0M543 123.5h0M601 131h0M521.5 106.5h0M595.5 147h0M522 106h0M499.5 100h0M579 103.5h0M555 92.5h0M509.5 71h0M556 112h0M611 155h0M593.5 128.5h0M617 151h0M586 140.5h0M478.5 99.5h0M564 140h0M594 135h0M615.5 135h0M489.5 81h0M559 129.5h0M494.5 68h0M617 160.5h0M632 163h0M534.5 110h0M529 94h0M494.5 80h0M537 110.5h0M500 104.5h0M608.5 182h0M569.5 112.5h0M641.5 146h0M624 144h0M495.5 81h0M570 90.5h0M488.5 96h0M532 108.5h0M508.5 80h0M638 158.5h0M552.5 116h0M593.5 130.5h0M621 142h0M492.5 76h0M580 140.5h0M567 134h0M627.5 144.5h0M560.5 116h0M519 91.5h0M593.5 124h0M626.5 173h0M484.5 97h0M549.5 131h0M513.5 84.5h0M548 121.5h0M532.5 93h0M629 150.5h0M535 104h0M630.5 147h0M542 123h0M558.5 111.5h0M580.5 127.5h0M510 78h0M520 105h0M571.5 119.5h0M557.5 86.5h0M554.5 125h0M551 105.5h0M525 125.5h0M577.5 136.5h0M553.5 112.5h0M525.5 99h0M541.5 134h0M627 148h0M520 97h0M541 117h0M512.5 103.5h0M566.5 135.5h0M531 87.5h0M492.5 101.5h0M518 63.5h0M493 85h0M513 72.5h0M617.5 151.5h0M508 88h0M533.5 106.5h0M594.5 128h0M524.5 119h0M499 81.5h0M592 154h0M567.5 116h0M529 87h0M541 88.5h0M595 135.5h0M558 117h0M603.5 139h0M573.5 108h0M612 152h0M550 118h0M549.5 87h0M506 103h0M595.5 140.5h0M570.5 117h0M631.5 169.5h0M561 124.5h0M501 80.5h0M580 140.5h0M620 164h0M545.5 103h0M585 139.5h0M549.5 97.5h0M602.5 149h0M514.5 90.5h0M609.5 144h0M492 91.5h0M578.5 104h0M504 71h0M624.5 150h0M587 147h0M507.5 87.5h0M613 131h0M582 135.5h0M562 129h0M606 145.5h0M540 78h0M581.5 146h0M584.5 142h0M630.5 152.5h0M539 142.5h0M583.5 136h0M633 150h0M517 88.5h0M494 71.5h0M620.5 164.5h0M530.5 122.5h0M536 123h0M487.5 86h0M555 105.5h0M548.5 101h0M523 97h0M617 149.5h0M613.5 137.5h0M612 143.5h0M550.5 119.5h0M521 117.5h0M541.5 98.5h0M603 144h0M507 80.5h0M496 97.5h0M568 126h0M537.5 102h0M603.5 154.5h0M481 88h0M480.5 96h0M515 91h0M544.5 77h0M523 103.5h0M505 64h0M558.5 126.5h0M493 70.5h0M518.5 105.5h0M605 157.5h0M608.5 138.5h0M640 143.5h0M597.5 154.5h0M600.5 151h0M523.5 121.5h0M537.5 90.5h0M507 84.5h0M570 125h0M538.5 102.5h0M576 158h0M602 137.5h0M594.5 132h0M586 128h0M595 136h0M529 90.5h0M492 78.5h0M609 150h0M490 81.5h0M624 147.5h0M502.5 116h0M547 111.5h0M575.5 133.5h0M560 106.5h0M536.5 77h0M527 99h0M613 149h0M555.5 114.5h0M541 88.5h0M547 93h0M614.5 132h0M637.5 147h0M604 141h0M613.5 155.5h0M611.5 148h0M486.5 99h0M604 113.5h0M615.5 135h0M564.5 118h0M513.5 90.5h0M585.5 115.5h0M528.5 87h0M566.5 121.5h0M578 117h0M607 162.5h0M592.5 160h0M509 109h0M524 105.5h0M617 152h0M581.5 133.5h0M621.5 158h0M518.5 67h0M602.5 173.5h0M589 118.5h0M600.5 127.5h0M488 82h0M517 109h0M578 137h0M580 145.5h0M575.5 152h0M595 171h0M560.5 109h0M645 151h0M617.5 163h0M561 100.5h0M546.5 113h0M526.5 86.5h0M618 162h0M588 131h0M578.5 120.5h0M499 75.5h0M591.5 142.5h0M613 139.5h0M536 131h0M529.5 99.5h0M626 156.5h0M505.5 77.5h0M569.5 126h0M628.5 171.5h0M605.5 156.5h0M488.5 84h0M496 66h0M566 122.5h0M609.5 131h0M534 90.5h0M487.5 78h0M496 74h0M528 95.5h0M597 154h0M621.5 157h0M512.5 73h0M587 124.5h0M533 81.5h0M507 78.5h0M601.5 159h0M492 96h0M575 121.5h0M587 134h0M533.5 112h0M501.5 92h0M543.5 124h0M482.5 85h0M537 131h0M605.5 156.5h0M574.5 100.5h0M491 69h0M627 158h0M483 82h0M514.5 117.5h0M582 126h0M557 98h0M492.5 66.5h0M600.5 133.5h0M521.5 94.5h0M578.5 158.5h0M654.5 129.5h0M485.5 82h0M610.5 144h0M624 148.5h0M513.5 80h0M566.5 119.5h0M505.5 58.5h0M572.5 119.5h0M491.5 75h0M591 155.5h0M604 178.5h0M508.5 93.5h0M627 170h0M502 59.5h0M501 94.5h0M625 144.5h0M607 146h0M632 155.5h0M494 71h0M623.5 162h0M618 157h0M625.5 152.5h0M539 88.5h0M589.5 113.5h0M590.5 135.5h0M516.5 71h0M632 159h0M568 109h0M496 111.5h0M529 97.5h0M527 77h0M538 97h0M569 160.5h0M533 84h0M494.5 89.5h0M513.5 64.5h0M581.5 115.5h0M523.5 96.5h0M577.5 125h0M496.5 99h0M528.5 77.5h0M581 129.5h0M561.5 118.5h0M557.5 142.5h0M514.5 81.5h0M597.5 127h0M586.5 124.5h0M516 84h0M523 99h0M634.5 158h0M543.5 104.5h0M630.5 164.5h0M632 169h0M580 137h0M568.5 108.5h0M626.5 155h0M571.5 136h0M501.5 85.5h0M546 120h0M518.5 98.5h0M599.5 141h0M624 154.5h0M567 119h0M577.5 96h0M500.5 73.5h0M525 112.5h0M551 114h0M566.5 113.5h0M496.5 94.5h0M551 108.5h0M503.5 82.5h0M624.5 143h0M516.5 86h0M580.5 159.5h0M552.5 106h0M602.5 153.5h0M488 81.5h0M519 104h0M632.5 163h0M526.5 101.5h0M640 160h0M597.5 138h0M604.5 118h0M591 137h0M607 154.5h0M627 145.5h0M600.5 159h0M552.5 122.5h0M596 128.5h0M536 107.5h0M529 91.5h0M626.5 163.5h0M558 138.5h0M566 123.5h0M575.5 114.5h0M604 148h0M623.5 152h0M548 112.5h0M509.5 90h0M491 76h0M566.5 142.5h0M592 143h0M616 163.5h0M573.5 120h0M630.5 133h0M602 155.5h0M509 73h0M504 71.5h0M540.5 114h0M597.5 121h0M531.5 114.5h0M488 75h0M510.5 111.5h0M604 127.5h0M582 148h0M603 154.5h0M609.5 138.5h0M578 121.5h0M480.5 89h0M583.5 115.5h0M547 113h0M560 131.5h0M541.5 128h0M624.5 126.5h0M633.5 133.5h0M548.5 107.5h0M537 114h0M553 106h0M574.5 142.5h0M585.5 130h0M539 109.5h0M633.5 161h0M511.5 96.5h0M565 110.5h0M574.5 116.5h0M556.5 119h0M589.5 168h0M569.5 115h0M523 103.5h0M528 71h0M572.5 104h0M496 88.5h0M612.5 138.5h0M605 131h0M553 85h0M576 145h0M582.5 127.5h0M593 130h0M522.5 90.5h0M616.5 151h0M555.5 126h0M496.5 85.5h0M524 111.5h0M541.5 99h0M521 109.5h0M594.5 144.5h0M540.5 102h0M616 139.5h0M602.5 160.5h0M607 162h0M519 101h0M609 141h0M607.5 137h0M567 123.5h0M507.5 42.5h0M551.5 99.5h0M532.5 94.5h0M522.5 97h0M547.5 108.5h0M540.5 100h0M626.5 160.5h0M625.5 161h0M573.5 128h0M600.5 146.5h0M555.5 112h0M608 149h0M632.5 148.5h0M568.5 132h0M557.5 100h0M611.5 153.5h0M606 137h0M500.5 84h0M506.5 57h0M618 151h0M527 115h0M579 130.5h0M636.5 153.5h0M627.5 148h0M490.5 112.5h0M521.5 82.5h0M497 95.5h0M636 155.5h0M525.5 79h0M580.5 136.5h0M593 136h0M484.5 106h0M538 116h0M585.5 141.5h0M610 152h0M631.5 170.5h0M633.5 162.5h0M631.5 160h0M622 159.5h0M627 126h0M577 158h0M627 155h0M486.5 93.5h0M555 123.5h0M538.5 127h0M530 77h0M554 124h0M511 83h0M609 144.5h0M610 155.5h0M548 111h0M623 143.5h0M588 152h0M586 101h0M553 123h0M627 156h0M541 122.5h0M543 90.5h0M595 149h0M620.5 143h0M562 127h0M544 135.5h0M524 86h0M523 112.5h0M581.5 113h0M614 152.5h0M514.5 113.5h0M632 172.5h0M608 145h0M489.5 85.5h0M635.5 160.5h0M588.5 138.5h0M594.5 154.5h0M614 149.5h0M583 141.5h0M571.5 119h0M603 146h0M486.5 91h0M603.5 126.5h0M556 128.5h0M595 133h0M507 75h0M526 78h0M546.5 117h0M588.5 115.5h0M511.5 86.5h0M609.5 161h0M508.5 91.5h0M598 128h0M504.5 73h0M566.5 113h0M557 125h0M584 135.5h0M530 81h0M517 98.5h0M525 134h0M567.5 111.5h0M527 71.5h0M600 144h0M586 128.5h0M546 130h0M584.5 129h0M635.5 166h0M588 137h0M493.5 77.5h0M620 175h0M574.5 122.5h0M560 117h0M531 106h0M576 131h0M565 124.5h0M587.5 135h0M570 140h0M556 102.5h0M504 69h0M561.5 130h0M533 115.5h0M512.5 88h0M595.5 156h0M594.5 149.5h0M529.5 93h0M499 83h0M621 150h0M538.5 112h0M548 126h0M612.5 162.5h0M521.5 80.5h0M563 130h0M581 138.5h0M621 147h0M535 126.5h0M559.5 134h0M517 90h0M594 122.5h0M535.5 118.5h0M550.5 127h0M548.5 96h0M595.5 148h0M608.5 150h0M552.5 134.5h0M609.5 165.5h0M583.5 107h0M509.5 79h0M606.5 133.5h0M610.5 151h0M572 108h0M488 78h0M499.5 70h0M602.5 134.5h0M534.5 109h0M520.5 71h0M606 132h0M530 113.5h0M554 113h0M507 64.5h0M557 136.5h0M548.5 113h0M640.5 157.5h0M623 156h0M548 105.5h0M494.5 85h0M531 96h0M550 117h0M605 120.5h0M523 109.5h0M526.5 83h0M617 139h0M537.5 77.5h0M620.5 150.5h0M558.5 137.5h0M605.5 159h0M513.5 73h0M514 95h0M516.5 73h0M612.5 145h0M519 76.5h0M588.5 134.5h0M626.5 154.5h0M624.5 124.5h0M601 157.5h0M626 161h0M623.5 166h0M607 148h0M622 135.5h0M526 90.5h0M533.5 121.5h0M530.5 104h0M510 91h0M522.5 104h0M593 134.5h0M587.5 141h0M527 98h0M533.5 94.5h0M543 124h0M601 127h0M576.5 121.5h0M536 83h0M634 148.5h0M609 160h0M601 155.5h0M588.5 139.5h0M574.5 124.5h0M614 139.5h0M629.5 168.5h0M508 86.5h0M556.5 128h0M505 102h0M538 78h0M528.5 92.5h0M626 150.5h0M492 103.5h0M523 85.5h0M627.5 170.5h0M486.5 81.5h0M517 85.5h0M545.5 121.5h0M616.5 163.5h0M535.5 100.5h0M523.5 102.5h0M540.5 125.5h0M625.5 149.5h0M500 88h0M540.5 105h0M627.5 135h0M552 88h0M583 123h0M612 149h0M536 102h0M488 77.5h0M488 81.5h0M554.5 133h0M621.5 151.5h0M554 117h0M501.5 89h0M613.5 139h0M625 180.5h0M491.5 70.5h0M554 110h0M634 169h0M577.5 124.5h0M502 81.5h0M501.5 89.5h0M591 137.5h0M562.5 111h0M600.5 125.5h0M532 90.5h0M599.5 148h0M544.5 123.5h0M498 97h0M625.5 155h0M548 89.5h0M600 128h0M524.5 103.5h0M507 80h0M583 118.5h0M576 129.5h0M586 145.5h0M616 160.5h0M626.5 143h0M577 125h0M535.5 117h0M508 83h0M564 141.5h0M619.5 148h0M504.5 91.5h0M622 143.5h0M588 135.5h0M586.5 131h0M566.5 121h0M526.5 106h0M545.5 104h0M622.5 181h0M594 153h0M609.5 155h0M508.5 111h0M546 135h0M510.5 78.5h0M621 151.5h0M523 78.5h0M599 161.5h0M553.5 115h0M630.5 166h0M556 97h0M543.5 105.5h0M496.5 78h0M588 111h0M539 116h0M497.5 101h0M611.5 114h0M603 139h0M493.5 83.5h0M536 78h0M503 77h0M586.5 160.5h0M508 93h0M600.5 156.5h0M606 173h0M627 153.5h0M532 118h0M541.5 116.5h0M573 127.5h0M587 146h0M568.5 105.5h0M601.5 152h0M532 103h0M572.5 140h0M605 121.5h0M547.5 105.5h0M507 77h0M594 152h0M526.5 77h0M569 114.5h0M556.5 103.5h0M636.5 160h0M629 159h0M522.5 81h0M560 102h0M562.5 106h0M553 137h0M516 97.5h0M513.5 87h0M635 141.5h0M525.5 109h0M578 147.5h0M555.5 152h0M493.5 92h0M523 92.5h0M621 147h0M555.5 114h0M500.5 88h0M605 132.5h0M574 148h0M527 77h0M515 76h0M484.5 63h0M511.5 60h0M505.5 68h0M495.5 69h0M504 70h0M526.5 78.5h0M528.5 71.5h0M515.5 60.5h0M526 79.5h0M512.5 72.5h0M505.5 81h0M500.5 66h0M509.5 82h0M501 80.5h0M508.5 74h0M534 83.5h0M504 64.5h0M513 79h0M524 80.5h0M528.5 67.5h0M528.5 86h0M502.5 77.5h0M509 63h0M525 77h0M512.5 77h0M496 61.5h0M500.5 68h0M509.5 72h0M537.5 74h0M484.5 83h0M519 72.5h0M509.5 63.5h0M526 75.5h0M525 73h0M510 84h0M493 77.5h0M493 67h0M523 83h0M500.5 47.5h0M507 64.5h0M547.5 82.5h0M519 96.5h0M484 62h0M523 75h0M505 67h0M545.5 83h0M509.5 94h0M526 67.5h0M510.5 80.5h0M489.5 64h0M525 79h0M492 66h0M508.5 76h0M517 74.5h0M540 65h0M532 83h0M525.5 83.5h0M525.5 60.5h0M508 72.5h0M522 70.5h0M519.5 95h0M507 84.5h0M534.5 76h0M516.5 73.5h0M524.5 74.5h0M512 75h0M497 54h0M530 79.5h0M522 79h0M503.5 78h0M540 70.5h0M532.5 84.5h0M505.5 84h0M487 63h0M546 92h0M531.5 75.5h0M503.5 77.5h0M489 62h0M484 72.5h0M532.5 63h0M491 62.5h0M490 91.5h0M536.5 76h0M516 87.5h0M501 72.5h0M552 86h0M524.5 75.5h0M534.5 76.5h0M528 69.5h0M546 82h0M539 81.5h0M497.5 57h0M531.5 73.5h0M523 68h0M495 56.5h0M511.5 59.5h0M514 69.5h0M495.5 72.5h0M513 69h0M520.5 56.5h0M517.5 82.5h0M538.5 84h0M519.5 76.5h0M527 77.5h0M523.5 89h0M531.5 66h0M517 76.5h0M516 66h0M507 66h0M516 78.5h0M515.5 88h0M523 79.5h0M524 69h0M525.5 85.5h0M530 70h0M491 72.5h0M491 47h0M523 90.5h0M530.5 72h0M531.5 90h0M555 85h0M524.5 70.5h0M530.5 86.5h0M519 76h0M538 89.5h0M515 56.5h0M510 66h0M527.5 96.5h0M513.5 94h0M511 78.5h0M516.5 85h0M513 82h0M530 69h0M502.5 57h0M523.5 80h0M518 73.5h0M523 58.5h0M528.5 87h0M530 91h0M484 62.5h0M525.5 63.5h0M508.5 81h0M510 73h0M512 53h0M520 59.5h0M521 81h0M509 68h0M508 74h0M518 63h0M505.5 81.5h0M513.5 76.5h0M516 65.5h0M504.5 79h0M489.5 64.5h0M522.5 80h0M522 70h0M536.5 82.5h0M520 73.5h0M603.5 112h0M602 115h0M612 126h0M625 132h0M628.5 146.5h0M675 161h0M589.5 117.5h0M627 127h0M599 115.5h0M646 144h0M648.5 149.5h0M605 103.5h0M600 113.5h0M573 114.5h0M619 121.5h0M631 100h0M640 122.5h0M603 130.5h0M614 134.5h0M640 132.5h0M653 155h0M589 119h0M612 132.5h0M625 120.5h0M602 101h0M617 131.5h0M623 131.5h0M608 124.5h0M604 124h0M635.5 157.5h0M596.5 97.5h0M608 107h0M586.5 103.5h0M599.5 115h0M643 132h0M622.5 131.5h0M610.5 127h0M601 95h0M628 143h0M616.5 137.5h0M641.5 131h0M604.5 135.5h0M622 133.5h0M618 118h0M647.5 144h0M624 130h0M597 115.5h0M623.5 135.5h0M599 109h0M599.5 104.5h0M625 104h0M644.5 142.5h0M625.5 131h0M582 118.5h0M611.5 131.5h0M615 110h0M619 116.5h0M635.5 151h0M621 137.5h0M597.5 114.5h0M613.5 130h0M605.5 129.5h0M660.5 151.5h0M612.5 123.5h0M643 142.5h0M645 128h0M630 136.5h0M614.5 114.5h0M639 154.5h0M602.5 124h0M609.5 120h0M633 115.5h0M624.5 122h0M640 120h0M588 119.5h0M619 115.5h0M626 123h0M620 128.5h0M614.5 132h0M586 99h0M609.5 119.5h0M580.5 89.5h0M645 132h0M598.5 114.5h0M613.5 104h0M608.5 121.5h0M621.5 123.5h0M600 121.5h0M631 128h0M628 140.5h0M645 123h0M613 129h0M663 157.5h0M628 138h0M623.5 125.5h0M630 137h0M621 129.5h0M617.5 135.5h0M625 100.5h0M657.5 135.5h0M618.5 109.5h0M643.5 143h0M580.5 100.5h0M586 127.5h0M649 155h0M600.5 128h0M617 123h0M579 102h0M633.5 143h0M656.5 132h0M612.5 122.5h0M577.5 102.5h0M595.5 121h0M594 119.5h0M615 127h0M610.5 147h0M606.5 92h0M646 146h0M619 144h0M588 99h0M650.5 130.5h0M634 151h0M601.5 108.5h0M628 112h0M618 130h0M627.5 136h0M622.5 127h0M633 136.5h0M584.5 134.5h0M638 129h0M599.5 92h0M617.5 124.5h0M630 153h0M641.5 106.5h0M615 125.5h0M593.5 108.5h0M590.5 96.5h0M609 129.5h0M640 132h0M610.5 113.5h0M632 142h0M610.5 129.5h0M624 134.5h0M624.5 144.5h0M605 111.5h0M600 113h0M617 122.5h0M634.5 136.5h0M630.5 134h0M600.5 103h0M636 133h0M627 133h0M639.5 126.5h0M596 138.5h0M611.5 135.5h0M603.5 118h0M600.5 117.5h0M640 113h0M611.5 125.5h0M637.5 145.5h0M598 129.5h0M606 139h0M658.5 145h0M620 105h0M624 130.5h0M600 116.5h0M611 112.5h0M638 116h0M595 116h0M629.5 121.5h0M604 98.5h0M635 115h0M613 119.5h0M610 131h0M613 115h0M602 130.5h0M620.5 130h0M592.5 129h0M647.5 134.5h0M602 113h0M608.5 119.5h0M569 109.5h0M633.5 130h0M612.5 121.5h0M646.5 132h0M630.5 139.5h0M621.5 126.5h0M628 116h0M609.5 111h0M608 117h0M591.5 106h0M614.5 112.5h0M608 126.5h0M569 97.5h0M642 133.5h0M615 125.5h0M606.5 120h0M620.5 138.5h0M632.5 144.5h0M615.5 137.5h0M628 130h0M619.5 122.5h0M586.5 113.5h0M593.5 105.5h0M593.5 110h0M614.5 119.5h0M592.5 114h0M637 144.5h0M632.5 109.5h0M615.5 146h0M647 142.5h0M615 139h0M644.5 144.5h0M629.5 133.5h0M610.5 117.5h0M625.5 120h0M634.5 133h0M626 114.5h0M628.5 153h0M665 150h0M616 127.5h0M547 99.5h0M652 139.5h0M615 132.5h0M618.5 109h0M618 115.5h0M623.5 128h0M604.5 145h0M589.5 111h0M622 90h0M609.5 138.5h0M635 133h0M664 146.5h0M607.5 120.5h0M595 126h0M647.5 146h0M590.5 114h0M621.5 107h0M617.5 115.5h0M642 142.5h0M617.5 135.5h0M623.5 139.5h0M598 119h0M628.5 124.5h0M599.5 120h0M611 126.5h0M662 144.5h0M612.5 122.5h0M629 153.5h0M599.5 88h0M610 127h0M618 117.5h0M644 138.5h0M632 144h0M629.5 132h0M622.5 127h0M617.5 102.5h0M642.5 148.5h0M595.5 113.5h0M632 127h0M621.5 145h0M604.5 112h0M612.5 139.5h0M653.5 153h0M605.5 136.5h0M626 128h0M625 130h0M598.5 105h0M613.5 100h0M638.5 144.5h0M604 108h0M592.5 115h0M641 128h0M629 124h0M640.5 132.5h0M595 111h0M605 105h0M650.5 133h0M627.5 139h0M647 153h0M615 101.5h0M635 133.5h0M662 113.5h0M626.5 139.5h0M644 136h0M622 138h0M636 117h0M626.5 127.5h0M631 138h0M616.5 128h0M626.5 133h0M637 137h0M640 151h0M602.5 129.5h0M616 132.5h0M619 129.5h0M600.5 102.5h0M612 135h0M610.5 127h0M603 109.5h0M622 128h0M601.5 105h0M623 121.5h0M632.5 138h0M623.5 136h0M622.5 132.5h0M620 128.5h0M595.5 133h0M611.5 130.5h0M629 142.5h0M620.5 149h0M637 128.5h0M595.5 128h0M605 125.5h0M598 116.5h0M627 124.5h0M605 94h0M591 111h0M622 128h0M634.5 136h0M581 108h0M674 168h0M634.5 114.5h0M656.5 139.5h0M577 105h0M625 158.5h0M631.5 134.5h0M623.5 129h0M590 112.5h0M662.5 133h0M604 128h0M620 114h0M614 110h0M609 119h0M620.5 126h0M631 135h0M659.5 124h0M624 117h0M623 112h0M613 114h0M633.5 142h0M640 126.5h0M590 124h0M620 130.5h0M615 130.5h0M590.5 114h0M645.5 138.5h0M578 111h0M601.5 130h0M611 104.5h0M640 170h0M680.5 124h0M661.5 177.5h0M659.5 168h0M641 174.5h0M631.5 166.5h0M674 168.5h0M654.5 171h0M631.5 167.5h0M625 149.5h0M649.5 172h0M618 156.5h0M648 155.5h0M629 157h0M638 162h0M602.5 137h0M652 175h0M643 167h0M610.5 155h0M666 161h0M647 123h0M614.5 130h0M662 175.5h0M656 171h0M651.5 167.5h0M663 159h0M666.5 163h0M628 171.5h0M665 168.5h0M658.5 166.5h0M617 140.5h0M607.5 154h0M577.5 146.5h0M683.5 159h0M686 131h0M649 175.5h0M669.5 163h0M669.5 180h0M667.5 177.5h0M646.5 150h0M648.5 160.5h0M650.5 176h0M651.5 144h0M655.5 157.5h0M620.5 154h0M629.5 170.5h0M644.5 163.5h0M616 148.5h0M651 161h0M628.5 148h0M670 164h0M642.5 170.5h0M676 175h0M672.5 181.5h0M615 153h0M672 169h0M634.5 129h0M625 155h0M605 143.5h0M588 157h0M653 173h0M653 162.5h0M656 150h0M646.5 156.5h0M644.5 163.5h0M620.5 153h0M650.5 168h0M666 159h0M668.5 176h0M672.5 166h0M615.5 131h0M649 179h0M668 174h0M676.5 180h0M628 137.5h0M616.5 145.5h0M620 167h0M656 168h0M655 162h0M630.5 158h0M630.5 137h0M621.5 160h0M628 158h0M607 134h0M629.5 163.5h0M631 172h0M668.5 173h0M653 150h0M639.5 167h0M620 165.5h0M573 127h0M654 163h0M646 165h0M695.5 162h0M691.5 169.5h0M663 180h0M615 168.5h0M667.5 169h0M648 162.5h0M635 172.5h0M637.5 134h0M631.5 153.5h0M648.5 138.5h0M623.5 155h0M570 128h0M633 164.5h0M651.5 140h0M650.5 165h0M625 132.5h0M632.5 137.5h0M641 149.5h0M644 150h0M677.5 173h0M658 179h0M657.5 151.5h0M633.5 174.5h0M617.5 135h0M644 154.5h0M599 151.5h0M690.5 172h0M627.5 165h0M622.5 165h0M698.5 168.5h0M637 181h0M640 156.5h0M663.5 178h0M649.5 180h0M629.5 172h0M681.5 178h0M637 154h0M656 171.5h0M619.5 181h0M628 167.5h0M648.5 172.5h0M631.5 160h0M620.5 139h0M658 142.5h0M629 157h0M667 169h0M648 152.5h0M593 160h0M659.5 172h0M647 169h0M643 165.5h0M692 176.5h0M626 147.5h0M618 174.5h0M649 177h0M663.5 171h0M650 147h0M591.5 150h0M634.5 165.5h0M630.5 160h0M619 155.5h0M640.5 164h0M626.5 163.5h0M632.5 152.5h0M657.5 164h0M692.5 172.5h0M665 171h0M642.5 150h0M685.5 171h0M679.5 174h0M667 165.5h0M653.5 160.5h0M635 160.5h0M634.5 149.5h0M617.5 153.5h0M637.5 173.5h0M602 136h0M640.5 169h0M638.5 133h0M640.5 177.5h0M648.5 173.5h0M648 165h0M645 155h0M666.5 178h0M648 162h0M635 140.5h0M641.5 166h0M655.5 157h0M667 172.5h0M654.5 163.5h0M665 171h0M635 170h0M662 174h0M651 153.5h0M646 166.5h0M644.5 157h0M613 151.5h0M672.5 155h0M653.5 173h0M636.5 147h0M633.5 156h0M668 173h0M619.5 164h0M659 131h0M617.5 147h0M637.5 155.5h0M642.5 178h0M598.5 154.5h0M620 140h0M652.5 152h0M652 153.5h0M607.5 148h0M614 158.5h0M618 174.5h0M685 159.5h0M667 147h0M617.5 156.5h0M621 177.5h0M687 157.5h0M661.5 155h0M688 155.5h0M623 137h0M679.5 172h0M655.5 175h0M613 145.5h0M622 146.5h0M650 166.5h0M667 177h0M639.5 153h0M647.5 177.5h0M668 148h0M661.5 165h0M624.5 132.5h0M645.5 152.5h0M636 155.5h0M616.5 146.5h0M672.5 173h0M627 158h0M647.5 180.5h0M677 170.5h0M649 142.5h0M687 152h0M631.5 163.5h0M661 158h0M673.5 170.5h0M643 170h0M632.5 123.5h0M578 147.5h0M659 159.5h0M673.5 169.5h0M610.5 114.5h0M660 178h0M646 165.5h0M595.5 141h0M622 141h0M649 148.5h0M660.5 181h0M625.5 178.5h0M616.5 150.5h0M619 171h0M663 155h0M620.5 155h0M621.5 132.5h0M674.5 166h0M648.5 174h0M642 148.5h0M641.5 142h0M615 169.5h0M654 164.5h0M626 147h0M685 145h0M649.5 151.5h0M624.5 153h0M612.5 142h0M663 176h0M623.5 167h0M655.5 161h0M640.5 171.5h0M646.5 165.5h0M613 138.5h0M651.5 170.5h0M592 126h0M604.5 154h0M620.5 154.5h0M569 153h0M678 160h0M682 170h0M695 164h0M672 166h0M660.5 146.5h0M648 156h0M656.5 151.5h0M659 169.5h0M605 165h0M653 162.5h0M598.5 135h0M648 153.5h0M668.5 179h0M673 170h0M665.5 180h0M686.5 171.5h0M637 139.5h0M658 170h0M625 153h0M622 141.5h0M617.5 143.5h0M654 173.5h0M657 161h0M661 172.5h0M618 135h0M643.5 129h0M689.5 173.5h0M681.5 163h0M642.5 179h0M629.5 149h0M659 176.5h0M660.5 172.5h0M638.5 173.5h0M624 163.5h0M641.5 153.5h0M651 145h0M645.5 137h0M620.5 151h0M648.5 179h0M656.5 151h0M643.5 165h0M627.5 138.5h0M659.5 146.5h0M676 181.5h0M666 160.5h0M624 127.5h0M648 169.5h0M634 156.5h0M615 126.5h0M633.5 160.5h0M682 158h0M625.5 154.5h0M656 152.5h0M605.5 145h0M577 142.5h0M681 178.5h0M650.5 154.5h0M641 172h0M654.5 150h0M652 158.5h0M662 154h0M654.5 156.5h0M632.5 177.5h0M662.5 152.5h0M600 138.5h0M644.5 173h0M637.5 163h0M643.5 179h0M681.5 179.5h0M660 139.5h0M621.5 149h0M662 170.5h0M673 176.5h0M627 157.5h0M636.5 138h0M588 136.5h0M616.5 161.5h0M671 155.5h0M640.5 152h0M619.5 157h0M570 163h0M635.5 138.5h0M620.5 141h0M622.5 154.5h0M692 162.5h0M621 162h0M630.5 160.5h0M645.5 163h0M628.5 178h0M648 141h0M628 152.5h0M654.5 178h0M680 179.5h0M625 156h0M633.5 141.5h0M644 134h0M648 169.5h0M675.5 170.5h0M657 160.5h0M624.5 134.5h0M621.5 169h0M663 172h0M605.5 146.5h0M630 144h0M654.5 166.5h0M679 156h0M617 158.5h0M619.5 143h0M695 178.5h0M611.5 167.5h0M644.5 161.5h0M603.5 163.5h0M687.5 171.5h0M671 178.5h0M655.5 175.5h0M636.5 162h0M655.5 139.5h0M665.5 149h0M640 156.5h0M672.5 170h0M648 157.5h0M670 181.5h0M638 179h0M636 169.5h0M641.5 139.5h0M641.5 139.5h0M640 178.5h0M647.5 157.5h0M651 130.5h0M645 166h0M650.5 167.5h0M650.5 151.5h0M622 133.5h0M592 139.5h0M688 175.5h0M642.5 168h0M642 160h0M630.5 153.5h0M632 167.5h0M615 171h0M665.5 159.5h0M679 172.5h0M645.5 150.5h0M626.5 143.5h0M683.5 159.5h0M653.5 126.5h0M657 151h0M640.5 163.5h0M623.5 130h0M644.5 157h0M626.5 169h0M632.5 159h0M645 148h0M690 169.5h0M645.5 159.5h0M642 160h0M608.5 155h0M659 165.5h0M657 156.5h0M663 163h0M663.5 148h0M666.5 154h0M633 156h0M607 133h0M679 161h0M591.5 150.5h0M681.5 160h0M688.5 151h0M628 160.5h0M640.5 162.5h0M675.5 170h0M681.5 176.5h0M669 177h0M648.5 165h0M678.5 170h0M660.5 170h0M629.5 143.5h0M672 155h0M656 157h0M668 173.5h0M622 144h0M625 139.5h0M612 152h0M624 149.5h0M645 141h0M623.5 157h0M656.5 159.5h0M623.5 163h0M632 131h0M643 170h0M642 157.5h0M616 148h0M664.5 178h0M696 159h0M674 169h0M618.5 173h0M641.5 154h0M643.5 175h0M631.5 152.5h0M589.5 131.5h0M644 181h0M660 174.5h0M667.5 163h0M617 172.5h0M673.5 170.5h0M639.5 176.5h0M644 155h0M657.5 166.5h0M611 151h0M664 177.5h0M652 161h0M635 156h0M668 159h0M594.5 136.5h0M690 163.5h0M622 164h0M686.5 164.5h0M642.5 151.5h0M609.5 146h0M634.5 139h0M657 170.5h0M654.5 162h0M668 160.5h0M641.5 149.5h0M635 169.5h0M623.5 160h0M602.5 153h0M635 174h0M616 159h0M612 155h0M649 172h0M628 157h0M615 164.5h0M661 152.5h0M617.5 165h0M634 167.5h0M648.5 160.5h0M609.5 144.5h0M643.5 133.5h0M661 161.5h0M637.5 165.5h0M626.5 154h0M637.5 124h0M661 167.5h0M640.5 160h0M628 145h0M596.5 171h0M619.5 146.5h0M601 134.5h0M676.5 180.5h0M644 176.5h0M604 175h0M590 144h0M620 113h0M641.5 168.5h0M624.5 166.5h0M663.5 150.5h0M566 106.5h0M615 145.5h0M633.5 156h0M638.5 158.5h0M641 142.5h0M622 159.5h0M633.5 143.5h0M620 144h0M617.5 138h0M633.5 151h0M621 168.5h0M675.5 174.5h0M646 182h0M620 155.5h0M673 155h0M661.5 155h0M583 132.5h0M624 161h0M643.5 139.5h0M620.5 181h0M642 175h0M641 172.5h0M649 172h0M636.5 172h0M651 149.5h0M651.5 180.5h0M667.5 173.5h0M590 167h0M611.5 158.5h0M668 176.5h0M671 167h0M687.5 176h0M638.5 163h0M606.5 159h0M635.5 180.5h0M623 146h0M621.5 164h0M686 178.5h0M654.5 168h0M688.5 165.5h0M631.5 168.5h0M657 172h0M655.5 171.5h0M684 173.5h0M652 167.5h0M605 165.5h0M643.5 158h0M662 156.5h0M638.5 173h0M654 180h0M670.5 175.5h0M616.5 152h0M648 160.5h0M641.5 173.5h0M654 164.5h0M637 160h0M637.5 171.5h0M604.5 151h0M640 176.5h0M660 157.5h0M679 168h0M649.5 165.5h0M660.5 170h0M632.5 158.5h0M642 168h0M616.5 148h0M633.5 172h0M663.5 151.5h0M599 137.5h0M679 146.5h0M669.5 162h0M665 170h0M654 146h0M648 167.5h0M626.5 145h0M637 163.5h0M642 160.5h0M636 154.5h0M612.5 155.5h0M576.5 129h0M641 167.5h0M663.5 156.5h0M681 166h0M650.5 169h0M679 175.5h0M662 167.5h0M631 153.5h0M612.5 148h0M613.5 149.5h0M647 158.5h0M669.5 175.5h0M659 169h0M619 162h0M659.5 151.5h0M639.5 152.5h0M617.5 175.5h0M639.5 167h0M642 169.5h0M644 165h0M647.5 162.5h0M596 135.5h0M639 151.5h0M671 162h0M672.5 169.5h0M677 181h0M661 150.5h0M668 168.5h0M646 148h0M650.5 142h0M658 173.5h0M672 163.5h0M644.5 148.5h0M661 155.5h0M604 167.5h0M677 158h0M639 145.5h0M640 135h0M686.5 171h0M655.5 173h0M645 170.5h0M628 162.5h0M657.5 170h0M636 172.5h0M675 172h0M627.5 161.5h0M626.5 143h0M607.5 159.5h0M598.5 128.5h0M667 179.5h0M614.5 150h0M681.5 160h0M677 175.5h0M635 164.5h0M622 139h0M611.5 134.5h0M646 132.5h0M640 170.5h0M659.5 150h0M673 167.5h0M655 146.5h0M620 141.5h0M653.5 169.5h0M673.5 181.5h0M674 149.5h0M648 157h0M641 178.5h0M598.5 150.5h0M586 130.5h0M656 168.5h0M605 154h0M634.5 179.5h0M655.5 172h0M644 163h0M653.5 165.5h0M617.5 161h0M621.5 145h0M636 170h0M624 157h0M592 133h0M637 156h0M658.5 175h0M648.5 158.5h0M646 169h0M637.5 176h0M643.5 164h0M658 150.5h0M671.5 180h0M650 179h0M627.5 166h0M664 177h0M615 154h0M648.5 169h0M619.5 141.5h0M648.5 167.5h0M623 180.5h0M636 164h0M591 138h0M649.5 162h0M633 157.5h0M640.5 162h0M628 157h0M621.5 135.5h0M671 179h0M691.5 157h0M669.5 150h0M634 147h0M579.5 141h0M674 179.5h0M653 177.5h0M699.5 178.5h0M665.5 145.5h0M593 138h0M650.5 170.5h0M662.5 166h0M613 140h0M677 158h0M675 157h0M639.5 158.5h0M628.5 138h0M663 172.5h0M648.5 171.5h0M636 161h0M602.5 150h0M624 154h0M649 171.5h0M675 173h0M671 163.5h0M636 162.5h0M613.5 130.5h0M650 161.5h0M637 181.5h0M611 154.5h0M607 156.5h0M672.5 164h0M637 180h0M660.5 169h0M659.5 146h0M650 146.5h0M641 147.5h0M637 151.5h0M662 179h0M656 154h0M624 160.5h0M674.5 171h0M662 137.5h0M644 157h0M662 165h0M616 138.5h0M627 173h0M599 147.5h0M653.5 179.5h0M643.5 178h0M698 171.5h0M656 153h0M618 158.5h0M650 167.5h0M702.5 173.5h0M691.5 161h0M589 124.5h0M630 151h0M648 158.5h0M661 138h0M683.5 171.5h0M665 175h0M666 158h0M630.5 141.5h0M700 182h0M637.5 141h0M633.5 156.5h0M673.5 165.5h0M660 177h0M657.5 164.5h0M630.5 134h0M667 168.5h0M653.5 179h0M650.5 159h0M674.5 175.5h0M669 147.5h0M642.5 148h0M669 176h0M639.5 139.5h0M643.5 164.5h0M659.5 175.5h0M650.5 157.5h0M652 176h0M581 152h0M629 151h0M650 157.5h0M670.5 145h0M632.5 155.5h0M626 157.5h0M594 147.5h0M572 126h0M668 181.5h0M635.5 138.5h0M681 182h0M643 180.5h0M681 174.5h0M638.5 140.5h0M627.5 174h0M642.5 141h0M654.5 146.5h0M621 140h0M646 148h0M672 171h0M644 163h0M613 142h0M636.5 165.5h0M694.5 172.5h0M697.5 172.5h0M663.5 181.5h0M673.5 155h0M651.5 159h0M660 142.5h0M656.5 134.5h0M638.5 143.5h0M627.5 170h0M672 160h0M664 172.5h0M648.5 174h0M583 141h0M618.5 173h0M673 169.5h0M647 181.5h0M597 159.5h0M630.5 137.5h0M627.5 158.5h0M653.5 139h0M633 152h0M630.5 163.5h0M642.5 178h0M645.5 162.5h0M693 176h0M675.5 161.5h0M661.5 142.5h0M689.5 157.5h0M662 174h0M654 180h0M693 150h0M648 163.5h0M691 175.5h0M671 162h0M654.5 150.5h0M662 174.5h0M647 155.5h0M650.5 162.5h0M604 165h0M634 157h0M649.5 174h0M649.5 178h0M605.5 155h0M644 172.5h0M633.5 164h0M617.5 152.5h0M681.5 172h0M592.5 142.5h0M607 148.5h0M675 159h0M639 148h0M656.5 149h0M660.5 171.5h0M585.5 128.5h0M669.5 179h0M651.5 168.5h0M650.5 163h0M638 147.5h0M623.5 173.5h0M662.5 162.5h0M635.5 164.5h0M630.5 158h0M652 148h0M589.5 141.5h0M675 158.5h0M631.5 143h0M644.5 155.5h0M646 176.5h0M643.5 172h0M621.5 143.5h0M692 176.5h0M639 168h0M666.5 173.5h0M588.5 146h0M610.5 148h0M652.5 173.5h0M676.5 168h0M684 153h0M633.5 158h0M675 167h0M669 166.5h0M648.5 165h0M650.5 162h0M634 163.5h0M675.5 171.5h0M653.5 155h0M653.5 167h0M664.5 162h0M627.5 137.5h0M633 164h0M608 145h0M622.5 121.5h0M665 156h0M638 180h0M613.5 145h0M632.5 168h0M626 150h0M625.5 169h0M629 147.5h0M602 173h0M627.5 139h0M661 177h0M643.5 167.5h0M680.5 157.5h0M606 147.5h0M629 143h0M621 154.5h0M643.5 178.5h0M635 153.5h0M595 131h0M641.5 176.5h0M618 149h0M689.5 181.5h0M684.5 177h0M672.5 166.5h0M674 177.5h0M663.5 149.5h0M668.5 175h0M624 162h0M667 164h0M617.5 153.5h0M624.5 143h0M602 141.5h0M631 168.5h0M641 171h0M603.5 151h0M655.5 165h0M616 156.5h0M682.5 174.5h0M657.5 173.5h0M669 180.5h0M681 172h0M614.5 124.5h0M636.5 179.5h0M615.5 161.5h0M601 159.5h0M702.5 161.5h0M635 166h0M673.5 177.5h0M626.5 162.5h0M652 148.5h0M626.5 126.5h0M633.5 165.5h0M645 174h0M654.5 159h0M645.5 167h0M676.5 164.5h0M651 148h0M638.5 163.5h0M679.5 155.5h0M646.5 149h0M701.5 170.5h0M669.5 159.5h0M638 154.5h0M644.5 173.5h0M680 161h0M628 158.5h0M661.5 175.5h0M666.5 170h0M618.5 162.5h0M580.5 132.5h0M659 146.5h0M671 180.5h0M658.5 155.5h0M644 168h0M656 142h0M635 172h0M678.5 152.5h0M677 171.5h0M642.5 160h0M650 165h0M604.5 144h0M671 156.5h0M625.5 147h0M682 170h0M662 160h0M649 159.5h0M576 147h0M632 163.5h0M651 156.5h0M643 159h0M623.5 153.5h0M692.5 177.5h0M691 179.5h0M615.5 126h0M624.5 160h0M661 157.5h0M675.5 176h0M616 147.5h0M640 176h0M635.5 145.5h0M642.5 178h0M668.5 147h0M672 169.5h0M647.5 151h0M626.5 141h0M666.5 168h0M603 152.5h0M633 140.5h0M656.5 148.5h0M627 164.5h0M676 163.5h0M613.5 146h0M660.5 163.5h0M598.5 137.5h0M596.5 173.5h0M659 161.5h0M579 148h0M690 164h0M604 133.5h0M603.5 156h0M652 145h0M649.5 151.5h0M658 175.5h0M599.5 146h0M641 160h0M649 172h0M669.5 160h0M625.5 168.5h0M702.5 181.5h0M685 171.5h0M653.5 154.5h0M625.5 157.5h0M616.5 143h0M666.5 158h0M661.5 177.5h0M692.5 174.5h0M636.5 171h0M663.5 166h0M658 165h0M652 160h0M608 150h0M629.5 145.5h0M681.5 169.5h0M636.5 173h0M650 170.5h0M643.5 157.5h0M651 172h0M655.5 155h0M673 165.5h0M654 166.5h0M664.5 168h0M653.5 152h0M632.5 145h0M663 173h0M648 155h0M621 151.5h0M624.5 159h0M597 127h0M640 151h0M652 167h0M641.5 159.5h0M629 152.5h0M647.5 153h0M633.5 142.5h0M679 181h0M641 153.5h0M664.5 150h0M626.5 141.5h0M696 176h0M640.5 167h0M642 165h0M677 169.5h0M652.5 179.5h0M638.5 138.5h0M647 173.5h0M643 164h0M700.5 182h0M645 145.5h0M656.5 171.5h0M697.5 176h0M632.5 182h0M656 168.5h0M624 156h0M641 161.5h0M668 156h0M644 170.5h0M661.5 182h0M666 166.5h0M644.5 140h0M653.5 153.5h0M693.5 181h0M660 176.5h0M630.5 148h0M657.5 159h0M630.5 156h0M622.5 175.5h0M676 168.5h0M673.5 151h0M661 163.5h0M673 154h0M693 170.5h0M677 175h0M645 161.5h0M649.5 169h0M632.5 168.5h0M664 163h0M636 143.5h0M640.5 146.5h0M653.5 163.5h0M647 159h0M649 167.5h0M662 179.5h0M701.5 169.5h0M670 172.5h0M635.5 167.5h0M668 170.5h0M674 163.5h0M647 171.5h0M687 156h0M672 169h0M609.5 152h0M655.5 168h0M677 146.5h0M608.5 175h0M678.5 175h0M620 156h0M645 164h0M577.5 141.5h0M606.5 153h0M650 157.5h0M579.5 176.5h0M668.5 162.5h0M673.5 175h0M659 147h0M652 143.5h0M660 151.5h0M662.5 171.5h0M634 177.5h0M618.5 168.5h0M611.5 151.5h0M654.5 157h0M655 168.5h0M668.5 176h0M656 174h0M633.5 142.5h0M675 165h0M660.5 182h0M650.5 174.5h0M644 172.5h0M670 164h0M663.5 165h0M630.5 145.5h0M645 173.5h0M662 164h0M647.5 171.5h0M653 176h0M645 167h0M615 167.5h0M671 145h0M651.5 171h0M682 150h0M652.5 158.5h0M595 150.5h0M628 145h0M674 148h0M680.5 180h0M647 137h0M667 167h0M624.5 157.5h0M628 162.5h0M676 173h0M647 155.5h0M607.5 157h0M630 140h0M659 159h0M602.5 169h0M623.5 139.5h0M663.5 172h0M671 178h0M681.5 158.5h0M680 178h0M671.5 172h0M623 143h0M668.5 174h0M616.5 163h0M647 163h0M633.5 170.5h0M690 172h0M657.5 163h0M646.5 152h0M640.5 180h0M672 177.5h0M616.5 166.5h0M674 159.5h0M633.5 161.5h0M627 134.5h0M655.5 162h0M644.5 163h0M664.5 147h0M645 173h0M620.5 133h0M603.5 153.5h0M634 172h0M661.5 129.5h0M596.5 112h0M629 144h0M650.5 176h0M672.5 165h0M582.5 139.5h0M623.5 166h0M663 160.5h0M622.5 166.5h0M675 145.5h0M650 174.5h0M658.5 164.5h0M659.5 163h0M602 138h0M632 165h0M615.5 151h0M694.5 157h0M672.5 174.5h0M652 154.5h0M624 136h0M672.5 164.5h0M638.5 143h0M594.5 153.5h0M668.5 180.5h0M656.5 160.5h0M702 181.5h0M646.5 153.5h0M649.5 148h0M620 146h0M654 154.5h0M655 160.5h0M598 164.5h0M650 181h0M625.5 174h0M650 143.5h0M657 163h0M650.5 152.5h0M653 152h0M688.5 176h0M624 157.5h0M652.5 163.5h0M601 152.5h0M651 164h0M661.5 176.5h0M688.5 161.5h0M628 149.5h0M677.5 167.5h0M609 136.5h0M640.5 163.5h0M644.5 162h0M601 151.5h0M617 147h0M627 161.5h0M664 176h0M657.5 172h0M637 168h0M624 179h0M650 169h0M658 165h0M619.5 148.5h0M693 170.5h0M687 157h0M650 164h0M624.5 166h0M629.5 138h0M659.5 166h0M662 178h0M648 147.5h0M631.5 126.5h0M697.5 177.5h0M681 169h0M680.5 156h0M660.5 182h0M669.5 170h0M639 163h0M677.5 174.5h0M648.5 169h0M617 152h0M620.5 119.5h0M640 163.5h0M650.5 155h0M606.5 164h0M592 129h0M632 155h0M663 153h0M671 178.5h0M698 162h0M620.5 147.5h0M634 159.5h0M632.5 173h0M635.5 169.5h0M627 159h0M614 154h0M625 176.5h0M632 140.5h0M640.5 154.5h0M615 158h0M655.5 141h0M624.5 155h0M685 177.5h0M659.5 178.5h0M675.5 177.5h0M632 173h0M696.5 179h0M632 146h0M643.5 158.5h0M680.5 152h0M651 171.5h0M650.5 149.5h0M689 173.5h0M651 166.5h0M637.5 164h0M612.5 152.5h0M616.5 158h0M620 143.5h0M618.5 126.5h0M615 141.5h0M662 168.5h0M692.5 169.5h0M667 151.5h0M654.5 165.5h0M627 160h0M684.5 164h0M648 162h0M630 159.5h0M655 180h0M627.5 179.5h0M602 154.5h0M635.5 134.5h0M631 150h0M671.5 163h0M620.5 164.5h0M594 165.5h0M605.5 164h0M632 160h0M669.5 158.5h0M686.5 167h0M645 154h0M680.5 164h0M670.5 166h0M612.5 156h0M660.5 180.5h0M655.5 148h0M649.5 160h0M655.5 158h0M701.5 180h0M636 170.5h0M621.5 148h0M608 152h0M665.5 175h0M647.5 173.5h0M637 137.5h0M623 150.5h0M605 175.5h0M616.5 145.5h0M628.5 152.5h0M656.5 152.5h0M648 147.5h0M678 178h0M669 161h0M673.5 171.5h0M641.5 160.5h0M651.5 133.5h0M676 147h0M653 144h0M630 134.5h0M642.5 171.5h0M637.5 166h0M653.5 171h0M656 177.5h0M653.5 151h0M629.5 174.5h0M648.5 146h0M655.5 173h0M681 171h0M683.5 170h0M597 132.5h0M679 175.5h0M658 158h0M701.5 159h0M598 161.5h0M656 175.5h0M628 177h0M637 152.5h0M655.5 177.5h0M664 165.5h0M592 134.5h0M620 154.5h0M698 171h0M632 157.5h0M644 161h0M656.5 126h0M613.5 149.5h0M672 174.5h0M694.5 158.5h0M662.5 177h0M613 151h0M652.5 149.5h0M667.5 173h0M670 176h0M618 130h0M618.5 157h0M617.5 129.5h0M651.5 168.5h0M638.5 160h0M645 141.5h0M653 163h0M613 162.5h0M654.5 147h0M666.5 152h0M699.5 176h0M628 147.5h0M676 175h0M626.5 169.5h0M643.5 165.5h0M598 127h0M577.5 122h0M650.5 137.5h0M666.5 181h0M605 149.5h0M658 162.5h0M672.5 156h0M639.5 153.5h0M671 181h0M680 176h0M607 139.5h0M678 176.5h0M609.5 162.5h0M689.5 165h0M653.5 165h0M654.5 166.5h0M669 151h0M685 146.5h0M605.5 142.5h0M651 167.5h0M691 178h0M609.5 151.5h0M663.5 164h0M665.5 169.5h0M686 176.5h0M650.5 166.5h0M641 154h0M641.5 166.5h0M664 159h0M682 139h0M685.5 158h0M625.5 134h0M626.5 144h0M632.5 157.5h0M621.5 158h0M640 168h0M640 161h0M680.5 166.5h0M690.5 167.5h0M652 173.5h0M634 139.5h0M642 156h0M633 172h0M657 161h0M591.5 152h0M695.5 173.5h0M641 164h0M635.5 135.5h0M664.5 162h0M630 180h0M627.5 149.5h0M609.5 154.5h0M697 167.5h0M620.5 149.5h0M676.5 173.5h0M658.5 135.5h0M657.5 179h0M620 181h0M685 177.5h0M678 174.5h0M650.5 142.5h0M657.5 164h0M612 151h0M673.5 181h0M669.5 168h0M581.5 158h0M674 167h0M622 155.5h0M653 178.5h0M671.5 171.5h0M630 164.5h0M635.5 116.5h0M659 160.5h0M647 180.5h0M602.5 138.5h0M654 172h0M661 150h0M619.5 141.5h0M624.5 147h0M665.5 153h0M599 142h0M649 163h0M661 176.5h0M673 145.5h0M659 162.5h0M652 151.5h0M645 164.5h0M675 174h0M655.5 164h0M619.5 130h0M620.5 153h0M648.5 164.5h0M620 159h0M600 143.5h0M669 175.5h0M641 147.5h0M635 145h0M628.5 156h0M649 142.5h0M612 178.5h0M636 168h0M634.5 159h0M632 156.5h0M662 172.5h0M626.5 161h0M648.5 167h0M667.5 165h0M640 145h0M660 167.5h0M610 136h0M659.5 172h0M656 155h0M678 173.5h0M632 140h0M643.5 175.5h0M626.5 139h0M668.5 147.5h0M610 141.5h0M659 165.5h0M648 157h0M651 178.5h0M690 178.5h0M658 153h0M688.5 153.5h0M660 178h0M655.5 160h0M663.5 160.5h0M612.5 155.5h0M684 170.5h0M663.5 168h0M660 158h0M645 162h0M701 169h0M665.5 177.5h0M635.5 150.5h0M644 139.5h0M618.5 141h0M654.5 156h0M661.5 169.5h0M611 154h0M686.5 161.5h0M643.5 164h0M645 180h0M621 149.5h0M608.5 148.5h0M634.5 159.5h0M609 150.5h0M668.5 167.5h0M646 163h0M639 145h0M629.5 134.5h0M646.5 141h0M635 154h0M671 173h0M573 140h0M641.5 170.5h0M625.5 148.5h0M614.5 146h0M636 170.5h0M615.5 155h0M623.5 150.5h0M692 162h0M620.5 169.5h0M656.5 174.5h0M667.5 142.5h0M615.5 168h0M618 147.5h0M620 163.5h0M674.5 179.5h0M682.5 150.5h0M631.5 142h0M627.5 159.5h0M628.5 123.5h0M635.5 169.5h0M667.5 165.5h0M592 120.5h0M662.5 177h0M633 150h0M655 155.5h0M646 157h0M624.5 149.5h0M660.5 180.5h0M680 156.5h0M643.5 161h0M661.5 163h0M660 156.5h0M621.5 158.5h0M582 141h0M653.5 162h0M627.5 148h0M650.5 163.5h0M657.5 150.5h0M638 159h0M655.5 159.5h0M676 160.5h0M635.5 139.5h0M678.5 164.5h0M665.5 176h0M670 176.5h0M587.5 136.5h0M649.5 175.5h0M601.5 147.5h0M653 180h0M631.5 123h0M678.5 165.5h0M617.5 149h0M652 149.5h0M659 181.5h0M638.5 172.5h0M640 141.5h0M645.5 178h0M644.5 137.5h0M602 143h0M664.5 154h0M620.5 152h0M655.5 168.5h0M578.5 118.5h0M619 138.5h0M589.5 126h0M630 154.5h0M599.5 137.5h0M651.5 164h0M621 144h0M692.5 178h0M651 147h0M677.5 153.5h0M643 153h0M649 174h0M612 142h0M648.5 163.5h0M660.5 168h0M617 158h0M616.5 143h0M646 174h0M671 178h0M646.5 174.5h0M665.5 175h0M650.5 168h0M685.5 166h0M661.5 164h0M630 146.5h0M624.5 151h0M623 147.5h0M630.5 164.5h0M692.5 172h0M643 169.5h0M609 148.5h0M678.5 181h0M633 178.5h0M649.5 141h0M622 141h0M668 147h0M629.5 176.5h0M616 130h0M632 157h0M633.5 163h0M653.5 145h0M646 156h0M616 150.5h0M618.5 140.5h0M673 175h0M672.5 142.5h0M610.5 155.5h0M604 147h0M637 143.5h0M682 179h0M636 158h0M646.5 167.5h0M656 167.5h0M613.5 138.5h0M624 148h0M637 138.5h0M638.5 148.5h0M641 163.5h0M610.5 143.5h0M621 164h0M675 179h0M631.5 174h0M644.5 171.5h0M638.5 123h0M630.5 164h0M622 154.5h0M665 176.5h0M646.5 175.5h0M671.5 176h0M624.5 144.5h0M617 159.5h0M653.5 157.5h0M680 164.5h0M667.5 167h0M617 152h0M643.5 180.5h0M629 163.5h0M640.5 141.5h0M669 167.5h0M644 175h0M651 170.5h0M661.5 174h0M631.5 146.5h0M654.5 151h0M662 162.5h0M652 158h0M618 145h0M629.5 158h0M628 168.5h0M613.5 130h0M631.5 163.5h0M620 128.5h0M641.5 144.5h0M629.5 144.5h0M570 137.5h0M660.5 169.5h0M671.5 178.5h0M650.5 162.5h0M635.5 168.5h0M658.5 166.5h0M680 163.5h0M616.5 168h0M677 165.5h0M636 132h0M640 175h0M655 155h0M646 177.5h0M669 154h0M655.5 169h0M655.5 173.5h0M682.5 173h0M681 174h0M607 157h0M613.5 144h0M627.5 169h0M667.5 163h0M690.5 175.5h0M596.5 154h0M634.5 182h0M631 163h0M606 163h0M666.5 157h0M637.5 170h0M696.5 178.5h0M623 172.5h0M667.5 156.5h0M674 165h0M695.5 166.5h0M657 170.5h0M609 141.5h0M664 172.5h0M689 159h0M697.5 180.5h0M661 174.5h0M666 168.5h0M619 141h0M643 168.5h0M632 144.5h0M698.5 177h0M655 154.5h0M675 173.5h0M636.5 169h0M638.5 164.5h0M698.5 169h0M636 147h0M653 162.5h0M618 181.5h0M634.5 145h0M636.5 156h0M641.5 165.5h0M588 162h0M655.5 154h0M617 152.5h0M676 156h0M653 153.5h0M605.5 128.5h0M632 171h0M630 144.5h0M641 169.5h0M637 162h0M683 136h0M675.5 177h0M606.5 173h0M617 160h0M628.5 139h0M648 155h0M645.5 160h0M629 143.5h0M638.5 173h0M659 168h0M635.5 142.5h0M681 178h0M657 154h0M612.5 163h0M651.5 164.5h0M640 180.5h0M643.5 165.5h0M651 142h0M686.5 173h0M629.5 171h0M648.5 179.5h0M660 181.5h0M671.5 163.5h0M676 140.5h0M648.5 166h0M667 181.5h0M640 154.5h0M631.5 161h0M623.5 156h0M691 171.5h0M605 130h0M619.5 155h0M629.5 163h0M673 181.5h0M629 126.5h0M645 180.5h0M651.5 172h0M640.5 155.5h0M668 164.5h0M679.5 180h0M643.5 179.5h0M672.5 147h0M617 179h0M605.5 155h0M652.5 164h0M588.5 114.5h0M660.5 177h0M595 144h0M641.5 158.5h0M669 168.5h0M627 149.5h0M648.5 165.5h0M641.5 172h0M621 137.5h0M678 171h0M612 130h0M653.5 169h0M631 139.5h0M631 163h0M638.5 175h0M632 147.5h0M624 152h0M650.5 144.5h0M683 162.5h0M674.5 156h0M643.5 149.5h0M618 168.5h0M627 129h0M605 146.5h0M689 176.5h0M657 178h0M680.5 176h0M650 162h0M589 144h0M635 162h0M656 154.5h0M613 127h0M619 145.5h0M666 149h0M602 181.5h0M630 162h0M631.5 133h0M622 142h0M627.5 160h0M617.5 160.5h0M643.5 167.5h0M680 178h0M619 138h0M674.5 177h0M627.5 158h0M636.5 172h0M615 144h0M677.5 167h0M613.5 148h0M581.5 137h0M641.5 157.5h0M611.5 147h0M665.5 171h0M621.5 158.5h0M648 178.5h0M631 172h0M590.5 138.5h0M669 175.5h0M691.5 179.5h0M626.5 146.5h0M646 153.5h0M663 148.5h0M646 156.5h0M667 151.5h0M633.5 164.5h0M644.5 176h0M612 146h0M688 159h0M648.5 163.5h0M657.5 173.5h0M635.5 151h0M640 156h0M660.5 180h0M652.5 177h0M658.5 165h0M578.5 164.5h0M686 168h0M657.5 182h0M641 133.5h0M675.5 163.5h0M637 167.5h0M588.5 128.5h0M640 166.5h0M659 171.5h0M648.5 151h0M690.5 179h0M672 165.5h0M645.5 159.5h0M645 151.5h0M647.5 167.5h0M644 166.5h0M668.5 172h0M648 172h0M640 169.5h0M649.5 163.5h0M660 165h0M626 150.5h0M632.5 115h0M617 154h0M657.5 159h0M648 166.5h0M595 144h0M661 168.5h0M602.5 156.5h0M642 163h0M643 156.5h0M657 157h0M670.5 168.5h0M670 178.5h0M637.5 176.5h0M634.5 162h0M632.5 155h0M656 167h0M631.5 141h0M587.5 156.5h0M628.5 155h0M648.5 171h0M671.5 169.5h0M626 133h0M679 181.5h0M624 141h0M621 151h0M697.5 172h0M636 158.5h0M618 149h0M649.5 162.5h0M633 152.5h0M636.5 154h0M643.5 132h0M638.5 168h0M629.5 149.5h0M636.5 132.5h0M684 174.5h0M654.5 169.5h0M639.5 172.5h0M611.5 149.5h0M657.5 164h0M697.5 182h0M664 176h0M674 168.5h0M597 144h0M611.5 167.5h0M669.5 167h0M652.5 24h0M669.5 106.5h0M519 142h0M638 28h0M494 8h0M489 41h0M616 179h0M674 69.5h0M629.5 75.5h0M610 162.5h0M575 172.5h0M664.5 62.5h0M685.5 113h0M477.5 71h0M617.5 153.5h0M472.5 25h0M511 144h0M659 174h0M589.5 30.5h0M522 123.5h0M640 44h0M548.5 90h0M569.5 137.5h0M518.5 21h0M573.5 177h0M591.5 36h0M629 123.5h0M629 150.5h0M502.5 37h0M509.5 112h0M574 180h0M514.5 47.5h0M624 40h0M511 139h0M515 18h0M608 139.5h0M608.5 42.5h0M683.5 98.5h0M614 171.5h0M592.5 17.5h0M635.5 42h0M578.5 146h0M609 33h0M582.5 157.5h0M488 144h0M600.5 107h0M614.5 86.5h0M671.5 125.5h0M513 118h0M472 30.5h0" stroke="#1010ff" stroke-width="1.5" stroke-linecap="square" fill="none"/><rect x="591.3" y="9.5" width="107.2" height="79.2" fill="#000"/><g filter="url(#bl2)"><g><path d="M634 37.2L623 40.2C627.5 43 629 47.5 628 51.5C627 55 623.5 57 619.5 57.2L630.4 61C629.6 55.5 630.4 49 634 37.2Z" fill="#222" stroke="#e6e6e6" stroke-width="1.7" stroke-linejoin="round"/><circle cx="619.5" cy="48.5" r="7.2" fill="#909090" stroke="#cfcfcf" stroke-width="1.2"/><circle cx="619.8" cy="48.2" r="4" fill="#a6a6a6"/><path d="M613.5 51L609 50.5" stroke="#b8b8b8" stroke-width="2.4"/><path d="M611 47.6C605.5 47.4 601.2 50.8 601.5 55C601.8 59.5 606.5 61.8 612.5 60.2C609.8 58.6 608 56.4 608 54.2C608 52 609.4 50.2 611.4 49Z" fill="#444" stroke="#d8d8d8" stroke-width="1.5" stroke-linejoin="round"/></g><g transform="translate(1288.8 -1.2) scale(-1 1)"><g><path d="M634 37.2L623 40.2C627.5 43 629 47.5 628 51.5C627 55 623.5 57 619.5 57.2L630.4 61C629.6 55.5 630.4 49 634 37.2Z" fill="#222" stroke="#e6e6e6" stroke-width="1.7" stroke-linejoin="round"/><circle cx="619.5" cy="48.5" r="7.2" fill="#909090" stroke="#cfcfcf" stroke-width="1.2"/><circle cx="619.8" cy="48.2" r="4" fill="#a6a6a6"/><path d="M613.5 51L609 50.5" stroke="#b8b8b8" stroke-width="2.4"/><path d="M611 47.6C605.5 47.4 601.2 50.8 601.5 55C601.8 59.5 606.5 61.8 612.5 60.2C609.8 58.6 608 56.4 608 54.2C608 52 609.4 50.2 611.4 49Z" fill="#444" stroke="#d8d8d8" stroke-width="1.5" stroke-linejoin="round"/></g></g><rect x="642.8" y="69.6" width="5.6" height="3.4" rx="1" fill="#6a6a6a"/></g><line x1="473.9" y1="60.6" x2="699.8" y2="196.3" stroke="#ae0008" stroke-width="3"/><path d="M484.8 62.2l4.4 6.2-4.4 6.2-4.4-6.2z" fill="none" stroke="#ae0008" stroke-width="2.6"/><path d="M643.8 158.2l4.4 6.2-4.4 6.2-4.4-6.2z" fill="none" stroke="#ae0008" stroke-width="2.6"/><line x1="500.1" y1="136.8" x2="520.4" y2="95.9" stroke="#e8892a" stroke-width="2.8"/><path d="M522.9 90.9L523.2 98.9L516.4 95.5Z" fill="#e8892a"/><path d="M497.6 141.8L504.1 137.2L497.3 133.8Z" fill="#e8892a"/><line x1="560.2" y1="128.9" x2="566" y2="124.5" stroke="#e8892a" stroke-width="2.8"/><path d="M569.8 121.6L567.2 128.1L562.8 122.4Z" fill="#e8892a"/><path d="M556.4 131.8L563.4 131L559 125.3Z" fill="#e8892a"/><line x1="605.6" y1="164.4" x2="628.2" y2="157.8" stroke="#e8892a" stroke-width="2.6"/><path d="M632.8 156.4L628 161.4L626.1 154.8Z" fill="#e8892a"/><path d="M601 165.8L607.7 167.4L605.8 160.8Z" fill="#e8892a"/><g fill="#e0506a"><circle cx="497.3" cy="142.4" r="1.1"/><circle cx="556" cy="132.2" r="1.1"/><circle cx="600.5" cy="166.1" r="1.1"/></g><text x="449.2" y="15.6" font-size="11.6" font-weight="bold" fill="#111">(d)</text><text x="586.8" y="203.3" font-size="7.5" fill="#262626" text-anchor="middle" textLength="42" lengthAdjust="spacingAndGlyphs">Fat intensity</text><text transform="translate(451.9 90) rotate(-90)" font-size="7.5" fill="#262626" text-anchor="middle" textLength="43.8" lengthAdjust="spacingAndGlyphs">Water intensity</text><text x="488" y="169.2" font-size="11.4" font-weight="bold" fill="#111" textLength="55.2" lengthAdjust="spacingAndGlyphs">bone index</text><defs><filter id="bl1" x="-5%" y="-5%" width="110%" height="110%" color-interpolation-filters="sRGB"><feGaussianBlur in="SourceGraphic" stdDeviation="0.7" result="b"/><feTurbulence type="fractalNoise" baseFrequency="0.22" numOctaves="2" seed="7" result="t"/><feColorMatrix in="t" type="matrix" values="1 0 0 0 0 1 0 0 0 0 1 0 0 0 0 0 0 0 0 1" result="tn"/><feComposite in="b" in2="tn" operator="arithmetic" k1="0.6" k2="0.7" k3="0" k4="0"/></filter><filter id="bl2" x="-10%" y="-10%" width="120%" height="120%"><feGaussianBlur stdDeviation="0.45"/></filter></defs><g filter="url(#bl1)"><path d="M9.5 50C10 40 15 30 23 23C31 17 43 12 60 9.5L120 8.5C138 10 152 17 160 28C165 36 167.5 48 167.7 62L168 96C168 100.5 166 102.6 161 102.6L16 102.2C11.5 102.2 9.2 99.5 9.2 95Z" fill="#2a2a2a" stroke="#505050" stroke-width="1.1"/><path d="M15.5 52C16 42 21 33 28 27C37 21 50 17 64 16L117 15.5C132 17 144 23 151 32C157 40 161 50 161 62L160.5 93C160.5 96.5 159 98 156 98L21 97.5C17.5 97.5 15.5 95.5 15.5 92Z" fill="#464646"/><path d="M52 19C72 16 104 16 124 19L125 25C104 22 72 22 50 25Z" fill="#343434"/><path d="M16 70C30 72 50 76 70 86L76 97.5L21 97.5C17.5 97.5 15.5 95.5 15.5 92Z" fill="#525252"/><path d="M160.5 68C148 72 128 76 108 86L100 97.5L156 98C159 98 160.5 96.5 160.5 93Z" fill="#525252"/><ellipse cx="46" cy="56" rx="19" ry="15" fill="#3c3c3c"/><ellipse cx="132" cy="54" rx="19" ry="15" fill="#3c3c3c"/><ellipse cx="31.5" cy="29.5" rx="6" ry="4.2" fill="#727272"/><ellipse cx="42" cy="35" rx="6" ry="6" fill="#767676"/><ellipse cx="22.5" cy="40" rx="5" ry="4.5" fill="#666"/><ellipse cx="32.5" cy="40.5" rx="4" ry="4" fill="#626262"/><ellipse cx="24" cy="50.5" rx="5" ry="6" fill="#5e5e5e"/><ellipse cx="55" cy="29.5" rx="5" ry="4" fill="#585858"/><ellipse cx="62" cy="31" rx="4" ry="3.5" fill="#545454"/><ellipse cx="121" cy="29.5" rx="5" ry="4.5" fill="#626262"/><ellipse cx="132" cy="34" rx="8" ry="6.5" fill="#747474"/><ellipse cx="140" cy="26" rx="6.5" ry="4.5" fill="#727272"/><ellipse cx="143.5" cy="37" rx="3.5" ry="4.5" fill="#686868"/><ellipse cx="153.5" cy="40" rx="6.5" ry="6.5" fill="#6a6a6a"/><ellipse cx="156" cy="51" rx="4.5" ry="5.5" fill="#606060"/><ellipse cx="113" cy="26" rx="4" ry="3" fill="#505050"/><path d="M30 59C34 64 40 67 48 68.5C56 71 64 77 70 83" stroke="#686868" stroke-width="2.8" fill="none" stroke-linecap="round"/><path d="M148 57C144 63 138 66 130 68C122 70 114 76 108 82" stroke="#686868" stroke-width="2.8" fill="none" stroke-linecap="round"/><path d="M66 30C75 27 102 27 112 30" stroke="#555" stroke-width="1.5" fill="none"/><path d="M22 74C38 78 55 83 70 90M156 73C140 77 123 82 108 89" stroke="#383838" stroke-width="1.3" fill="none"/><circle cx="49.5" cy="52.5" r="11.3" fill="#1c1c1c" stroke="#656565" stroke-width="2.4"/><circle cx="128.8" cy="51" r="11.3" fill="#1c1c1c" stroke="#656565" stroke-width="2.4"/><path d="M70 32C72 55 74 78 79 98M107 31C105 55 102 78 98 98" stroke="#585858" stroke-width="1.8" fill="none"/><path d="M64 38C66 60 68 80 72 98M113 37C112 60 110 80 106 98" stroke="#282828" stroke-width="1.4" fill="none"/><ellipse cx="86.5" cy="43" rx="9" ry="9.5" fill="#535353"/><ellipse cx="86.5" cy="41" rx="5" ry="5" fill="#606060"/><circle cx="89.7" cy="74" r="14.5" fill="#4e4e4e"/><circle cx="89.7" cy="74" r="12.3" fill="#2c2c2c"/><circle cx="89.7" cy="74" r="9.8" fill="#575757"/><ellipse cx="85" cy="78" rx="3.8" ry="3.2" fill="#808080"/><ellipse cx="93" cy="70" rx="3" ry="2.5" fill="#6e6e6e"/><ellipse cx="88" cy="69" rx="2" ry="2" fill="#363636"/><ellipse cx="94" cy="78" rx="2.2" ry="2.5" fill="#3a3a3a"/><path d="M88 86L88 101" stroke="#2a2a2a" stroke-width="1.5"/></g><text x="6.9" y="15" font-size="12" font-weight="bold" fill="#f4f4f4">(a)</text><g filter="url(#bl1)"><path d="M9.5 182C11 175 15 168 19.5 163.5C25 157 31 152 38 148.8C45 146 52 145 58 144.2C70 141.5 82 136.5 95 135.7C108 136 118 137.5 126 139.8C136 143 144 150 150 155.5C157 161 163 168 166.5 178L169.3 190L169.3 226C169.3 232 166 235.7 160 235.7L18 235.5C12 235.5 8.8 232 8.8 226Z" fill="#acacac" stroke="#8a8a8a" stroke-width="0.8"/><path d="M17.5 184C19 178 22 172 26 168C31 162 37 158 43 155.5C50 153 57 152 64 151.5C74 150.5 84 150 92 150C104 150 114 151 122 152.5C131 155 138 159 143 163C150 168 155 174 158.5 182L161 192L161 222C161 226 159 228 155 228L24 227.8C20 227.8 17.5 226 17.5 222Z" fill="#353535"/><path d="M18 180C18 170 24 162 33 157C42 154 55 152 66 152L66 162C55 164 45 168 38 176C33 181 28 186 24 190L18 190Z" fill="#5a5a5a"/><path d="M160 180C160 170 154 162 145 157C136 154 123 152 112 152L112 162C123 164 133 168 140 176C145 181 150 186 154 190L160 190Z" fill="#5a5a5a"/><ellipse cx="29.5" cy="160" rx="5" ry="4" fill="#1c1c1c" stroke="#8a8a8a" stroke-width="0.8"/><ellipse cx="41" cy="161.6" rx="5" ry="4.5" fill="#1c1c1c" stroke="#8a8a8a" stroke-width="0.8"/><ellipse cx="19.5" cy="170.3" rx="3.5" ry="5" fill="#1c1c1c" stroke="#8a8a8a" stroke-width="0.8"/><ellipse cx="54" cy="158.7" rx="5" ry="4" fill="#1c1c1c" stroke="#8a8a8a" stroke-width="0.8"/><ellipse cx="33.8" cy="168.8" rx="4.5" ry="4.5" fill="#1c1c1c" stroke="#8a8a8a" stroke-width="0.8"/><ellipse cx="25" cy="178" rx="4" ry="4.5" fill="#1c1c1c" stroke="#8a8a8a" stroke-width="0.8"/><ellipse cx="61.5" cy="157.3" rx="3.5" ry="3" fill="#1c1c1c" stroke="#8a8a8a" stroke-width="0.8"/><ellipse cx="117" cy="159" rx="5" ry="4.5" fill="#1c1c1c" stroke="#8a8a8a" stroke-width="0.8"/><ellipse cx="128" cy="157" rx="4" ry="3.5" fill="#1c1c1c" stroke="#8a8a8a" stroke-width="0.8"/><ellipse cx="141" cy="157" rx="7" ry="4.5" fill="#1c1c1c" stroke="#8a8a8a" stroke-width="0.8"/><ellipse cx="152" cy="168.7" rx="5" ry="5" fill="#1c1c1c" stroke="#8a8a8a" stroke-width="0.8"/><ellipse cx="154" cy="181" rx="4" ry="4.5" fill="#1c1c1c" stroke="#8a8a8a" stroke-width="0.8"/><ellipse cx="145" cy="171" rx="4" ry="4" fill="#1c1c1c" stroke="#8a8a8a" stroke-width="0.8"/><ellipse cx="148" cy="192" rx="3.5" ry="3.5" fill="#1c1c1c" stroke="#8a8a8a" stroke-width="0.8"/><path d="M56 149C72 143 108 142 126 148L124 158C108 154 72 154 58 158Z" fill="#c4c4c4"/><path d="M58 150C72 148 108 147.5 124 149.5" stroke="#555" stroke-width="1.2" fill="none"/><ellipse cx="75" cy="152" rx="2.5" ry="1.5" fill="#666"/><ellipse cx="106" cy="151.5" rx="2.5" ry="1.5" fill="#666"/><circle cx="42" cy="146" r="1" fill="#555"/><circle cx="47" cy="149" r="1" fill="#555"/><circle cx="52" cy="147" r="1" fill="#555"/><circle cx="63" cy="145" r="1" fill="#555"/><circle cx="68" cy="147" r="1" fill="#555"/><circle cx="100" cy="140" r="1" fill="#555"/><circle cx="118" cy="142" r="1" fill="#555"/><circle cx="124" cy="145" r="1" fill="#555"/><circle cx="131" cy="147" r="1" fill="#555"/><path d="M20 184C23 190 26 194 32 196" stroke="#9a9a9a" stroke-width="1.8" fill="none"/><path d="M158 184C155 190 152 194 146 196" stroke="#9a9a9a" stroke-width="1.8" fill="none"/><circle cx="50" cy="183" r="10.8" fill="#808080" stroke="#c8c8c8" stroke-width="2"/><circle cx="128" cy="182.3" r="10.8" fill="#808080" stroke="#c8c8c8" stroke-width="2"/><circle cx="49.5" cy="183" r="6.5" fill="#939393"/><circle cx="128" cy="182" r="6.5" fill="#939393"/><path d="M20 195C35 199 52 204 68 211" stroke="#b8b8b8" stroke-width="2.6" fill="none" stroke-linecap="round"/><path d="M27 201C38 203 46 205 54 207" stroke="#8a8a8a" stroke-width="1.4" fill="none"/><path d="M158 194C143 198 126 203 110 210" stroke="#b8b8b8" stroke-width="2.6" fill="none" stroke-linecap="round"/><path d="M151 200C140 202 132 204 124 206" stroke="#8a8a8a" stroke-width="1.4" fill="none"/><path d="M75.5 226C75.5 205 76 186 78 172C80 165 85 160.5 91 160.5C97 160.5 102 165 104 172C106 186 106.5 205 106 226Z" fill="#3a3a3a" stroke="#b4b4b4" stroke-width="3"/><path d="M80 189C80 176 83 165 91 164.5C99 165 102 176 102 189Z" fill="#262626"/><ellipse cx="90.5" cy="202.4" rx="12" ry="12" fill="#7a7a7a"/><ellipse cx="90.5" cy="202.4" rx="10" ry="10" fill="#2a2a2a"/><path d="M62 165C62 185 65 205 71 224M119 165C119 185 116 205 110 224" stroke="#8c8c8c" stroke-width="1.4" fill="none"/><path d="M22 214C35 211 50 213 66 219M22 222C36 219 52 221 68 226M157 213C144 210 129 212 113 218M156 221C142 218 126 220 110 225" stroke="#606060" stroke-width="1.1" fill="none"/><path d="M89.6 224L89.6 235" stroke="#404040" stroke-width="1.5"/></g><text x="6.9" y="142" font-size="12" font-weight="bold" fill="#f4f4f4">(b)</text></svg>
</body></html>
